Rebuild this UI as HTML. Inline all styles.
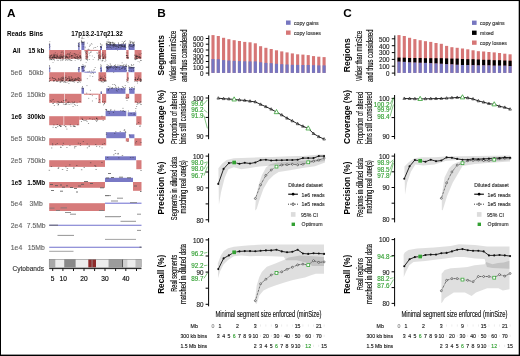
<!DOCTYPE html>
<html><head><meta charset="utf-8"><style>
html,body{margin:0;padding:0;background:#fff;}
body{width:520px;height:356px;overflow:hidden;}
svg{display:block;will-change:transform;font-family:"Liberation Sans", sans-serif;}
</style></head><body>
<svg width="520" height="356" viewBox="0 0 520 356">
<rect x="0" y="0" width="520" height="356" fill="#fff"/>
<text x="7.00" y="17.20" font-size="11.8" text-anchor="start" font-weight="bold" fill="#000" >A</text>
<text x="16.50" y="35.90" font-size="6.3" text-anchor="middle" font-weight="bold" fill="#000" >Reads</text>
<text x="36.20" y="35.90" font-size="6.3" text-anchor="middle" font-weight="bold" fill="#000" >Bins</text>
<text x="97.00" y="35.90" font-size="6.3" text-anchor="middle" font-weight="bold" fill="#000" textLength="51.4" lengthAdjust="spacingAndGlyphs" >17p13.2-17q21.32</text>
<text x="16.50" y="53.20" font-size="6.3" text-anchor="middle" font-weight="bold" fill="#000" >All</text>
<text x="36.20" y="53.20" font-size="6.3" text-anchor="middle" font-weight="bold" fill="#000" >15 kb</text>
<text x="16.50" y="75.40" font-size="6.8" text-anchor="middle" font-weight="normal" fill="#666"  stroke="#666" stroke-width="0.14">5e6</text>
<text x="36.20" y="75.40" font-size="6.8" text-anchor="middle" font-weight="normal" fill="#666"  stroke="#666" stroke-width="0.14">50kb</text>
<text x="16.50" y="97.00" font-size="6.8" text-anchor="middle" font-weight="normal" fill="#666"  stroke="#666" stroke-width="0.14">2e6</text>
<text x="36.20" y="97.00" font-size="6.8" text-anchor="middle" font-weight="normal" fill="#666"  stroke="#666" stroke-width="0.14">150kb</text>
<text x="16.50" y="119.40" font-size="6.3" text-anchor="middle" font-weight="bold" fill="#000" >1e6</text>
<text x="36.20" y="119.40" font-size="6.3" text-anchor="middle" font-weight="bold" fill="#000" >300kb</text>
<text x="16.50" y="141.40" font-size="6.8" text-anchor="middle" font-weight="normal" fill="#666"  stroke="#666" stroke-width="0.14">5e5</text>
<text x="36.20" y="141.40" font-size="6.8" text-anchor="middle" font-weight="normal" fill="#666"  stroke="#666" stroke-width="0.14">500kb</text>
<text x="16.50" y="163.40" font-size="6.8" text-anchor="middle" font-weight="normal" fill="#666"  stroke="#666" stroke-width="0.14">2e5</text>
<text x="36.20" y="163.40" font-size="6.8" text-anchor="middle" font-weight="normal" fill="#666"  stroke="#666" stroke-width="0.14">750kb</text>
<text x="16.50" y="185.20" font-size="6.3" text-anchor="middle" font-weight="bold" fill="#000" >1e5</text>
<text x="36.20" y="185.20" font-size="6.3" text-anchor="middle" font-weight="bold" fill="#000" >1.5Mb</text>
<text x="16.50" y="206.40" font-size="6.8" text-anchor="middle" font-weight="normal" fill="#666"  stroke="#666" stroke-width="0.14">5e4</text>
<text x="36.20" y="206.40" font-size="6.8" text-anchor="middle" font-weight="normal" fill="#666"  stroke="#666" stroke-width="0.14">3Mb</text>
<text x="16.50" y="228.40" font-size="6.8" text-anchor="middle" font-weight="normal" fill="#666"  stroke="#666" stroke-width="0.14">2e4</text>
<text x="36.20" y="228.40" font-size="6.8" text-anchor="middle" font-weight="normal" fill="#666"  stroke="#666" stroke-width="0.14">7.5Mb</text>
<text x="16.50" y="250.40" font-size="6.8" text-anchor="middle" font-weight="normal" fill="#666"  stroke="#666" stroke-width="0.14">1e4</text>
<text x="36.20" y="250.40" font-size="6.8" text-anchor="middle" font-weight="normal" fill="#666"  stroke="#666" stroke-width="0.14">15Mb</text>
<rect x="49.20" y="50.00" width="32.20" height="8.80" fill="#d47474" fill-opacity="0.95"/>
<rect x="49.20" y="44.00" width="1.00" height="6.00" fill="#7272c2" fill-opacity="0.95"/>
<rect x="78.20" y="43.00" width="1.40" height="7.00" fill="#7272c2" fill-opacity="0.95"/>
<rect x="81.40" y="42.00" width="3.00" height="8.00" fill="#7272c2" fill-opacity="0.95"/>
<line x1="84.40" y1="50.40" x2="98.30" y2="50.40" stroke="#d47474" stroke-width="1.0" />
<rect x="85.60" y="50.00" width="2.30" height="8.80" fill="#d47474" fill-opacity="0.95"/>
<rect x="98.30" y="50.00" width="2.70" height="8.80" fill="#d47474" fill-opacity="0.95"/>
<rect x="100.30" y="46.00" width="1.70" height="4.00" fill="#7272c2" fill-opacity="0.95"/>
<rect x="102.00" y="50.00" width="4.10" height="8.80" fill="#d47474" fill-opacity="0.95"/>
<rect x="106.10" y="44.20" width="19.90" height="5.80" fill="#7272c2" fill-opacity="0.95"/>
<rect x="126.30" y="50.00" width="2.30" height="8.80" fill="#d47474" fill-opacity="0.95"/>
<rect x="128.60" y="44.20" width="6.00" height="5.80" fill="#7272c2" fill-opacity="0.95"/>
<rect x="134.60" y="50.00" width="6.90" height="8.80" fill="#d47474" fill-opacity="0.95"/>
<rect x="59.18" y="58.51" width="0.90" height="0.6" fill="#1a1a1a" fill-opacity="0.6"/>
<rect x="51.08" y="59.14" width="0.90" height="0.6" fill="#1a1a1a" fill-opacity="0.6"/>
<rect x="66.01" y="56.46" width="0.90" height="0.6" fill="#1a1a1a" fill-opacity="0.6"/>
<rect x="65.09" y="57.39" width="0.90" height="0.6" fill="#1a1a1a" fill-opacity="0.6"/>
<rect x="49.96" y="56.24" width="0.90" height="0.6" fill="#1a1a1a" fill-opacity="0.6"/>
<rect x="51.67" y="57.19" width="0.90" height="0.6" fill="#1a1a1a" fill-opacity="0.6"/>
<rect x="62.42" y="57.35" width="0.90" height="0.6" fill="#1a1a1a" fill-opacity="0.6"/>
<rect x="55.94" y="56.03" width="0.90" height="0.6" fill="#1a1a1a" fill-opacity="0.6"/>
<rect x="68.95" y="59.26" width="0.90" height="0.6" fill="#1a1a1a" fill-opacity="0.6"/>
<rect x="61.52" y="56.10" width="0.90" height="0.6" fill="#1a1a1a" fill-opacity="0.6"/>
<rect x="80.19" y="60.50" width="0.90" height="0.6" fill="#1a1a1a" fill-opacity="0.6"/>
<rect x="58.08" y="57.98" width="0.90" height="0.6" fill="#1a1a1a" fill-opacity="0.6"/>
<rect x="53.40" y="58.11" width="0.90" height="0.6" fill="#1a1a1a" fill-opacity="0.6"/>
<rect x="75.03" y="58.00" width="0.90" height="0.6" fill="#1a1a1a" fill-opacity="0.6"/>
<rect x="54.57" y="54.54" width="0.90" height="0.6" fill="#1a1a1a" fill-opacity="0.6"/>
<rect x="60.74" y="55.57" width="0.90" height="0.6" fill="#1a1a1a" fill-opacity="0.6"/>
<rect x="66.39" y="57.51" width="0.90" height="0.6" fill="#1a1a1a" fill-opacity="0.6"/>
<rect x="55.38" y="57.16" width="0.90" height="0.6" fill="#1a1a1a" fill-opacity="0.6"/>
<rect x="70.66" y="55.42" width="0.90" height="0.6" fill="#1a1a1a" fill-opacity="0.6"/>
<rect x="67.61" y="57.63" width="0.90" height="0.6" fill="#1a1a1a" fill-opacity="0.6"/>
<rect x="63.34" y="55.86" width="0.90" height="0.6" fill="#1a1a1a" fill-opacity="0.6"/>
<rect x="71.26" y="60.12" width="0.90" height="0.6" fill="#1a1a1a" fill-opacity="0.6"/>
<rect x="56.61" y="54.83" width="0.90" height="0.6" fill="#1a1a1a" fill-opacity="0.6"/>
<rect x="76.93" y="55.85" width="0.90" height="0.6" fill="#1a1a1a" fill-opacity="0.6"/>
<rect x="72.24" y="55.64" width="0.90" height="0.6" fill="#1a1a1a" fill-opacity="0.6"/>
<rect x="52.55" y="62.07" width="0.90" height="0.6" fill="#1a1a1a" fill-opacity="0.6"/>
<rect x="62.21" y="56.95" width="0.90" height="0.6" fill="#1a1a1a" fill-opacity="0.6"/>
<rect x="64.49" y="55.81" width="0.90" height="0.6" fill="#1a1a1a" fill-opacity="0.6"/>
<rect x="50.01" y="55.31" width="0.90" height="0.6" fill="#1a1a1a" fill-opacity="0.6"/>
<rect x="67.20" y="54.09" width="0.90" height="0.6" fill="#1a1a1a" fill-opacity="0.6"/>
<rect x="76.94" y="55.76" width="0.90" height="0.6" fill="#1a1a1a" fill-opacity="0.6"/>
<rect x="67.89" y="59.60" width="0.90" height="0.6" fill="#1a1a1a" fill-opacity="0.6"/>
<rect x="67.42" y="53.40" width="0.90" height="0.6" fill="#1a1a1a" fill-opacity="0.6"/>
<rect x="79.17" y="57.89" width="0.90" height="0.6" fill="#1a1a1a" fill-opacity="0.6"/>
<rect x="64.02" y="56.55" width="0.90" height="0.6" fill="#1a1a1a" fill-opacity="0.6"/>
<rect x="71.34" y="56.32" width="0.90" height="0.6" fill="#1a1a1a" fill-opacity="0.6"/>
<rect x="69.59" y="60.43" width="0.90" height="0.6" fill="#1a1a1a" fill-opacity="0.6"/>
<rect x="57.91" y="56.75" width="0.90" height="0.6" fill="#1a1a1a" fill-opacity="0.6"/>
<rect x="61.17" y="56.70" width="0.90" height="0.6" fill="#1a1a1a" fill-opacity="0.6"/>
<rect x="63.62" y="56.55" width="0.90" height="0.6" fill="#1a1a1a" fill-opacity="0.6"/>
<rect x="54.16" y="57.39" width="0.90" height="0.6" fill="#1a1a1a" fill-opacity="0.6"/>
<rect x="73.49" y="57.34" width="0.90" height="0.6" fill="#1a1a1a" fill-opacity="0.6"/>
<rect x="52.91" y="56.93" width="0.90" height="0.6" fill="#1a1a1a" fill-opacity="0.6"/>
<rect x="76.81" y="58.79" width="0.90" height="0.6" fill="#1a1a1a" fill-opacity="0.6"/>
<rect x="51.34" y="54.62" width="0.90" height="0.6" fill="#1a1a1a" fill-opacity="0.6"/>
<rect x="77.19" y="57.65" width="0.90" height="0.6" fill="#1a1a1a" fill-opacity="0.6"/>
<rect x="75.13" y="57.91" width="0.90" height="0.6" fill="#1a1a1a" fill-opacity="0.6"/>
<rect x="62.12" y="55.74" width="0.90" height="0.6" fill="#1a1a1a" fill-opacity="0.6"/>
<rect x="60.30" y="60.47" width="0.90" height="0.6" fill="#1a1a1a" fill-opacity="0.6"/>
<rect x="53.61" y="53.72" width="0.90" height="0.6" fill="#1a1a1a" fill-opacity="0.6"/>
<rect x="54.42" y="57.06" width="0.90" height="0.6" fill="#1a1a1a" fill-opacity="0.6"/>
<rect x="64.37" y="58.28" width="0.90" height="0.6" fill="#1a1a1a" fill-opacity="0.6"/>
<rect x="67.72" y="56.89" width="0.90" height="0.6" fill="#1a1a1a" fill-opacity="0.6"/>
<rect x="62.24" y="57.07" width="0.90" height="0.6" fill="#1a1a1a" fill-opacity="0.6"/>
<rect x="60.64" y="52.60" width="0.90" height="0.6" fill="#1a1a1a" fill-opacity="0.6"/>
<rect x="70.98" y="55.00" width="0.90" height="0.6" fill="#1a1a1a" fill-opacity="0.6"/>
<rect x="65.35" y="54.79" width="0.90" height="0.6" fill="#1a1a1a" fill-opacity="0.6"/>
<rect x="50.49" y="54.98" width="0.90" height="0.6" fill="#1a1a1a" fill-opacity="0.6"/>
<rect x="77.71" y="57.62" width="0.90" height="0.6" fill="#1a1a1a" fill-opacity="0.6"/>
<rect x="74.44" y="53.10" width="0.90" height="0.6" fill="#1a1a1a" fill-opacity="0.6"/>
<rect x="61.38" y="56.18" width="0.90" height="0.6" fill="#1a1a1a" fill-opacity="0.6"/>
<rect x="69.17" y="57.43" width="0.90" height="0.6" fill="#1a1a1a" fill-opacity="0.6"/>
<rect x="50.75" y="58.09" width="0.90" height="0.6" fill="#1a1a1a" fill-opacity="0.6"/>
<rect x="53.98" y="57.43" width="0.90" height="0.6" fill="#1a1a1a" fill-opacity="0.6"/>
<rect x="59.70" y="56.94" width="0.90" height="0.6" fill="#1a1a1a" fill-opacity="0.6"/>
<rect x="53.62" y="56.91" width="0.90" height="0.6" fill="#1a1a1a" fill-opacity="0.6"/>
<rect x="52.02" y="56.62" width="0.90" height="0.6" fill="#1a1a1a" fill-opacity="0.6"/>
<rect x="76.90" y="57.23" width="0.90" height="0.6" fill="#1a1a1a" fill-opacity="0.6"/>
<rect x="68.52" y="57.76" width="0.90" height="0.6" fill="#1a1a1a" fill-opacity="0.6"/>
<rect x="59.94" y="58.06" width="0.90" height="0.6" fill="#1a1a1a" fill-opacity="0.6"/>
<rect x="60.48" y="59.55" width="0.90" height="0.6" fill="#1a1a1a" fill-opacity="0.6"/>
<rect x="80.73" y="59.48" width="0.90" height="0.6" fill="#1a1a1a" fill-opacity="0.6"/>
<rect x="63.75" y="56.10" width="0.90" height="0.6" fill="#1a1a1a" fill-opacity="0.6"/>
<rect x="52.04" y="56.98" width="0.90" height="0.6" fill="#1a1a1a" fill-opacity="0.6"/>
<rect x="59.78" y="56.57" width="0.90" height="0.6" fill="#1a1a1a" fill-opacity="0.6"/>
<rect x="53.95" y="60.45" width="0.90" height="0.6" fill="#1a1a1a" fill-opacity="0.6"/>
<rect x="49.49" y="59.12" width="0.90" height="0.6" fill="#1a1a1a" fill-opacity="0.6"/>
<rect x="53.47" y="56.19" width="0.90" height="0.6" fill="#1a1a1a" fill-opacity="0.6"/>
<rect x="66.24" y="59.20" width="0.90" height="0.6" fill="#1a1a1a" fill-opacity="0.6"/>
<rect x="80.26" y="57.29" width="0.90" height="0.6" fill="#1a1a1a" fill-opacity="0.6"/>
<rect x="76.55" y="56.41" width="0.90" height="0.6" fill="#1a1a1a" fill-opacity="0.6"/>
<rect x="60.56" y="55.51" width="0.90" height="0.6" fill="#1a1a1a" fill-opacity="0.6"/>
<rect x="54.13" y="57.22" width="0.90" height="0.6" fill="#1a1a1a" fill-opacity="0.6"/>
<rect x="73.84" y="54.58" width="0.90" height="0.6" fill="#1a1a1a" fill-opacity="0.6"/>
<rect x="59.37" y="57.49" width="0.90" height="0.6" fill="#1a1a1a" fill-opacity="0.6"/>
<rect x="80.46" y="60.32" width="0.90" height="0.6" fill="#1a1a1a" fill-opacity="0.6"/>
<rect x="76.20" y="58.11" width="0.90" height="0.6" fill="#1a1a1a" fill-opacity="0.6"/>
<rect x="72.57" y="53.61" width="0.90" height="0.6" fill="#1a1a1a" fill-opacity="0.6"/>
<rect x="56.05" y="55.13" width="0.90" height="0.6" fill="#1a1a1a" fill-opacity="0.6"/>
<rect x="49.68" y="56.70" width="0.90" height="0.6" fill="#1a1a1a" fill-opacity="0.6"/>
<rect x="49.65" y="56.63" width="0.90" height="0.6" fill="#1a1a1a" fill-opacity="0.6"/>
<rect x="71.05" y="58.35" width="0.90" height="0.6" fill="#1a1a1a" fill-opacity="0.6"/>
<rect x="79.55" y="52.68" width="0.90" height="0.6" fill="#1a1a1a" fill-opacity="0.6"/>
<rect x="80.56" y="58.35" width="0.90" height="0.6" fill="#1a1a1a" fill-opacity="0.6"/>
<rect x="79.50" y="56.02" width="0.90" height="0.6" fill="#1a1a1a" fill-opacity="0.6"/>
<rect x="56.05" y="57.91" width="0.90" height="0.6" fill="#1a1a1a" fill-opacity="0.6"/>
<rect x="55.08" y="57.65" width="0.90" height="0.6" fill="#1a1a1a" fill-opacity="0.6"/>
<rect x="77.74" y="59.45" width="0.90" height="0.6" fill="#1a1a1a" fill-opacity="0.6"/>
<rect x="75.81" y="54.16" width="0.90" height="0.6" fill="#1a1a1a" fill-opacity="0.6"/>
<rect x="74.50" y="57.26" width="0.90" height="0.6" fill="#1a1a1a" fill-opacity="0.6"/>
<rect x="51.48" y="54.68" width="0.90" height="0.6" fill="#1a1a1a" fill-opacity="0.6"/>
<rect x="73.94" y="53.37" width="0.90" height="0.6" fill="#1a1a1a" fill-opacity="0.6"/>
<rect x="72.90" y="55.72" width="0.90" height="0.6" fill="#1a1a1a" fill-opacity="0.6"/>
<rect x="74.16" y="57.06" width="0.90" height="0.6" fill="#1a1a1a" fill-opacity="0.6"/>
<rect x="59.46" y="58.49" width="0.90" height="0.6" fill="#1a1a1a" fill-opacity="0.6"/>
<rect x="61.50" y="52.08" width="0.90" height="0.6" fill="#1a1a1a" fill-opacity="0.6"/>
<rect x="61.67" y="59.78" width="0.90" height="0.6" fill="#1a1a1a" fill-opacity="0.6"/>
<rect x="54.22" y="55.90" width="0.90" height="0.6" fill="#1a1a1a" fill-opacity="0.6"/>
<rect x="52.84" y="59.30" width="0.90" height="0.6" fill="#1a1a1a" fill-opacity="0.6"/>
<rect x="74.72" y="60.25" width="0.90" height="0.6" fill="#1a1a1a" fill-opacity="0.6"/>
<rect x="53.46" y="59.36" width="0.90" height="0.6" fill="#1a1a1a" fill-opacity="0.6"/>
<rect x="69.91" y="52.18" width="0.90" height="0.6" fill="#1a1a1a" fill-opacity="0.6"/>
<rect x="60.03" y="55.94" width="0.90" height="0.6" fill="#1a1a1a" fill-opacity="0.6"/>
<rect x="49.21" y="56.60" width="0.90" height="0.6" fill="#1a1a1a" fill-opacity="0.6"/>
<rect x="80.01" y="55.53" width="0.90" height="0.6" fill="#1a1a1a" fill-opacity="0.6"/>
<rect x="78.81" y="55.02" width="0.90" height="0.6" fill="#1a1a1a" fill-opacity="0.6"/>
<rect x="62.72" y="59.36" width="0.90" height="0.6" fill="#1a1a1a" fill-opacity="0.6"/>
<rect x="55.55" y="54.34" width="0.90" height="0.6" fill="#1a1a1a" fill-opacity="0.6"/>
<rect x="56.86" y="56.52" width="0.90" height="0.6" fill="#1a1a1a" fill-opacity="0.6"/>
<rect x="67.63" y="58.26" width="0.90" height="0.6" fill="#1a1a1a" fill-opacity="0.6"/>
<rect x="57.10" y="56.02" width="0.90" height="0.6" fill="#1a1a1a" fill-opacity="0.6"/>
<rect x="78.05" y="57.39" width="0.90" height="0.6" fill="#1a1a1a" fill-opacity="0.6"/>
<rect x="60.14" y="54.47" width="0.90" height="0.6" fill="#1a1a1a" fill-opacity="0.6"/>
<rect x="77.87" y="57.55" width="0.90" height="0.6" fill="#1a1a1a" fill-opacity="0.6"/>
<rect x="62.29" y="58.85" width="0.90" height="0.6" fill="#1a1a1a" fill-opacity="0.6"/>
<rect x="65.87" y="55.79" width="0.90" height="0.6" fill="#1a1a1a" fill-opacity="0.6"/>
<rect x="65.61" y="58.93" width="0.90" height="0.6" fill="#1a1a1a" fill-opacity="0.6"/>
<rect x="54.65" y="57.14" width="0.90" height="0.6" fill="#1a1a1a" fill-opacity="0.6"/>
<rect x="48.88" y="57.26" width="0.90" height="0.6" fill="#1a1a1a" fill-opacity="0.6"/>
<rect x="64.00" y="55.79" width="0.90" height="0.6" fill="#1a1a1a" fill-opacity="0.6"/>
<rect x="72.10" y="55.32" width="0.90" height="0.6" fill="#1a1a1a" fill-opacity="0.6"/>
<rect x="65.44" y="56.31" width="0.90" height="0.6" fill="#1a1a1a" fill-opacity="0.6"/>
<rect x="66.64" y="57.09" width="0.90" height="0.6" fill="#1a1a1a" fill-opacity="0.6"/>
<rect x="66.79" y="56.02" width="0.90" height="0.6" fill="#1a1a1a" fill-opacity="0.6"/>
<rect x="56.75" y="56.35" width="0.90" height="0.6" fill="#1a1a1a" fill-opacity="0.6"/>
<rect x="65.10" y="60.12" width="0.90" height="0.6" fill="#1a1a1a" fill-opacity="0.6"/>
<rect x="66.84" y="57.16" width="0.90" height="0.6" fill="#1a1a1a" fill-opacity="0.6"/>
<rect x="63.02" y="52.71" width="0.90" height="0.6" fill="#1a1a1a" fill-opacity="0.6"/>
<rect x="68.47" y="54.62" width="0.90" height="0.6" fill="#1a1a1a" fill-opacity="0.6"/>
<rect x="71.06" y="56.82" width="0.90" height="0.6" fill="#1a1a1a" fill-opacity="0.6"/>
<rect x="63.32" y="54.78" width="0.90" height="0.6" fill="#1a1a1a" fill-opacity="0.6"/>
<rect x="79.07" y="56.45" width="0.90" height="0.6" fill="#1a1a1a" fill-opacity="0.6"/>
<rect x="71.26" y="60.14" width="0.90" height="0.6" fill="#1a1a1a" fill-opacity="0.6"/>
<rect x="57.11" y="53.72" width="0.90" height="0.6" fill="#1a1a1a" fill-opacity="0.6"/>
<rect x="66.77" y="60.31" width="0.90" height="0.6" fill="#1a1a1a" fill-opacity="0.6"/>
<rect x="53.17" y="55.63" width="0.90" height="0.6" fill="#1a1a1a" fill-opacity="0.6"/>
<rect x="52.67" y="56.21" width="0.90" height="0.6" fill="#1a1a1a" fill-opacity="0.6"/>
<rect x="56.50" y="57.16" width="0.90" height="0.6" fill="#1a1a1a" fill-opacity="0.6"/>
<rect x="51.10" y="55.29" width="0.90" height="0.6" fill="#1a1a1a" fill-opacity="0.6"/>
<rect x="77.63" y="53.99" width="0.90" height="0.6" fill="#1a1a1a" fill-opacity="0.6"/>
<rect x="53.72" y="56.31" width="0.90" height="0.6" fill="#1a1a1a" fill-opacity="0.6"/>
<rect x="53.35" y="54.17" width="0.90" height="0.6" fill="#1a1a1a" fill-opacity="0.6"/>
<rect x="77.18" y="58.21" width="0.90" height="0.6" fill="#1a1a1a" fill-opacity="0.6"/>
<rect x="79.42" y="56.63" width="0.90" height="0.6" fill="#1a1a1a" fill-opacity="0.6"/>
<rect x="61.57" y="51.16" width="0.90" height="0.6" fill="#1a1a1a" fill-opacity="0.6"/>
<rect x="75.55" y="57.36" width="0.90" height="0.6" fill="#1a1a1a" fill-opacity="0.6"/>
<rect x="53.95" y="54.82" width="0.90" height="0.6" fill="#1a1a1a" fill-opacity="0.6"/>
<rect x="59.67" y="57.85" width="0.90" height="0.6" fill="#1a1a1a" fill-opacity="0.6"/>
<rect x="55.05" y="55.63" width="0.90" height="0.6" fill="#1a1a1a" fill-opacity="0.6"/>
<rect x="49.38" y="59.66" width="0.90" height="0.6" fill="#1a1a1a" fill-opacity="0.6"/>
<rect x="66.59" y="56.56" width="0.90" height="0.6" fill="#1a1a1a" fill-opacity="0.6"/>
<rect x="59.42" y="57.03" width="0.90" height="0.6" fill="#1a1a1a" fill-opacity="0.6"/>
<rect x="68.84" y="56.21" width="0.90" height="0.6" fill="#1a1a1a" fill-opacity="0.6"/>
<rect x="80.47" y="56.85" width="0.90" height="0.6" fill="#1a1a1a" fill-opacity="0.6"/>
<rect x="74.14" y="57.78" width="0.90" height="0.6" fill="#1a1a1a" fill-opacity="0.6"/>
<rect x="57.30" y="56.74" width="0.90" height="0.6" fill="#1a1a1a" fill-opacity="0.6"/>
<rect x="50.02" y="57.17" width="0.90" height="0.6" fill="#1a1a1a" fill-opacity="0.6"/>
<rect x="52.92" y="55.42" width="0.90" height="0.6" fill="#1a1a1a" fill-opacity="0.6"/>
<rect x="62.35" y="59.88" width="0.90" height="0.6" fill="#1a1a1a" fill-opacity="0.6"/>
<rect x="57.08" y="55.04" width="0.90" height="0.6" fill="#1a1a1a" fill-opacity="0.6"/>
<rect x="53.56" y="59.06" width="0.90" height="0.6" fill="#1a1a1a" fill-opacity="0.6"/>
<rect x="71.30" y="55.70" width="0.90" height="0.6" fill="#1a1a1a" fill-opacity="0.6"/>
<rect x="51.63" y="59.61" width="0.90" height="0.6" fill="#1a1a1a" fill-opacity="0.6"/>
<rect x="62.45" y="57.93" width="0.90" height="0.6" fill="#1a1a1a" fill-opacity="0.6"/>
<rect x="51.08" y="59.40" width="0.90" height="0.6" fill="#1a1a1a" fill-opacity="0.6"/>
<rect x="74.56" y="55.88" width="0.90" height="0.6" fill="#1a1a1a" fill-opacity="0.6"/>
<rect x="51.45" y="57.34" width="0.90" height="0.6" fill="#1a1a1a" fill-opacity="0.6"/>
<rect x="76.53" y="56.35" width="0.90" height="0.6" fill="#1a1a1a" fill-opacity="0.6"/>
<rect x="63.36" y="55.62" width="0.90" height="0.6" fill="#1a1a1a" fill-opacity="0.6"/>
<rect x="78.59" y="58.94" width="0.90" height="0.6" fill="#1a1a1a" fill-opacity="0.6"/>
<rect x="57.38" y="58.50" width="0.90" height="0.6" fill="#1a1a1a" fill-opacity="0.6"/>
<rect x="56.43" y="58.59" width="0.90" height="0.6" fill="#1a1a1a" fill-opacity="0.6"/>
<rect x="52.27" y="57.22" width="0.90" height="0.6" fill="#1a1a1a" fill-opacity="0.6"/>
<rect x="55.25" y="57.42" width="0.90" height="0.6" fill="#1a1a1a" fill-opacity="0.6"/>
<rect x="58.80" y="55.81" width="0.90" height="0.6" fill="#1a1a1a" fill-opacity="0.6"/>
<rect x="58.09" y="59.92" width="0.90" height="0.6" fill="#1a1a1a" fill-opacity="0.6"/>
<rect x="64.85" y="57.67" width="0.90" height="0.6" fill="#1a1a1a" fill-opacity="0.6"/>
<rect x="49.33" y="58.48" width="0.90" height="0.6" fill="#1a1a1a" fill-opacity="0.6"/>
<rect x="56.81" y="59.97" width="0.90" height="0.6" fill="#1a1a1a" fill-opacity="0.6"/>
<rect x="66.49" y="57.20" width="0.90" height="0.6" fill="#1a1a1a" fill-opacity="0.6"/>
<rect x="54.85" y="52.52" width="0.90" height="0.6" fill="#1a1a1a" fill-opacity="0.6"/>
<rect x="52.17" y="57.60" width="0.90" height="0.6" fill="#1a1a1a" fill-opacity="0.6"/>
<rect x="75.12" y="54.88" width="0.90" height="0.6" fill="#1a1a1a" fill-opacity="0.6"/>
<rect x="75.62" y="57.82" width="0.90" height="0.6" fill="#1a1a1a" fill-opacity="0.6"/>
<rect x="61.41" y="54.00" width="0.90" height="0.6" fill="#1a1a1a" fill-opacity="0.6"/>
<rect x="80.38" y="56.78" width="0.90" height="0.6" fill="#1a1a1a" fill-opacity="0.6"/>
<rect x="59.79" y="58.37" width="0.90" height="0.6" fill="#1a1a1a" fill-opacity="0.6"/>
<rect x="69.23" y="54.31" width="0.90" height="0.6" fill="#1a1a1a" fill-opacity="0.6"/>
<rect x="61.78" y="56.53" width="0.90" height="0.6" fill="#1a1a1a" fill-opacity="0.6"/>
<rect x="52.93" y="57.42" width="0.90" height="0.6" fill="#1a1a1a" fill-opacity="0.6"/>
<rect x="51.03" y="56.82" width="0.90" height="0.6" fill="#1a1a1a" fill-opacity="0.6"/>
<rect x="54.01" y="55.44" width="0.90" height="0.6" fill="#1a1a1a" fill-opacity="0.6"/>
<rect x="51.47" y="58.98" width="0.90" height="0.6" fill="#1a1a1a" fill-opacity="0.6"/>
<rect x="70.34" y="53.67" width="0.90" height="0.6" fill="#1a1a1a" fill-opacity="0.6"/>
<rect x="57.83" y="56.98" width="0.90" height="0.6" fill="#1a1a1a" fill-opacity="0.6"/>
<rect x="63.54" y="58.48" width="0.90" height="0.6" fill="#1a1a1a" fill-opacity="0.6"/>
<rect x="53.82" y="55.50" width="0.90" height="0.6" fill="#1a1a1a" fill-opacity="0.6"/>
<rect x="79.72" y="57.40" width="0.90" height="0.6" fill="#1a1a1a" fill-opacity="0.6"/>
<rect x="80.07" y="55.54" width="0.90" height="0.6" fill="#1a1a1a" fill-opacity="0.6"/>
<rect x="79.84" y="56.49" width="0.90" height="0.6" fill="#1a1a1a" fill-opacity="0.6"/>
<rect x="58.72" y="56.85" width="0.90" height="0.6" fill="#1a1a1a" fill-opacity="0.6"/>
<rect x="61.04" y="56.97" width="0.90" height="0.6" fill="#1a1a1a" fill-opacity="0.6"/>
<rect x="64.03" y="55.63" width="0.90" height="0.6" fill="#1a1a1a" fill-opacity="0.6"/>
<rect x="65.00" y="56.88" width="0.90" height="0.6" fill="#1a1a1a" fill-opacity="0.6"/>
<rect x="48.91" y="56.83" width="0.90" height="0.6" fill="#1a1a1a" fill-opacity="0.6"/>
<rect x="61.61" y="57.72" width="0.90" height="0.6" fill="#1a1a1a" fill-opacity="0.6"/>
<rect x="50.09" y="58.50" width="0.90" height="0.6" fill="#1a1a1a" fill-opacity="0.6"/>
<rect x="56.25" y="57.13" width="0.90" height="0.6" fill="#1a1a1a" fill-opacity="0.6"/>
<rect x="67.61" y="53.79" width="0.90" height="0.6" fill="#1a1a1a" fill-opacity="0.6"/>
<rect x="69.92" y="56.32" width="0.90" height="0.6" fill="#1a1a1a" fill-opacity="0.6"/>
<rect x="71.80" y="58.27" width="0.90" height="0.6" fill="#1a1a1a" fill-opacity="0.6"/>
<rect x="59.25" y="55.60" width="0.90" height="0.6" fill="#1a1a1a" fill-opacity="0.6"/>
<rect x="80.46" y="58.70" width="0.90" height="0.6" fill="#1a1a1a" fill-opacity="0.6"/>
<rect x="69.46" y="59.36" width="0.90" height="0.6" fill="#1a1a1a" fill-opacity="0.6"/>
<rect x="50.16" y="58.95" width="0.90" height="0.6" fill="#1a1a1a" fill-opacity="0.6"/>
<rect x="68.95" y="53.45" width="0.90" height="0.6" fill="#1a1a1a" fill-opacity="0.6"/>
<rect x="72.38" y="57.30" width="0.90" height="0.6" fill="#1a1a1a" fill-opacity="0.6"/>
<rect x="65.61" y="55.94" width="0.90" height="0.6" fill="#1a1a1a" fill-opacity="0.6"/>
<rect x="64.99" y="58.65" width="0.90" height="0.6" fill="#1a1a1a" fill-opacity="0.6"/>
<rect x="75.36" y="53.94" width="0.90" height="0.6" fill="#1a1a1a" fill-opacity="0.6"/>
<rect x="67.56" y="59.15" width="0.90" height="0.6" fill="#1a1a1a" fill-opacity="0.6"/>
<rect x="71.08" y="55.10" width="0.90" height="0.6" fill="#1a1a1a" fill-opacity="0.6"/>
<rect x="56.15" y="57.90" width="0.90" height="0.6" fill="#1a1a1a" fill-opacity="0.6"/>
<rect x="60.36" y="57.10" width="0.90" height="0.6" fill="#1a1a1a" fill-opacity="0.6"/>
<rect x="52.13" y="58.15" width="0.90" height="0.6" fill="#1a1a1a" fill-opacity="0.6"/>
<rect x="68.96" y="54.82" width="0.90" height="0.6" fill="#1a1a1a" fill-opacity="0.6"/>
<rect x="68.91" y="55.97" width="0.90" height="0.6" fill="#1a1a1a" fill-opacity="0.6"/>
<rect x="48.86" y="54.90" width="0.90" height="0.6" fill="#1a1a1a" fill-opacity="0.6"/>
<rect x="74.44" y="56.88" width="0.90" height="0.6" fill="#1a1a1a" fill-opacity="0.6"/>
<rect x="65.98" y="54.65" width="0.90" height="0.6" fill="#1a1a1a" fill-opacity="0.6"/>
<rect x="69.98" y="59.74" width="0.90" height="0.6" fill="#1a1a1a" fill-opacity="0.6"/>
<rect x="49.00" y="45.43" width="0.90" height="0.6" fill="#1a1a1a" fill-opacity="0.6"/>
<rect x="48.82" y="43.88" width="0.90" height="0.6" fill="#1a1a1a" fill-opacity="0.6"/>
<rect x="48.96" y="47.24" width="0.90" height="0.6" fill="#1a1a1a" fill-opacity="0.6"/>
<rect x="49.49" y="46.37" width="0.90" height="0.6" fill="#1a1a1a" fill-opacity="0.6"/>
<rect x="49.13" y="43.84" width="0.90" height="0.6" fill="#1a1a1a" fill-opacity="0.6"/>
<rect x="49.23" y="42.87" width="0.90" height="0.6" fill="#1a1a1a" fill-opacity="0.6"/>
<rect x="49.37" y="41.21" width="0.90" height="0.6" fill="#1a1a1a" fill-opacity="0.6"/>
<rect x="78.65" y="44.13" width="0.90" height="0.6" fill="#1a1a1a" fill-opacity="0.6"/>
<rect x="78.11" y="43.68" width="0.90" height="0.6" fill="#1a1a1a" fill-opacity="0.6"/>
<rect x="78.79" y="42.35" width="0.90" height="0.6" fill="#1a1a1a" fill-opacity="0.6"/>
<rect x="77.77" y="45.50" width="0.90" height="0.6" fill="#1a1a1a" fill-opacity="0.6"/>
<rect x="77.83" y="42.85" width="0.90" height="0.6" fill="#1a1a1a" fill-opacity="0.6"/>
<rect x="78.72" y="46.00" width="0.90" height="0.6" fill="#1a1a1a" fill-opacity="0.6"/>
<rect x="78.70" y="42.60" width="0.90" height="0.6" fill="#1a1a1a" fill-opacity="0.6"/>
<rect x="78.40" y="45.40" width="0.90" height="0.6" fill="#1a1a1a" fill-opacity="0.6"/>
<rect x="78.40" y="46.14" width="0.90" height="0.6" fill="#1a1a1a" fill-opacity="0.6"/>
<rect x="78.03" y="45.91" width="0.90" height="0.6" fill="#1a1a1a" fill-opacity="0.6"/>
<rect x="83.88" y="42.51" width="0.90" height="0.6" fill="#1a1a1a" fill-opacity="0.6"/>
<rect x="82.33" y="42.04" width="0.90" height="0.6" fill="#1a1a1a" fill-opacity="0.6"/>
<rect x="83.41" y="44.21" width="0.90" height="0.6" fill="#1a1a1a" fill-opacity="0.6"/>
<rect x="81.76" y="41.77" width="0.90" height="0.6" fill="#1a1a1a" fill-opacity="0.6"/>
<rect x="81.58" y="43.41" width="0.90" height="0.6" fill="#1a1a1a" fill-opacity="0.6"/>
<rect x="82.69" y="41.74" width="0.90" height="0.6" fill="#1a1a1a" fill-opacity="0.6"/>
<rect x="81.38" y="37.54" width="0.90" height="0.6" fill="#1a1a1a" fill-opacity="0.6"/>
<rect x="81.35" y="41.47" width="0.90" height="0.6" fill="#1a1a1a" fill-opacity="0.6"/>
<rect x="83.41" y="38.22" width="0.90" height="0.6" fill="#1a1a1a" fill-opacity="0.6"/>
<rect x="83.06" y="41.96" width="0.90" height="0.6" fill="#1a1a1a" fill-opacity="0.6"/>
<rect x="81.64" y="43.94" width="0.90" height="0.6" fill="#1a1a1a" fill-opacity="0.6"/>
<rect x="81.02" y="40.87" width="0.90" height="0.6" fill="#1a1a1a" fill-opacity="0.6"/>
<rect x="80.96" y="40.10" width="0.90" height="0.6" fill="#1a1a1a" fill-opacity="0.6"/>
<rect x="81.86" y="42.29" width="0.90" height="0.6" fill="#1a1a1a" fill-opacity="0.6"/>
<rect x="81.37" y="41.26" width="0.90" height="0.6" fill="#1a1a1a" fill-opacity="0.6"/>
<rect x="83.47" y="43.56" width="0.90" height="0.6" fill="#1a1a1a" fill-opacity="0.6"/>
<rect x="80.96" y="42.20" width="0.90" height="0.6" fill="#1a1a1a" fill-opacity="0.6"/>
<rect x="81.31" y="38.55" width="0.90" height="0.6" fill="#1a1a1a" fill-opacity="0.6"/>
<rect x="83.73" y="41.24" width="0.90" height="0.6" fill="#1a1a1a" fill-opacity="0.6"/>
<rect x="81.82" y="38.20" width="0.90" height="0.6" fill="#1a1a1a" fill-opacity="0.6"/>
<rect x="82.07" y="36.73" width="0.90" height="0.6" fill="#1a1a1a" fill-opacity="0.6"/>
<rect x="82.72" y="46.52" width="0.90" height="0.6" fill="#1a1a1a" fill-opacity="0.6"/>
<rect x="88.96" y="46.27" width="0.90" height="0.6" fill="#1a1a1a" fill-opacity="0.6"/>
<rect x="84.62" y="51.36" width="0.90" height="0.6" fill="#1a1a1a" fill-opacity="0.6"/>
<rect x="85.36" y="51.68" width="0.90" height="0.6" fill="#1a1a1a" fill-opacity="0.6"/>
<rect x="96.95" y="46.34" width="0.90" height="0.6" fill="#1a1a1a" fill-opacity="0.6"/>
<rect x="87.42" y="49.14" width="0.90" height="0.6" fill="#1a1a1a" fill-opacity="0.6"/>
<rect x="86.59" y="55.35" width="0.90" height="0.6" fill="#1a1a1a" fill-opacity="0.6"/>
<rect x="89.14" y="59.19" width="0.90" height="0.6" fill="#1a1a1a" fill-opacity="0.6"/>
<rect x="95.24" y="47.02" width="0.90" height="0.6" fill="#1a1a1a" fill-opacity="0.6"/>
<rect x="92.72" y="59.36" width="0.90" height="0.6" fill="#1a1a1a" fill-opacity="0.6"/>
<rect x="91.58" y="43.86" width="0.90" height="0.6" fill="#1a1a1a" fill-opacity="0.6"/>
<rect x="93.95" y="57.04" width="0.90" height="0.6" fill="#1a1a1a" fill-opacity="0.6"/>
<rect x="90.22" y="52.06" width="0.90" height="0.6" fill="#1a1a1a" fill-opacity="0.6"/>
<rect x="94.41" y="47.30" width="0.90" height="0.6" fill="#1a1a1a" fill-opacity="0.6"/>
<rect x="84.63" y="46.63" width="0.90" height="0.6" fill="#1a1a1a" fill-opacity="0.6"/>
<rect x="96.83" y="53.44" width="0.90" height="0.6" fill="#1a1a1a" fill-opacity="0.6"/>
<rect x="88.73" y="53.55" width="0.90" height="0.6" fill="#1a1a1a" fill-opacity="0.6"/>
<rect x="88.09" y="48.81" width="0.90" height="0.6" fill="#1a1a1a" fill-opacity="0.6"/>
<rect x="87.57" y="36.74" width="0.90" height="0.6" fill="#1a1a1a" fill-opacity="0.6"/>
<rect x="93.07" y="47.80" width="0.90" height="0.6" fill="#1a1a1a" fill-opacity="0.6"/>
<rect x="89.43" y="55.46" width="0.90" height="0.6" fill="#1a1a1a" fill-opacity="0.6"/>
<rect x="86.28" y="51.41" width="0.90" height="0.6" fill="#1a1a1a" fill-opacity="0.6"/>
<rect x="96.54" y="52.46" width="0.90" height="0.6" fill="#1a1a1a" fill-opacity="0.6"/>
<rect x="90.86" y="51.64" width="0.90" height="0.6" fill="#1a1a1a" fill-opacity="0.6"/>
<rect x="97.80" y="59.85" width="0.90" height="0.6" fill="#1a1a1a" fill-opacity="0.6"/>
<rect x="90.20" y="51.69" width="0.90" height="0.6" fill="#1a1a1a" fill-opacity="0.6"/>
<rect x="85.21" y="52.09" width="0.90" height="0.6" fill="#1a1a1a" fill-opacity="0.6"/>
<rect x="88.70" y="52.65" width="0.90" height="0.6" fill="#1a1a1a" fill-opacity="0.6"/>
<rect x="87.54" y="51.60" width="0.90" height="0.6" fill="#1a1a1a" fill-opacity="0.6"/>
<rect x="91.87" y="55.70" width="0.90" height="0.6" fill="#1a1a1a" fill-opacity="0.6"/>
<rect x="89.69" y="44.56" width="0.90" height="0.6" fill="#1a1a1a" fill-opacity="0.6"/>
<rect x="89.70" y="45.13" width="0.90" height="0.6" fill="#1a1a1a" fill-opacity="0.6"/>
<rect x="88.65" y="49.00" width="0.90" height="0.6" fill="#1a1a1a" fill-opacity="0.6"/>
<rect x="84.81" y="47.56" width="0.90" height="0.6" fill="#1a1a1a" fill-opacity="0.6"/>
<rect x="85.70" y="61.96" width="0.90" height="0.6" fill="#1a1a1a" fill-opacity="0.6"/>
<rect x="90.95" y="43.20" width="0.90" height="0.6" fill="#1a1a1a" fill-opacity="0.6"/>
<rect x="86.95" y="42.81" width="0.90" height="0.6" fill="#1a1a1a" fill-opacity="0.6"/>
<rect x="85.77" y="56.92" width="0.90" height="0.6" fill="#1a1a1a" fill-opacity="0.6"/>
<rect x="86.18" y="58.82" width="0.90" height="0.6" fill="#1a1a1a" fill-opacity="0.6"/>
<rect x="87.34" y="59.14" width="0.90" height="0.6" fill="#1a1a1a" fill-opacity="0.6"/>
<rect x="85.20" y="53.76" width="0.90" height="0.6" fill="#1a1a1a" fill-opacity="0.6"/>
<rect x="85.22" y="55.88" width="0.90" height="0.6" fill="#1a1a1a" fill-opacity="0.6"/>
<rect x="86.24" y="52.99" width="0.90" height="0.6" fill="#1a1a1a" fill-opacity="0.6"/>
<rect x="86.50" y="58.79" width="0.90" height="0.6" fill="#1a1a1a" fill-opacity="0.6"/>
<rect x="87.28" y="56.90" width="0.90" height="0.6" fill="#1a1a1a" fill-opacity="0.6"/>
<rect x="87.05" y="60.03" width="0.90" height="0.6" fill="#1a1a1a" fill-opacity="0.6"/>
<rect x="85.72" y="52.89" width="0.90" height="0.6" fill="#1a1a1a" fill-opacity="0.6"/>
<rect x="85.40" y="58.21" width="0.90" height="0.6" fill="#1a1a1a" fill-opacity="0.6"/>
<rect x="86.72" y="58.81" width="0.90" height="0.6" fill="#1a1a1a" fill-opacity="0.6"/>
<rect x="87.32" y="56.42" width="0.90" height="0.6" fill="#1a1a1a" fill-opacity="0.6"/>
<rect x="86.91" y="54.20" width="0.90" height="0.6" fill="#1a1a1a" fill-opacity="0.6"/>
<rect x="86.20" y="56.39" width="0.90" height="0.6" fill="#1a1a1a" fill-opacity="0.6"/>
<rect x="86.95" y="56.73" width="0.90" height="0.6" fill="#1a1a1a" fill-opacity="0.6"/>
<rect x="85.68" y="59.30" width="0.90" height="0.6" fill="#1a1a1a" fill-opacity="0.6"/>
<rect x="98.67" y="55.58" width="0.90" height="0.6" fill="#1a1a1a" fill-opacity="0.6"/>
<rect x="98.20" y="56.87" width="0.90" height="0.6" fill="#1a1a1a" fill-opacity="0.6"/>
<rect x="99.74" y="59.60" width="0.90" height="0.6" fill="#1a1a1a" fill-opacity="0.6"/>
<rect x="98.15" y="58.99" width="0.90" height="0.6" fill="#1a1a1a" fill-opacity="0.6"/>
<rect x="99.42" y="57.89" width="0.90" height="0.6" fill="#1a1a1a" fill-opacity="0.6"/>
<rect x="98.90" y="57.33" width="0.90" height="0.6" fill="#1a1a1a" fill-opacity="0.6"/>
<rect x="97.88" y="59.44" width="0.90" height="0.6" fill="#1a1a1a" fill-opacity="0.6"/>
<rect x="98.66" y="52.24" width="0.90" height="0.6" fill="#1a1a1a" fill-opacity="0.6"/>
<rect x="99.59" y="58.07" width="0.90" height="0.6" fill="#1a1a1a" fill-opacity="0.6"/>
<rect x="100.24" y="55.53" width="0.90" height="0.6" fill="#1a1a1a" fill-opacity="0.6"/>
<rect x="98.52" y="57.11" width="0.90" height="0.6" fill="#1a1a1a" fill-opacity="0.6"/>
<rect x="100.44" y="56.44" width="0.90" height="0.6" fill="#1a1a1a" fill-opacity="0.6"/>
<rect x="97.91" y="55.34" width="0.90" height="0.6" fill="#1a1a1a" fill-opacity="0.6"/>
<rect x="99.20" y="55.99" width="0.90" height="0.6" fill="#1a1a1a" fill-opacity="0.6"/>
<rect x="98.54" y="55.14" width="0.90" height="0.6" fill="#1a1a1a" fill-opacity="0.6"/>
<rect x="99.65" y="58.11" width="0.90" height="0.6" fill="#1a1a1a" fill-opacity="0.6"/>
<rect x="97.94" y="56.28" width="0.90" height="0.6" fill="#1a1a1a" fill-opacity="0.6"/>
<rect x="98.76" y="54.37" width="0.90" height="0.6" fill="#1a1a1a" fill-opacity="0.6"/>
<rect x="98.38" y="58.28" width="0.90" height="0.6" fill="#1a1a1a" fill-opacity="0.6"/>
<rect x="100.00" y="56.75" width="0.90" height="0.6" fill="#1a1a1a" fill-opacity="0.6"/>
<rect x="100.20" y="43.93" width="0.90" height="0.6" fill="#1a1a1a" fill-opacity="0.6"/>
<rect x="101.50" y="44.85" width="0.90" height="0.6" fill="#1a1a1a" fill-opacity="0.6"/>
<rect x="100.24" y="49.44" width="0.90" height="0.6" fill="#1a1a1a" fill-opacity="0.6"/>
<rect x="100.23" y="46.28" width="0.90" height="0.6" fill="#1a1a1a" fill-opacity="0.6"/>
<rect x="101.47" y="44.60" width="0.90" height="0.6" fill="#1a1a1a" fill-opacity="0.6"/>
<rect x="100.69" y="46.70" width="0.90" height="0.6" fill="#1a1a1a" fill-opacity="0.6"/>
<rect x="100.56" y="47.43" width="0.90" height="0.6" fill="#1a1a1a" fill-opacity="0.6"/>
<rect x="100.98" y="47.19" width="0.90" height="0.6" fill="#1a1a1a" fill-opacity="0.6"/>
<rect x="100.52" y="45.84" width="0.90" height="0.6" fill="#1a1a1a" fill-opacity="0.6"/>
<rect x="100.21" y="47.22" width="0.90" height="0.6" fill="#1a1a1a" fill-opacity="0.6"/>
<rect x="99.94" y="46.01" width="0.90" height="0.6" fill="#1a1a1a" fill-opacity="0.6"/>
<rect x="99.95" y="43.00" width="0.90" height="0.6" fill="#1a1a1a" fill-opacity="0.6"/>
<rect x="105.17" y="59.42" width="0.90" height="0.6" fill="#1a1a1a" fill-opacity="0.6"/>
<rect x="104.55" y="61.30" width="0.90" height="0.6" fill="#1a1a1a" fill-opacity="0.6"/>
<rect x="102.90" y="56.83" width="0.90" height="0.6" fill="#1a1a1a" fill-opacity="0.6"/>
<rect x="102.31" y="59.79" width="0.90" height="0.6" fill="#1a1a1a" fill-opacity="0.6"/>
<rect x="101.68" y="55.67" width="0.90" height="0.6" fill="#1a1a1a" fill-opacity="0.6"/>
<rect x="104.27" y="55.57" width="0.90" height="0.6" fill="#1a1a1a" fill-opacity="0.6"/>
<rect x="102.91" y="58.17" width="0.90" height="0.6" fill="#1a1a1a" fill-opacity="0.6"/>
<rect x="102.24" y="58.44" width="0.90" height="0.6" fill="#1a1a1a" fill-opacity="0.6"/>
<rect x="102.99" y="56.93" width="0.90" height="0.6" fill="#1a1a1a" fill-opacity="0.6"/>
<rect x="105.47" y="60.40" width="0.90" height="0.6" fill="#1a1a1a" fill-opacity="0.6"/>
<rect x="102.40" y="60.34" width="0.90" height="0.6" fill="#1a1a1a" fill-opacity="0.6"/>
<rect x="103.01" y="58.43" width="0.90" height="0.6" fill="#1a1a1a" fill-opacity="0.6"/>
<rect x="103.32" y="53.72" width="0.90" height="0.6" fill="#1a1a1a" fill-opacity="0.6"/>
<rect x="101.75" y="55.09" width="0.90" height="0.6" fill="#1a1a1a" fill-opacity="0.6"/>
<rect x="105.32" y="57.20" width="0.90" height="0.6" fill="#1a1a1a" fill-opacity="0.6"/>
<rect x="102.34" y="54.24" width="0.90" height="0.6" fill="#1a1a1a" fill-opacity="0.6"/>
<rect x="101.67" y="59.95" width="0.90" height="0.6" fill="#1a1a1a" fill-opacity="0.6"/>
<rect x="103.23" y="58.13" width="0.90" height="0.6" fill="#1a1a1a" fill-opacity="0.6"/>
<rect x="101.72" y="53.90" width="0.90" height="0.6" fill="#1a1a1a" fill-opacity="0.6"/>
<rect x="101.69" y="60.85" width="0.90" height="0.6" fill="#1a1a1a" fill-opacity="0.6"/>
<rect x="102.60" y="58.54" width="0.90" height="0.6" fill="#1a1a1a" fill-opacity="0.6"/>
<rect x="104.61" y="58.29" width="0.90" height="0.6" fill="#1a1a1a" fill-opacity="0.6"/>
<rect x="102.67" y="55.87" width="0.90" height="0.6" fill="#1a1a1a" fill-opacity="0.6"/>
<rect x="105.48" y="55.80" width="0.90" height="0.6" fill="#1a1a1a" fill-opacity="0.6"/>
<rect x="104.49" y="55.91" width="0.90" height="0.6" fill="#1a1a1a" fill-opacity="0.6"/>
<rect x="102.85" y="56.87" width="0.90" height="0.6" fill="#1a1a1a" fill-opacity="0.6"/>
<rect x="104.65" y="57.06" width="0.90" height="0.6" fill="#1a1a1a" fill-opacity="0.6"/>
<rect x="105.31" y="53.87" width="0.90" height="0.6" fill="#1a1a1a" fill-opacity="0.6"/>
<rect x="101.65" y="53.51" width="0.90" height="0.6" fill="#1a1a1a" fill-opacity="0.6"/>
<rect x="102.51" y="52.20" width="0.90" height="0.6" fill="#1a1a1a" fill-opacity="0.6"/>
<rect x="124.63" y="45.12" width="0.90" height="0.6" fill="#1a1a1a" fill-opacity="0.6"/>
<rect x="113.34" y="44.37" width="0.90" height="0.6" fill="#1a1a1a" fill-opacity="0.6"/>
<rect x="115.47" y="46.39" width="0.90" height="0.6" fill="#1a1a1a" fill-opacity="0.6"/>
<rect x="124.12" y="45.78" width="0.90" height="0.6" fill="#1a1a1a" fill-opacity="0.6"/>
<rect x="120.35" y="47.50" width="0.90" height="0.6" fill="#1a1a1a" fill-opacity="0.6"/>
<rect x="122.02" y="44.75" width="0.90" height="0.6" fill="#1a1a1a" fill-opacity="0.6"/>
<rect x="112.17" y="41.81" width="0.90" height="0.6" fill="#1a1a1a" fill-opacity="0.6"/>
<rect x="112.01" y="42.24" width="0.90" height="0.6" fill="#1a1a1a" fill-opacity="0.6"/>
<rect x="107.22" y="46.91" width="0.90" height="0.6" fill="#1a1a1a" fill-opacity="0.6"/>
<rect x="109.58" y="44.41" width="0.90" height="0.6" fill="#1a1a1a" fill-opacity="0.6"/>
<rect x="106.94" y="42.95" width="0.90" height="0.6" fill="#1a1a1a" fill-opacity="0.6"/>
<rect x="106.32" y="42.78" width="0.90" height="0.6" fill="#1a1a1a" fill-opacity="0.6"/>
<rect x="125.16" y="43.83" width="0.90" height="0.6" fill="#1a1a1a" fill-opacity="0.6"/>
<rect x="123.23" y="45.87" width="0.90" height="0.6" fill="#1a1a1a" fill-opacity="0.6"/>
<rect x="107.32" y="44.27" width="0.90" height="0.6" fill="#1a1a1a" fill-opacity="0.6"/>
<rect x="107.57" y="41.39" width="0.90" height="0.6" fill="#1a1a1a" fill-opacity="0.6"/>
<rect x="114.54" y="44.41" width="0.90" height="0.6" fill="#1a1a1a" fill-opacity="0.6"/>
<rect x="110.31" y="42.09" width="0.90" height="0.6" fill="#1a1a1a" fill-opacity="0.6"/>
<rect x="119.06" y="45.70" width="0.90" height="0.6" fill="#1a1a1a" fill-opacity="0.6"/>
<rect x="120.53" y="45.99" width="0.90" height="0.6" fill="#1a1a1a" fill-opacity="0.6"/>
<rect x="108.06" y="42.08" width="0.90" height="0.6" fill="#1a1a1a" fill-opacity="0.6"/>
<rect x="122.38" y="43.71" width="0.90" height="0.6" fill="#1a1a1a" fill-opacity="0.6"/>
<rect x="113.07" y="46.75" width="0.90" height="0.6" fill="#1a1a1a" fill-opacity="0.6"/>
<rect x="120.34" y="44.83" width="0.90" height="0.6" fill="#1a1a1a" fill-opacity="0.6"/>
<rect x="110.53" y="45.74" width="0.90" height="0.6" fill="#1a1a1a" fill-opacity="0.6"/>
<rect x="108.70" y="46.24" width="0.90" height="0.6" fill="#1a1a1a" fill-opacity="0.6"/>
<rect x="112.14" y="42.72" width="0.90" height="0.6" fill="#1a1a1a" fill-opacity="0.6"/>
<rect x="113.53" y="46.64" width="0.90" height="0.6" fill="#1a1a1a" fill-opacity="0.6"/>
<rect x="110.25" y="44.27" width="0.90" height="0.6" fill="#1a1a1a" fill-opacity="0.6"/>
<rect x="121.74" y="41.05" width="0.90" height="0.6" fill="#1a1a1a" fill-opacity="0.6"/>
<rect x="107.69" y="39.59" width="0.90" height="0.6" fill="#1a1a1a" fill-opacity="0.6"/>
<rect x="115.10" y="45.91" width="0.90" height="0.6" fill="#1a1a1a" fill-opacity="0.6"/>
<rect x="123.85" y="41.08" width="0.90" height="0.6" fill="#1a1a1a" fill-opacity="0.6"/>
<rect x="106.45" y="44.12" width="0.90" height="0.6" fill="#1a1a1a" fill-opacity="0.6"/>
<rect x="109.42" y="45.30" width="0.90" height="0.6" fill="#1a1a1a" fill-opacity="0.6"/>
<rect x="125.01" y="40.58" width="0.90" height="0.6" fill="#1a1a1a" fill-opacity="0.6"/>
<rect x="113.06" y="42.19" width="0.90" height="0.6" fill="#1a1a1a" fill-opacity="0.6"/>
<rect x="122.89" y="42.98" width="0.90" height="0.6" fill="#1a1a1a" fill-opacity="0.6"/>
<rect x="121.13" y="44.84" width="0.90" height="0.6" fill="#1a1a1a" fill-opacity="0.6"/>
<rect x="124.47" y="46.39" width="0.90" height="0.6" fill="#1a1a1a" fill-opacity="0.6"/>
<rect x="117.99" y="45.96" width="0.90" height="0.6" fill="#1a1a1a" fill-opacity="0.6"/>
<rect x="109.98" y="43.67" width="0.90" height="0.6" fill="#1a1a1a" fill-opacity="0.6"/>
<rect x="109.71" y="45.15" width="0.90" height="0.6" fill="#1a1a1a" fill-opacity="0.6"/>
<rect x="110.72" y="42.14" width="0.90" height="0.6" fill="#1a1a1a" fill-opacity="0.6"/>
<rect x="109.70" y="42.77" width="0.90" height="0.6" fill="#1a1a1a" fill-opacity="0.6"/>
<rect x="105.88" y="43.04" width="0.90" height="0.6" fill="#1a1a1a" fill-opacity="0.6"/>
<rect x="109.33" y="46.91" width="0.90" height="0.6" fill="#1a1a1a" fill-opacity="0.6"/>
<rect x="111.86" y="45.36" width="0.90" height="0.6" fill="#1a1a1a" fill-opacity="0.6"/>
<rect x="116.56" y="47.62" width="0.90" height="0.6" fill="#1a1a1a" fill-opacity="0.6"/>
<rect x="106.91" y="45.91" width="0.90" height="0.6" fill="#1a1a1a" fill-opacity="0.6"/>
<rect x="116.60" y="45.51" width="0.90" height="0.6" fill="#1a1a1a" fill-opacity="0.6"/>
<rect x="118.37" y="45.33" width="0.90" height="0.6" fill="#1a1a1a" fill-opacity="0.6"/>
<rect x="119.49" y="45.00" width="0.90" height="0.6" fill="#1a1a1a" fill-opacity="0.6"/>
<rect x="113.80" y="44.04" width="0.90" height="0.6" fill="#1a1a1a" fill-opacity="0.6"/>
<rect x="124.62" y="45.97" width="0.90" height="0.6" fill="#1a1a1a" fill-opacity="0.6"/>
<rect x="111.87" y="42.75" width="0.90" height="0.6" fill="#1a1a1a" fill-opacity="0.6"/>
<rect x="113.94" y="43.65" width="0.90" height="0.6" fill="#1a1a1a" fill-opacity="0.6"/>
<rect x="122.85" y="46.19" width="0.90" height="0.6" fill="#1a1a1a" fill-opacity="0.6"/>
<rect x="109.57" y="44.34" width="0.90" height="0.6" fill="#1a1a1a" fill-opacity="0.6"/>
<rect x="120.14" y="44.44" width="0.90" height="0.6" fill="#1a1a1a" fill-opacity="0.6"/>
<rect x="123.59" y="44.58" width="0.90" height="0.6" fill="#1a1a1a" fill-opacity="0.6"/>
<rect x="114.08" y="45.21" width="0.90" height="0.6" fill="#1a1a1a" fill-opacity="0.6"/>
<rect x="123.22" y="42.63" width="0.90" height="0.6" fill="#1a1a1a" fill-opacity="0.6"/>
<rect x="114.82" y="44.55" width="0.90" height="0.6" fill="#1a1a1a" fill-opacity="0.6"/>
<rect x="116.63" y="44.66" width="0.90" height="0.6" fill="#1a1a1a" fill-opacity="0.6"/>
<rect x="118.40" y="45.07" width="0.90" height="0.6" fill="#1a1a1a" fill-opacity="0.6"/>
<rect x="118.03" y="43.94" width="0.90" height="0.6" fill="#1a1a1a" fill-opacity="0.6"/>
<rect x="113.03" y="43.31" width="0.90" height="0.6" fill="#1a1a1a" fill-opacity="0.6"/>
<rect x="111.29" y="44.35" width="0.90" height="0.6" fill="#1a1a1a" fill-opacity="0.6"/>
<rect x="116.02" y="45.19" width="0.90" height="0.6" fill="#1a1a1a" fill-opacity="0.6"/>
<rect x="115.41" y="43.97" width="0.90" height="0.6" fill="#1a1a1a" fill-opacity="0.6"/>
<rect x="121.67" y="45.61" width="0.90" height="0.6" fill="#1a1a1a" fill-opacity="0.6"/>
<rect x="108.17" y="44.12" width="0.90" height="0.6" fill="#1a1a1a" fill-opacity="0.6"/>
<rect x="124.42" y="46.54" width="0.90" height="0.6" fill="#1a1a1a" fill-opacity="0.6"/>
<rect x="106.71" y="44.05" width="0.90" height="0.6" fill="#1a1a1a" fill-opacity="0.6"/>
<rect x="124.08" y="41.24" width="0.90" height="0.6" fill="#1a1a1a" fill-opacity="0.6"/>
<rect x="117.99" y="47.04" width="0.90" height="0.6" fill="#1a1a1a" fill-opacity="0.6"/>
<rect x="122.06" y="46.16" width="0.90" height="0.6" fill="#1a1a1a" fill-opacity="0.6"/>
<rect x="110.07" y="47.20" width="0.90" height="0.6" fill="#1a1a1a" fill-opacity="0.6"/>
<rect x="113.70" y="46.41" width="0.90" height="0.6" fill="#1a1a1a" fill-opacity="0.6"/>
<rect x="109.29" y="41.44" width="0.90" height="0.6" fill="#1a1a1a" fill-opacity="0.6"/>
<rect x="109.99" y="42.53" width="0.90" height="0.6" fill="#1a1a1a" fill-opacity="0.6"/>
<rect x="113.28" y="45.73" width="0.90" height="0.6" fill="#1a1a1a" fill-opacity="0.6"/>
<rect x="108.10" y="44.44" width="0.90" height="0.6" fill="#1a1a1a" fill-opacity="0.6"/>
<rect x="123.51" y="47.43" width="0.90" height="0.6" fill="#1a1a1a" fill-opacity="0.6"/>
<rect x="106.47" y="41.42" width="0.90" height="0.6" fill="#1a1a1a" fill-opacity="0.6"/>
<rect x="106.41" y="43.16" width="0.90" height="0.6" fill="#1a1a1a" fill-opacity="0.6"/>
<rect x="122.33" y="46.28" width="0.90" height="0.6" fill="#1a1a1a" fill-opacity="0.6"/>
<rect x="116.60" y="46.11" width="0.90" height="0.6" fill="#1a1a1a" fill-opacity="0.6"/>
<rect x="118.13" y="43.69" width="0.90" height="0.6" fill="#1a1a1a" fill-opacity="0.6"/>
<rect x="117.24" y="46.24" width="0.90" height="0.6" fill="#1a1a1a" fill-opacity="0.6"/>
<rect x="114.12" y="43.26" width="0.90" height="0.6" fill="#1a1a1a" fill-opacity="0.6"/>
<rect x="114.37" y="42.64" width="0.90" height="0.6" fill="#1a1a1a" fill-opacity="0.6"/>
<rect x="106.12" y="42.76" width="0.90" height="0.6" fill="#1a1a1a" fill-opacity="0.6"/>
<rect x="110.33" y="42.88" width="0.90" height="0.6" fill="#1a1a1a" fill-opacity="0.6"/>
<rect x="120.84" y="44.77" width="0.90" height="0.6" fill="#1a1a1a" fill-opacity="0.6"/>
<rect x="109.22" y="42.31" width="0.90" height="0.6" fill="#1a1a1a" fill-opacity="0.6"/>
<rect x="115.07" y="45.16" width="0.90" height="0.6" fill="#1a1a1a" fill-opacity="0.6"/>
<rect x="114.22" y="45.00" width="0.90" height="0.6" fill="#1a1a1a" fill-opacity="0.6"/>
<rect x="107.48" y="42.26" width="0.90" height="0.6" fill="#1a1a1a" fill-opacity="0.6"/>
<rect x="106.46" y="45.19" width="0.90" height="0.6" fill="#1a1a1a" fill-opacity="0.6"/>
<rect x="118.32" y="47.07" width="0.90" height="0.6" fill="#1a1a1a" fill-opacity="0.6"/>
<rect x="121.12" y="45.91" width="0.90" height="0.6" fill="#1a1a1a" fill-opacity="0.6"/>
<rect x="115.83" y="46.50" width="0.90" height="0.6" fill="#1a1a1a" fill-opacity="0.6"/>
<rect x="113.17" y="45.13" width="0.90" height="0.6" fill="#1a1a1a" fill-opacity="0.6"/>
<rect x="124.57" y="46.84" width="0.90" height="0.6" fill="#1a1a1a" fill-opacity="0.6"/>
<rect x="125.47" y="47.21" width="0.90" height="0.6" fill="#1a1a1a" fill-opacity="0.6"/>
<rect x="120.22" y="44.88" width="0.90" height="0.6" fill="#1a1a1a" fill-opacity="0.6"/>
<rect x="125.19" y="43.24" width="0.90" height="0.6" fill="#1a1a1a" fill-opacity="0.6"/>
<rect x="115.44" y="48.45" width="0.90" height="0.6" fill="#1a1a1a" fill-opacity="0.6"/>
<rect x="108.94" y="43.24" width="0.90" height="0.6" fill="#1a1a1a" fill-opacity="0.6"/>
<rect x="121.34" y="45.01" width="0.90" height="0.6" fill="#1a1a1a" fill-opacity="0.6"/>
<rect x="112.63" y="44.08" width="0.90" height="0.6" fill="#1a1a1a" fill-opacity="0.6"/>
<rect x="120.70" y="46.57" width="0.90" height="0.6" fill="#1a1a1a" fill-opacity="0.6"/>
<rect x="111.12" y="47.78" width="0.90" height="0.6" fill="#1a1a1a" fill-opacity="0.6"/>
<rect x="121.88" y="45.77" width="0.90" height="0.6" fill="#1a1a1a" fill-opacity="0.6"/>
<rect x="123.96" y="46.14" width="0.90" height="0.6" fill="#1a1a1a" fill-opacity="0.6"/>
<rect x="109.80" y="44.20" width="0.90" height="0.6" fill="#1a1a1a" fill-opacity="0.6"/>
<rect x="112.00" y="46.63" width="0.90" height="0.6" fill="#1a1a1a" fill-opacity="0.6"/>
<rect x="106.38" y="44.85" width="0.90" height="0.6" fill="#1a1a1a" fill-opacity="0.6"/>
<rect x="124.28" y="45.41" width="0.90" height="0.6" fill="#1a1a1a" fill-opacity="0.6"/>
<rect x="119.18" y="45.29" width="0.90" height="0.6" fill="#1a1a1a" fill-opacity="0.6"/>
<rect x="121.27" y="43.67" width="0.90" height="0.6" fill="#1a1a1a" fill-opacity="0.6"/>
<rect x="107.94" y="41.73" width="0.90" height="0.6" fill="#1a1a1a" fill-opacity="0.6"/>
<rect x="112.81" y="43.86" width="0.90" height="0.6" fill="#1a1a1a" fill-opacity="0.6"/>
<rect x="123.02" y="42.03" width="0.90" height="0.6" fill="#1a1a1a" fill-opacity="0.6"/>
<rect x="123.21" y="43.53" width="0.90" height="0.6" fill="#1a1a1a" fill-opacity="0.6"/>
<rect x="107.73" y="47.06" width="0.90" height="0.6" fill="#1a1a1a" fill-opacity="0.6"/>
<rect x="113.50" y="44.26" width="0.90" height="0.6" fill="#1a1a1a" fill-opacity="0.6"/>
<rect x="121.52" y="43.84" width="0.90" height="0.6" fill="#1a1a1a" fill-opacity="0.6"/>
<rect x="117.14" y="50.15" width="0.90" height="0.6" fill="#1a1a1a" fill-opacity="0.6"/>
<rect x="112.82" y="44.57" width="0.90" height="0.6" fill="#1a1a1a" fill-opacity="0.6"/>
<rect x="109.17" y="42.34" width="0.90" height="0.6" fill="#1a1a1a" fill-opacity="0.6"/>
<rect x="120.45" y="47.74" width="0.90" height="0.6" fill="#1a1a1a" fill-opacity="0.6"/>
<rect x="110.70" y="45.43" width="0.90" height="0.6" fill="#1a1a1a" fill-opacity="0.6"/>
<rect x="118.37" y="46.89" width="0.90" height="0.6" fill="#1a1a1a" fill-opacity="0.6"/>
<rect x="118.86" y="44.13" width="0.90" height="0.6" fill="#1a1a1a" fill-opacity="0.6"/>
<rect x="111.87" y="44.88" width="0.90" height="0.6" fill="#1a1a1a" fill-opacity="0.6"/>
<rect x="108.62" y="44.39" width="0.90" height="0.6" fill="#1a1a1a" fill-opacity="0.6"/>
<rect x="117.91" y="42.31" width="0.90" height="0.6" fill="#1a1a1a" fill-opacity="0.6"/>
<rect x="123.47" y="45.32" width="0.90" height="0.6" fill="#1a1a1a" fill-opacity="0.6"/>
<rect x="108.28" y="44.77" width="0.90" height="0.6" fill="#1a1a1a" fill-opacity="0.6"/>
<rect x="106.09" y="47.12" width="0.90" height="0.6" fill="#1a1a1a" fill-opacity="0.6"/>
<rect x="105.70" y="43.83" width="0.90" height="0.6" fill="#1a1a1a" fill-opacity="0.6"/>
<rect x="112.76" y="45.09" width="0.90" height="0.6" fill="#1a1a1a" fill-opacity="0.6"/>
<rect x="110.11" y="42.19" width="0.90" height="0.6" fill="#1a1a1a" fill-opacity="0.6"/>
<rect x="109.71" y="43.11" width="0.90" height="0.6" fill="#1a1a1a" fill-opacity="0.6"/>
<rect x="118.07" y="43.37" width="0.90" height="0.6" fill="#1a1a1a" fill-opacity="0.6"/>
<rect x="124.29" y="44.54" width="0.90" height="0.6" fill="#1a1a1a" fill-opacity="0.6"/>
<rect x="126.41" y="57.40" width="0.90" height="0.6" fill="#1a1a1a" fill-opacity="0.6"/>
<rect x="127.32" y="57.59" width="0.90" height="0.6" fill="#1a1a1a" fill-opacity="0.6"/>
<rect x="127.85" y="57.29" width="0.90" height="0.6" fill="#1a1a1a" fill-opacity="0.6"/>
<rect x="126.46" y="55.01" width="0.90" height="0.6" fill="#1a1a1a" fill-opacity="0.6"/>
<rect x="125.88" y="55.40" width="0.90" height="0.6" fill="#1a1a1a" fill-opacity="0.6"/>
<rect x="126.66" y="54.97" width="0.90" height="0.6" fill="#1a1a1a" fill-opacity="0.6"/>
<rect x="127.33" y="52.71" width="0.90" height="0.6" fill="#1a1a1a" fill-opacity="0.6"/>
<rect x="127.54" y="58.45" width="0.90" height="0.6" fill="#1a1a1a" fill-opacity="0.6"/>
<rect x="126.42" y="57.37" width="0.90" height="0.6" fill="#1a1a1a" fill-opacity="0.6"/>
<rect x="127.07" y="56.58" width="0.90" height="0.6" fill="#1a1a1a" fill-opacity="0.6"/>
<rect x="126.78" y="56.95" width="0.90" height="0.6" fill="#1a1a1a" fill-opacity="0.6"/>
<rect x="127.64" y="57.56" width="0.90" height="0.6" fill="#1a1a1a" fill-opacity="0.6"/>
<rect x="125.88" y="52.61" width="0.90" height="0.6" fill="#1a1a1a" fill-opacity="0.6"/>
<rect x="126.18" y="55.48" width="0.90" height="0.6" fill="#1a1a1a" fill-opacity="0.6"/>
<rect x="126.31" y="55.14" width="0.90" height="0.6" fill="#1a1a1a" fill-opacity="0.6"/>
<rect x="127.33" y="55.48" width="0.90" height="0.6" fill="#1a1a1a" fill-opacity="0.6"/>
<rect x="127.72" y="57.65" width="0.90" height="0.6" fill="#1a1a1a" fill-opacity="0.6"/>
<rect x="129.95" y="45.83" width="0.90" height="0.6" fill="#1a1a1a" fill-opacity="0.6"/>
<rect x="128.44" y="46.93" width="0.90" height="0.6" fill="#1a1a1a" fill-opacity="0.6"/>
<rect x="132.44" y="42.25" width="0.90" height="0.6" fill="#1a1a1a" fill-opacity="0.6"/>
<rect x="128.19" y="46.14" width="0.90" height="0.6" fill="#1a1a1a" fill-opacity="0.6"/>
<rect x="130.94" y="41.78" width="0.90" height="0.6" fill="#1a1a1a" fill-opacity="0.6"/>
<rect x="132.60" y="43.08" width="0.90" height="0.6" fill="#1a1a1a" fill-opacity="0.6"/>
<rect x="128.78" y="44.78" width="0.90" height="0.6" fill="#1a1a1a" fill-opacity="0.6"/>
<rect x="129.54" y="46.05" width="0.90" height="0.6" fill="#1a1a1a" fill-opacity="0.6"/>
<rect x="132.65" y="44.79" width="0.90" height="0.6" fill="#1a1a1a" fill-opacity="0.6"/>
<rect x="132.32" y="46.07" width="0.90" height="0.6" fill="#1a1a1a" fill-opacity="0.6"/>
<rect x="129.75" y="41.91" width="0.90" height="0.6" fill="#1a1a1a" fill-opacity="0.6"/>
<rect x="131.47" y="41.30" width="0.90" height="0.6" fill="#1a1a1a" fill-opacity="0.6"/>
<rect x="131.29" y="45.69" width="0.90" height="0.6" fill="#1a1a1a" fill-opacity="0.6"/>
<rect x="129.74" y="41.29" width="0.90" height="0.6" fill="#1a1a1a" fill-opacity="0.6"/>
<rect x="129.45" y="40.55" width="0.90" height="0.6" fill="#1a1a1a" fill-opacity="0.6"/>
<rect x="133.43" y="45.85" width="0.90" height="0.6" fill="#1a1a1a" fill-opacity="0.6"/>
<rect x="129.57" y="44.52" width="0.90" height="0.6" fill="#1a1a1a" fill-opacity="0.6"/>
<rect x="132.61" y="47.34" width="0.90" height="0.6" fill="#1a1a1a" fill-opacity="0.6"/>
<rect x="130.11" y="43.31" width="0.90" height="0.6" fill="#1a1a1a" fill-opacity="0.6"/>
<rect x="133.43" y="43.71" width="0.90" height="0.6" fill="#1a1a1a" fill-opacity="0.6"/>
<rect x="133.60" y="45.62" width="0.90" height="0.6" fill="#1a1a1a" fill-opacity="0.6"/>
<rect x="131.93" y="43.39" width="0.90" height="0.6" fill="#1a1a1a" fill-opacity="0.6"/>
<rect x="134.02" y="41.75" width="0.90" height="0.6" fill="#1a1a1a" fill-opacity="0.6"/>
<rect x="130.97" y="45.95" width="0.90" height="0.6" fill="#1a1a1a" fill-opacity="0.6"/>
<rect x="133.30" y="41.90" width="0.90" height="0.6" fill="#1a1a1a" fill-opacity="0.6"/>
<rect x="130.77" y="43.99" width="0.90" height="0.6" fill="#1a1a1a" fill-opacity="0.6"/>
<rect x="130.00" y="41.94" width="0.90" height="0.6" fill="#1a1a1a" fill-opacity="0.6"/>
<rect x="129.42" y="43.83" width="0.90" height="0.6" fill="#1a1a1a" fill-opacity="0.6"/>
<rect x="133.61" y="43.85" width="0.90" height="0.6" fill="#1a1a1a" fill-opacity="0.6"/>
<rect x="129.02" y="45.27" width="0.90" height="0.6" fill="#1a1a1a" fill-opacity="0.6"/>
<rect x="133.72" y="44.53" width="0.90" height="0.6" fill="#1a1a1a" fill-opacity="0.6"/>
<rect x="130.22" y="44.67" width="0.90" height="0.6" fill="#1a1a1a" fill-opacity="0.6"/>
<rect x="128.40" y="44.74" width="0.90" height="0.6" fill="#1a1a1a" fill-opacity="0.6"/>
<rect x="132.31" y="42.42" width="0.90" height="0.6" fill="#1a1a1a" fill-opacity="0.6"/>
<rect x="132.57" y="42.19" width="0.90" height="0.6" fill="#1a1a1a" fill-opacity="0.6"/>
<rect x="128.54" y="42.86" width="0.90" height="0.6" fill="#1a1a1a" fill-opacity="0.6"/>
<rect x="133.06" y="43.41" width="0.90" height="0.6" fill="#1a1a1a" fill-opacity="0.6"/>
<rect x="133.07" y="44.92" width="0.90" height="0.6" fill="#1a1a1a" fill-opacity="0.6"/>
<rect x="133.36" y="43.94" width="0.90" height="0.6" fill="#1a1a1a" fill-opacity="0.6"/>
<rect x="133.64" y="45.23" width="0.90" height="0.6" fill="#1a1a1a" fill-opacity="0.6"/>
<rect x="129.38" y="44.07" width="0.90" height="0.6" fill="#1a1a1a" fill-opacity="0.6"/>
<rect x="128.82" y="47.98" width="0.90" height="0.6" fill="#1a1a1a" fill-opacity="0.6"/>
<rect x="133.02" y="45.17" width="0.90" height="0.6" fill="#1a1a1a" fill-opacity="0.6"/>
<rect x="131.96" y="45.60" width="0.90" height="0.6" fill="#1a1a1a" fill-opacity="0.6"/>
<rect x="129.87" y="41.99" width="0.90" height="0.6" fill="#1a1a1a" fill-opacity="0.6"/>
<rect x="134.84" y="59.51" width="0.90" height="0.6" fill="#1a1a1a" fill-opacity="0.6"/>
<rect x="135.56" y="58.74" width="0.90" height="0.6" fill="#1a1a1a" fill-opacity="0.6"/>
<rect x="136.35" y="56.55" width="0.90" height="0.6" fill="#1a1a1a" fill-opacity="0.6"/>
<rect x="135.92" y="57.08" width="0.90" height="0.6" fill="#1a1a1a" fill-opacity="0.6"/>
<rect x="136.10" y="56.51" width="0.90" height="0.6" fill="#1a1a1a" fill-opacity="0.6"/>
<rect x="136.36" y="55.12" width="0.90" height="0.6" fill="#1a1a1a" fill-opacity="0.6"/>
<rect x="140.80" y="53.19" width="0.90" height="0.6" fill="#1a1a1a" fill-opacity="0.6"/>
<rect x="138.42" y="56.81" width="0.90" height="0.6" fill="#1a1a1a" fill-opacity="0.6"/>
<rect x="134.36" y="55.16" width="0.90" height="0.6" fill="#1a1a1a" fill-opacity="0.6"/>
<rect x="139.48" y="57.96" width="0.90" height="0.6" fill="#1a1a1a" fill-opacity="0.6"/>
<rect x="136.54" y="56.24" width="0.90" height="0.6" fill="#1a1a1a" fill-opacity="0.6"/>
<rect x="135.64" y="54.63" width="0.90" height="0.6" fill="#1a1a1a" fill-opacity="0.6"/>
<rect x="140.10" y="59.86" width="0.90" height="0.6" fill="#1a1a1a" fill-opacity="0.6"/>
<rect x="135.33" y="58.80" width="0.90" height="0.6" fill="#1a1a1a" fill-opacity="0.6"/>
<rect x="134.16" y="57.86" width="0.90" height="0.6" fill="#1a1a1a" fill-opacity="0.6"/>
<rect x="140.90" y="59.98" width="0.90" height="0.6" fill="#1a1a1a" fill-opacity="0.6"/>
<rect x="134.18" y="54.69" width="0.90" height="0.6" fill="#1a1a1a" fill-opacity="0.6"/>
<rect x="139.65" y="57.03" width="0.90" height="0.6" fill="#1a1a1a" fill-opacity="0.6"/>
<rect x="135.42" y="55.15" width="0.90" height="0.6" fill="#1a1a1a" fill-opacity="0.6"/>
<rect x="139.89" y="56.96" width="0.90" height="0.6" fill="#1a1a1a" fill-opacity="0.6"/>
<rect x="135.95" y="58.36" width="0.90" height="0.6" fill="#1a1a1a" fill-opacity="0.6"/>
<rect x="135.63" y="56.36" width="0.90" height="0.6" fill="#1a1a1a" fill-opacity="0.6"/>
<rect x="138.98" y="55.98" width="0.90" height="0.6" fill="#1a1a1a" fill-opacity="0.6"/>
<rect x="138.54" y="56.91" width="0.90" height="0.6" fill="#1a1a1a" fill-opacity="0.6"/>
<rect x="134.71" y="57.59" width="0.90" height="0.6" fill="#1a1a1a" fill-opacity="0.6"/>
<rect x="139.58" y="54.05" width="0.90" height="0.6" fill="#1a1a1a" fill-opacity="0.6"/>
<rect x="138.48" y="55.71" width="0.90" height="0.6" fill="#1a1a1a" fill-opacity="0.6"/>
<rect x="136.87" y="58.42" width="0.90" height="0.6" fill="#1a1a1a" fill-opacity="0.6"/>
<rect x="140.29" y="60.31" width="0.90" height="0.6" fill="#1a1a1a" fill-opacity="0.6"/>
<rect x="134.32" y="58.95" width="0.90" height="0.6" fill="#1a1a1a" fill-opacity="0.6"/>
<rect x="135.57" y="56.56" width="0.90" height="0.6" fill="#1a1a1a" fill-opacity="0.6"/>
<rect x="137.61" y="60.97" width="0.90" height="0.6" fill="#1a1a1a" fill-opacity="0.6"/>
<rect x="136.77" y="57.93" width="0.90" height="0.6" fill="#1a1a1a" fill-opacity="0.6"/>
<rect x="137.33" y="55.98" width="0.90" height="0.6" fill="#1a1a1a" fill-opacity="0.6"/>
<rect x="137.82" y="56.99" width="0.90" height="0.6" fill="#1a1a1a" fill-opacity="0.6"/>
<rect x="138.61" y="53.72" width="0.90" height="0.6" fill="#1a1a1a" fill-opacity="0.6"/>
<rect x="136.55" y="56.39" width="0.90" height="0.6" fill="#1a1a1a" fill-opacity="0.6"/>
<rect x="139.97" y="57.88" width="0.90" height="0.6" fill="#1a1a1a" fill-opacity="0.6"/>
<rect x="138.72" y="56.84" width="0.90" height="0.6" fill="#1a1a1a" fill-opacity="0.6"/>
<rect x="137.18" y="55.74" width="0.90" height="0.6" fill="#1a1a1a" fill-opacity="0.6"/>
<rect x="139.49" y="56.03" width="0.90" height="0.6" fill="#1a1a1a" fill-opacity="0.6"/>
<rect x="137.34" y="56.43" width="0.90" height="0.6" fill="#1a1a1a" fill-opacity="0.6"/>
<rect x="140.26" y="56.99" width="0.90" height="0.6" fill="#1a1a1a" fill-opacity="0.6"/>
<rect x="136.23" y="58.14" width="0.90" height="0.6" fill="#1a1a1a" fill-opacity="0.6"/>
<rect x="139.00" y="57.51" width="0.90" height="0.6" fill="#1a1a1a" fill-opacity="0.6"/>
<rect x="135.23" y="55.98" width="0.90" height="0.6" fill="#1a1a1a" fill-opacity="0.6"/>
<rect x="135.86" y="55.83" width="0.90" height="0.6" fill="#1a1a1a" fill-opacity="0.6"/>
<rect x="135.26" y="58.95" width="0.90" height="0.6" fill="#1a1a1a" fill-opacity="0.6"/>
<rect x="136.41" y="58.82" width="0.90" height="0.6" fill="#1a1a1a" fill-opacity="0.6"/>
<rect x="139.18" y="61.69" width="0.90" height="0.6" fill="#1a1a1a" fill-opacity="0.6"/>
<rect x="134.85" y="57.76" width="0.90" height="0.6" fill="#1a1a1a" fill-opacity="0.6"/>
<line x1="64.50" y1="50.00" x2="64.50" y2="58.80" stroke="#fff" stroke-width="0.6" />
<rect x="49.20" y="72.20" width="32.30" height="9.00" fill="#d47474" fill-opacity="0.95"/>
<rect x="49.20" y="67.20" width="1.00" height="5.00" fill="#7272c2" fill-opacity="0.95"/>
<rect x="78.20" y="67.20" width="1.40" height="5.00" fill="#7272c2" fill-opacity="0.95"/>
<rect x="81.50" y="65.80" width="2.90" height="6.40" fill="#7272c2" fill-opacity="0.95"/>
<line x1="84.40" y1="72.20" x2="96.00" y2="72.20" stroke="#7272c2" stroke-width="0.9" />
<rect x="98.50" y="72.20" width="7.70" height="9.00" fill="#d47474" fill-opacity="0.95"/>
<rect x="100.30" y="67.20" width="1.70" height="5.00" fill="#7272c2" fill-opacity="0.95"/>
<rect x="106.20" y="66.20" width="20.50" height="6.00" fill="#7272c2" fill-opacity="0.95"/>
<rect x="126.70" y="72.20" width="1.80" height="9.00" fill="#d47474" fill-opacity="0.95"/>
<rect x="128.50" y="67.00" width="5.90" height="5.20" fill="#7272c2" fill-opacity="0.95"/>
<rect x="134.40" y="72.20" width="7.10" height="9.00" fill="#d47474" fill-opacity="0.95"/>
<rect x="61.11" y="79.52" width="1.00" height="0.6" fill="#1a1a1a" fill-opacity="0.65"/>
<rect x="80.48" y="80.47" width="1.00" height="0.6" fill="#1a1a1a" fill-opacity="0.65"/>
<rect x="62.75" y="77.05" width="1.00" height="0.6" fill="#1a1a1a" fill-opacity="0.65"/>
<rect x="55.04" y="79.18" width="1.00" height="0.6" fill="#1a1a1a" fill-opacity="0.65"/>
<rect x="55.37" y="79.08" width="1.00" height="0.6" fill="#1a1a1a" fill-opacity="0.65"/>
<rect x="61.24" y="81.38" width="1.00" height="0.6" fill="#1a1a1a" fill-opacity="0.65"/>
<rect x="74.25" y="80.06" width="1.00" height="0.6" fill="#1a1a1a" fill-opacity="0.65"/>
<rect x="71.10" y="77.30" width="1.00" height="0.6" fill="#1a1a1a" fill-opacity="0.65"/>
<rect x="63.66" y="79.69" width="1.00" height="0.6" fill="#1a1a1a" fill-opacity="0.65"/>
<rect x="53.28" y="78.32" width="1.00" height="0.6" fill="#1a1a1a" fill-opacity="0.65"/>
<rect x="72.63" y="78.65" width="1.00" height="0.6" fill="#1a1a1a" fill-opacity="0.65"/>
<rect x="78.03" y="77.69" width="1.00" height="0.6" fill="#1a1a1a" fill-opacity="0.65"/>
<rect x="72.90" y="80.65" width="1.00" height="0.6" fill="#1a1a1a" fill-opacity="0.65"/>
<rect x="62.30" y="80.07" width="1.00" height="0.6" fill="#1a1a1a" fill-opacity="0.65"/>
<rect x="77.13" y="82.40" width="1.00" height="0.6" fill="#1a1a1a" fill-opacity="0.65"/>
<rect x="73.70" y="78.67" width="1.00" height="0.6" fill="#1a1a1a" fill-opacity="0.65"/>
<rect x="70.65" y="76.54" width="1.00" height="0.6" fill="#1a1a1a" fill-opacity="0.65"/>
<rect x="69.42" y="78.29" width="1.00" height="0.6" fill="#1a1a1a" fill-opacity="0.65"/>
<rect x="68.99" y="80.12" width="1.00" height="0.6" fill="#1a1a1a" fill-opacity="0.65"/>
<rect x="51.86" y="77.10" width="1.00" height="0.6" fill="#1a1a1a" fill-opacity="0.65"/>
<rect x="71.73" y="81.14" width="1.00" height="0.6" fill="#1a1a1a" fill-opacity="0.65"/>
<rect x="69.04" y="79.70" width="1.00" height="0.6" fill="#1a1a1a" fill-opacity="0.65"/>
<rect x="63.40" y="81.48" width="1.00" height="0.6" fill="#1a1a1a" fill-opacity="0.65"/>
<rect x="68.78" y="77.55" width="1.00" height="0.6" fill="#1a1a1a" fill-opacity="0.65"/>
<rect x="78.75" y="81.08" width="1.00" height="0.6" fill="#1a1a1a" fill-opacity="0.65"/>
<rect x="54.61" y="78.03" width="1.00" height="0.6" fill="#1a1a1a" fill-opacity="0.65"/>
<rect x="61.26" y="77.27" width="1.00" height="0.6" fill="#1a1a1a" fill-opacity="0.65"/>
<rect x="64.52" y="80.17" width="1.00" height="0.6" fill="#1a1a1a" fill-opacity="0.65"/>
<rect x="66.25" y="79.62" width="1.00" height="0.6" fill="#1a1a1a" fill-opacity="0.65"/>
<rect x="53.90" y="80.50" width="1.00" height="0.6" fill="#1a1a1a" fill-opacity="0.65"/>
<rect x="65.47" y="75.74" width="1.00" height="0.6" fill="#1a1a1a" fill-opacity="0.65"/>
<rect x="51.97" y="77.81" width="1.00" height="0.6" fill="#1a1a1a" fill-opacity="0.65"/>
<rect x="71.87" y="78.74" width="1.00" height="0.6" fill="#1a1a1a" fill-opacity="0.65"/>
<rect x="65.24" y="77.65" width="1.00" height="0.6" fill="#1a1a1a" fill-opacity="0.65"/>
<rect x="65.55" y="77.25" width="1.00" height="0.6" fill="#1a1a1a" fill-opacity="0.65"/>
<rect x="61.95" y="80.81" width="1.00" height="0.6" fill="#1a1a1a" fill-opacity="0.65"/>
<rect x="70.80" y="79.33" width="1.00" height="0.6" fill="#1a1a1a" fill-opacity="0.65"/>
<rect x="61.38" y="79.77" width="1.00" height="0.6" fill="#1a1a1a" fill-opacity="0.65"/>
<rect x="80.50" y="78.83" width="1.00" height="0.6" fill="#1a1a1a" fill-opacity="0.65"/>
<rect x="60.18" y="80.98" width="1.00" height="0.6" fill="#1a1a1a" fill-opacity="0.65"/>
<rect x="61.61" y="80.17" width="1.00" height="0.6" fill="#1a1a1a" fill-opacity="0.65"/>
<rect x="49.13" y="78.15" width="1.00" height="0.6" fill="#1a1a1a" fill-opacity="0.65"/>
<rect x="71.25" y="80.57" width="1.00" height="0.6" fill="#1a1a1a" fill-opacity="0.65"/>
<rect x="60.07" y="79.58" width="1.00" height="0.6" fill="#1a1a1a" fill-opacity="0.65"/>
<rect x="72.65" y="80.91" width="1.00" height="0.6" fill="#1a1a1a" fill-opacity="0.65"/>
<rect x="79.06" y="78.52" width="1.00" height="0.6" fill="#1a1a1a" fill-opacity="0.65"/>
<rect x="74.59" y="79.50" width="1.00" height="0.6" fill="#1a1a1a" fill-opacity="0.65"/>
<rect x="61.36" y="79.91" width="1.00" height="0.6" fill="#1a1a1a" fill-opacity="0.65"/>
<rect x="73.78" y="80.57" width="1.00" height="0.6" fill="#1a1a1a" fill-opacity="0.65"/>
<rect x="74.85" y="78.43" width="1.00" height="0.6" fill="#1a1a1a" fill-opacity="0.65"/>
<rect x="66.85" y="78.27" width="1.00" height="0.6" fill="#1a1a1a" fill-opacity="0.65"/>
<rect x="56.00" y="81.25" width="1.00" height="0.6" fill="#1a1a1a" fill-opacity="0.65"/>
<rect x="69.33" y="79.34" width="1.00" height="0.6" fill="#1a1a1a" fill-opacity="0.65"/>
<rect x="75.15" y="80.47" width="1.00" height="0.6" fill="#1a1a1a" fill-opacity="0.65"/>
<rect x="58.21" y="77.95" width="1.00" height="0.6" fill="#1a1a1a" fill-opacity="0.65"/>
<rect x="66.41" y="81.97" width="1.00" height="0.6" fill="#1a1a1a" fill-opacity="0.65"/>
<rect x="60.16" y="81.98" width="1.00" height="0.6" fill="#1a1a1a" fill-opacity="0.65"/>
<rect x="76.18" y="79.52" width="1.00" height="0.6" fill="#1a1a1a" fill-opacity="0.65"/>
<rect x="56.89" y="81.34" width="1.00" height="0.6" fill="#1a1a1a" fill-opacity="0.65"/>
<rect x="62.46" y="79.75" width="1.00" height="0.6" fill="#1a1a1a" fill-opacity="0.65"/>
<rect x="72.01" y="79.81" width="1.00" height="0.6" fill="#1a1a1a" fill-opacity="0.65"/>
<rect x="57.78" y="79.75" width="1.00" height="0.6" fill="#1a1a1a" fill-opacity="0.65"/>
<rect x="64.19" y="81.14" width="1.00" height="0.6" fill="#1a1a1a" fill-opacity="0.65"/>
<rect x="62.54" y="78.08" width="1.00" height="0.6" fill="#1a1a1a" fill-opacity="0.65"/>
<rect x="60.41" y="77.81" width="1.00" height="0.6" fill="#1a1a1a" fill-opacity="0.65"/>
<rect x="78.70" y="80.06" width="1.00" height="0.6" fill="#1a1a1a" fill-opacity="0.65"/>
<rect x="75.44" y="79.24" width="1.00" height="0.6" fill="#1a1a1a" fill-opacity="0.65"/>
<rect x="77.96" y="79.90" width="1.00" height="0.6" fill="#1a1a1a" fill-opacity="0.65"/>
<rect x="75.55" y="78.79" width="1.00" height="0.6" fill="#1a1a1a" fill-opacity="0.65"/>
<rect x="69.15" y="79.96" width="1.00" height="0.6" fill="#1a1a1a" fill-opacity="0.65"/>
<rect x="79.44" y="79.72" width="1.00" height="0.6" fill="#1a1a1a" fill-opacity="0.65"/>
<rect x="69.89" y="79.70" width="1.00" height="0.6" fill="#1a1a1a" fill-opacity="0.65"/>
<rect x="53.31" y="80.49" width="1.00" height="0.6" fill="#1a1a1a" fill-opacity="0.65"/>
<rect x="56.25" y="79.96" width="1.00" height="0.6" fill="#1a1a1a" fill-opacity="0.65"/>
<rect x="53.63" y="78.15" width="1.00" height="0.6" fill="#1a1a1a" fill-opacity="0.65"/>
<rect x="77.90" y="79.97" width="1.00" height="0.6" fill="#1a1a1a" fill-opacity="0.65"/>
<rect x="77.48" y="78.70" width="1.00" height="0.6" fill="#1a1a1a" fill-opacity="0.65"/>
<rect x="68.35" y="80.19" width="1.00" height="0.6" fill="#1a1a1a" fill-opacity="0.65"/>
<rect x="77.57" y="77.22" width="1.00" height="0.6" fill="#1a1a1a" fill-opacity="0.65"/>
<rect x="74.15" y="80.30" width="1.00" height="0.6" fill="#1a1a1a" fill-opacity="0.65"/>
<rect x="71.08" y="78.74" width="1.00" height="0.6" fill="#1a1a1a" fill-opacity="0.65"/>
<rect x="65.84" y="79.61" width="1.00" height="0.6" fill="#1a1a1a" fill-opacity="0.65"/>
<rect x="77.21" y="77.88" width="1.00" height="0.6" fill="#1a1a1a" fill-opacity="0.65"/>
<rect x="66.63" y="79.59" width="1.00" height="0.6" fill="#1a1a1a" fill-opacity="0.65"/>
<rect x="53.20" y="80.94" width="1.00" height="0.6" fill="#1a1a1a" fill-opacity="0.65"/>
<rect x="64.63" y="81.48" width="1.00" height="0.6" fill="#1a1a1a" fill-opacity="0.65"/>
<rect x="53.36" y="80.38" width="1.00" height="0.6" fill="#1a1a1a" fill-opacity="0.65"/>
<rect x="64.57" y="77.58" width="1.00" height="0.6" fill="#1a1a1a" fill-opacity="0.65"/>
<rect x="76.57" y="79.72" width="1.00" height="0.6" fill="#1a1a1a" fill-opacity="0.65"/>
<rect x="48.91" y="80.73" width="1.00" height="0.6" fill="#1a1a1a" fill-opacity="0.65"/>
<rect x="66.87" y="78.09" width="1.00" height="0.6" fill="#1a1a1a" fill-opacity="0.65"/>
<rect x="70.19" y="80.59" width="1.00" height="0.6" fill="#1a1a1a" fill-opacity="0.65"/>
<rect x="62.23" y="78.31" width="1.00" height="0.6" fill="#1a1a1a" fill-opacity="0.65"/>
<rect x="79.73" y="81.85" width="1.00" height="0.6" fill="#1a1a1a" fill-opacity="0.65"/>
<rect x="69.25" y="80.80" width="1.00" height="0.6" fill="#1a1a1a" fill-opacity="0.65"/>
<rect x="49.62" y="77.71" width="1.00" height="0.6" fill="#1a1a1a" fill-opacity="0.65"/>
<rect x="78.79" y="78.06" width="1.00" height="0.6" fill="#1a1a1a" fill-opacity="0.65"/>
<rect x="59.37" y="81.72" width="1.00" height="0.6" fill="#1a1a1a" fill-opacity="0.65"/>
<rect x="64.36" y="79.47" width="1.00" height="0.6" fill="#1a1a1a" fill-opacity="0.65"/>
<rect x="77.69" y="82.34" width="1.00" height="0.6" fill="#1a1a1a" fill-opacity="0.65"/>
<rect x="68.90" y="80.27" width="1.00" height="0.6" fill="#1a1a1a" fill-opacity="0.65"/>
<rect x="59.64" y="80.75" width="1.00" height="0.6" fill="#1a1a1a" fill-opacity="0.65"/>
<rect x="64.03" y="78.46" width="1.00" height="0.6" fill="#1a1a1a" fill-opacity="0.65"/>
<rect x="65.67" y="79.85" width="1.00" height="0.6" fill="#1a1a1a" fill-opacity="0.65"/>
<rect x="62.76" y="78.54" width="1.00" height="0.6" fill="#1a1a1a" fill-opacity="0.65"/>
<rect x="62.34" y="76.70" width="1.00" height="0.6" fill="#1a1a1a" fill-opacity="0.65"/>
<rect x="58.16" y="78.64" width="1.00" height="0.6" fill="#1a1a1a" fill-opacity="0.65"/>
<rect x="75.44" y="78.04" width="1.00" height="0.6" fill="#1a1a1a" fill-opacity="0.65"/>
<rect x="57.48" y="80.84" width="1.00" height="0.6" fill="#1a1a1a" fill-opacity="0.65"/>
<rect x="65.06" y="82.15" width="1.00" height="0.6" fill="#1a1a1a" fill-opacity="0.65"/>
<rect x="74.28" y="79.31" width="1.00" height="0.6" fill="#1a1a1a" fill-opacity="0.65"/>
<rect x="59.39" y="79.11" width="1.00" height="0.6" fill="#1a1a1a" fill-opacity="0.65"/>
<rect x="67.64" y="81.01" width="1.00" height="0.6" fill="#1a1a1a" fill-opacity="0.65"/>
<rect x="69.20" y="79.80" width="1.00" height="0.6" fill="#1a1a1a" fill-opacity="0.65"/>
<rect x="72.04" y="79.23" width="1.00" height="0.6" fill="#1a1a1a" fill-opacity="0.65"/>
<rect x="77.30" y="79.18" width="1.00" height="0.6" fill="#1a1a1a" fill-opacity="0.65"/>
<rect x="58.40" y="79.55" width="1.00" height="0.6" fill="#1a1a1a" fill-opacity="0.65"/>
<rect x="48.90" y="81.11" width="1.00" height="0.6" fill="#1a1a1a" fill-opacity="0.65"/>
<rect x="68.36" y="83.26" width="1.00" height="0.6" fill="#1a1a1a" fill-opacity="0.65"/>
<rect x="69.95" y="80.61" width="1.00" height="0.6" fill="#1a1a1a" fill-opacity="0.65"/>
<rect x="68.46" y="76.08" width="1.00" height="0.6" fill="#1a1a1a" fill-opacity="0.65"/>
<rect x="68.62" y="77.87" width="1.00" height="0.6" fill="#1a1a1a" fill-opacity="0.65"/>
<rect x="67.96" y="77.82" width="1.00" height="0.6" fill="#1a1a1a" fill-opacity="0.65"/>
<rect x="70.70" y="80.29" width="1.00" height="0.6" fill="#1a1a1a" fill-opacity="0.65"/>
<rect x="63.49" y="82.15" width="1.00" height="0.6" fill="#1a1a1a" fill-opacity="0.65"/>
<rect x="73.33" y="80.56" width="1.00" height="0.6" fill="#1a1a1a" fill-opacity="0.65"/>
<rect x="49.89" y="80.34" width="1.00" height="0.6" fill="#1a1a1a" fill-opacity="0.65"/>
<rect x="73.72" y="81.83" width="1.00" height="0.6" fill="#1a1a1a" fill-opacity="0.65"/>
<rect x="60.61" y="78.42" width="1.00" height="0.6" fill="#1a1a1a" fill-opacity="0.65"/>
<rect x="49.52" y="67.76" width="1.00" height="0.6" fill="#1a1a1a" fill-opacity="0.65"/>
<rect x="48.96" y="65.13" width="1.00" height="0.6" fill="#1a1a1a" fill-opacity="0.65"/>
<rect x="49.00" y="65.95" width="1.00" height="0.6" fill="#1a1a1a" fill-opacity="0.65"/>
<rect x="49.13" y="67.96" width="1.00" height="0.6" fill="#1a1a1a" fill-opacity="0.65"/>
<rect x="78.60" y="67.78" width="1.00" height="0.6" fill="#1a1a1a" fill-opacity="0.65"/>
<rect x="78.49" y="67.03" width="1.00" height="0.6" fill="#1a1a1a" fill-opacity="0.65"/>
<rect x="77.76" y="69.54" width="1.00" height="0.6" fill="#1a1a1a" fill-opacity="0.65"/>
<rect x="78.51" y="69.37" width="1.00" height="0.6" fill="#1a1a1a" fill-opacity="0.65"/>
<rect x="78.99" y="66.99" width="1.00" height="0.6" fill="#1a1a1a" fill-opacity="0.65"/>
<rect x="82.12" y="65.95" width="1.00" height="0.6" fill="#1a1a1a" fill-opacity="0.65"/>
<rect x="82.72" y="70.28" width="1.00" height="0.6" fill="#1a1a1a" fill-opacity="0.65"/>
<rect x="82.38" y="64.04" width="1.00" height="0.6" fill="#1a1a1a" fill-opacity="0.65"/>
<rect x="82.20" y="67.82" width="1.00" height="0.6" fill="#1a1a1a" fill-opacity="0.65"/>
<rect x="81.62" y="67.32" width="1.00" height="0.6" fill="#1a1a1a" fill-opacity="0.65"/>
<rect x="81.44" y="66.03" width="1.00" height="0.6" fill="#1a1a1a" fill-opacity="0.65"/>
<rect x="82.98" y="65.88" width="1.00" height="0.6" fill="#1a1a1a" fill-opacity="0.65"/>
<rect x="81.35" y="66.57" width="1.00" height="0.6" fill="#1a1a1a" fill-opacity="0.65"/>
<rect x="83.52" y="65.71" width="1.00" height="0.6" fill="#1a1a1a" fill-opacity="0.65"/>
<rect x="81.37" y="68.55" width="1.00" height="0.6" fill="#1a1a1a" fill-opacity="0.65"/>
<rect x="81.70" y="66.16" width="1.00" height="0.6" fill="#1a1a1a" fill-opacity="0.65"/>
<rect x="92.41" y="72.42" width="1.00" height="0.6" fill="#1a1a1a" fill-opacity="0.65"/>
<rect x="92.88" y="73.16" width="1.00" height="0.6" fill="#1a1a1a" fill-opacity="0.65"/>
<rect x="92.18" y="76.13" width="1.00" height="0.6" fill="#1a1a1a" fill-opacity="0.65"/>
<rect x="84.88" y="66.48" width="1.00" height="0.6" fill="#1a1a1a" fill-opacity="0.65"/>
<rect x="91.19" y="70.70" width="1.00" height="0.6" fill="#1a1a1a" fill-opacity="0.65"/>
<rect x="94.72" y="67.33" width="1.00" height="0.6" fill="#1a1a1a" fill-opacity="0.65"/>
<rect x="86.85" y="78.49" width="1.00" height="0.6" fill="#1a1a1a" fill-opacity="0.65"/>
<rect x="84.03" y="70.40" width="1.00" height="0.6" fill="#1a1a1a" fill-opacity="0.65"/>
<rect x="84.07" y="67.32" width="1.00" height="0.6" fill="#1a1a1a" fill-opacity="0.65"/>
<rect x="84.82" y="65.54" width="1.00" height="0.6" fill="#1a1a1a" fill-opacity="0.65"/>
<rect x="87.51" y="71.57" width="1.00" height="0.6" fill="#1a1a1a" fill-opacity="0.65"/>
<rect x="93.89" y="69.36" width="1.00" height="0.6" fill="#1a1a1a" fill-opacity="0.65"/>
<rect x="89.54" y="75.68" width="1.00" height="0.6" fill="#1a1a1a" fill-opacity="0.65"/>
<rect x="90.57" y="73.39" width="1.00" height="0.6" fill="#1a1a1a" fill-opacity="0.65"/>
<rect x="88.99" y="70.85" width="1.00" height="0.6" fill="#1a1a1a" fill-opacity="0.65"/>
<rect x="93.15" y="69.77" width="1.00" height="0.6" fill="#1a1a1a" fill-opacity="0.65"/>
<rect x="100.80" y="78.23" width="1.00" height="0.6" fill="#1a1a1a" fill-opacity="0.65"/>
<rect x="101.22" y="77.81" width="1.00" height="0.6" fill="#1a1a1a" fill-opacity="0.65"/>
<rect x="100.97" y="80.62" width="1.00" height="0.6" fill="#1a1a1a" fill-opacity="0.65"/>
<rect x="104.04" y="75.71" width="1.00" height="0.6" fill="#1a1a1a" fill-opacity="0.65"/>
<rect x="102.36" y="79.54" width="1.00" height="0.6" fill="#1a1a1a" fill-opacity="0.65"/>
<rect x="105.50" y="80.28" width="1.00" height="0.6" fill="#1a1a1a" fill-opacity="0.65"/>
<rect x="103.42" y="80.41" width="1.00" height="0.6" fill="#1a1a1a" fill-opacity="0.65"/>
<rect x="102.66" y="78.35" width="1.00" height="0.6" fill="#1a1a1a" fill-opacity="0.65"/>
<rect x="105.53" y="80.83" width="1.00" height="0.6" fill="#1a1a1a" fill-opacity="0.65"/>
<rect x="100.38" y="77.69" width="1.00" height="0.6" fill="#1a1a1a" fill-opacity="0.65"/>
<rect x="101.30" y="80.96" width="1.00" height="0.6" fill="#1a1a1a" fill-opacity="0.65"/>
<rect x="103.27" y="78.63" width="1.00" height="0.6" fill="#1a1a1a" fill-opacity="0.65"/>
<rect x="102.63" y="82.15" width="1.00" height="0.6" fill="#1a1a1a" fill-opacity="0.65"/>
<rect x="100.18" y="77.83" width="1.00" height="0.6" fill="#1a1a1a" fill-opacity="0.65"/>
<rect x="98.01" y="79.55" width="1.00" height="0.6" fill="#1a1a1a" fill-opacity="0.65"/>
<rect x="102.52" y="81.48" width="1.00" height="0.6" fill="#1a1a1a" fill-opacity="0.65"/>
<rect x="104.28" y="80.08" width="1.00" height="0.6" fill="#1a1a1a" fill-opacity="0.65"/>
<rect x="104.42" y="79.38" width="1.00" height="0.6" fill="#1a1a1a" fill-opacity="0.65"/>
<rect x="104.25" y="81.19" width="1.00" height="0.6" fill="#1a1a1a" fill-opacity="0.65"/>
<rect x="100.11" y="78.06" width="1.00" height="0.6" fill="#1a1a1a" fill-opacity="0.65"/>
<rect x="104.55" y="80.61" width="1.00" height="0.6" fill="#1a1a1a" fill-opacity="0.65"/>
<rect x="105.04" y="77.28" width="1.00" height="0.6" fill="#1a1a1a" fill-opacity="0.65"/>
<rect x="100.67" y="81.56" width="1.00" height="0.6" fill="#1a1a1a" fill-opacity="0.65"/>
<rect x="104.14" y="80.80" width="1.00" height="0.6" fill="#1a1a1a" fill-opacity="0.65"/>
<rect x="99.54" y="79.70" width="1.00" height="0.6" fill="#1a1a1a" fill-opacity="0.65"/>
<rect x="99.80" y="75.76" width="1.00" height="0.6" fill="#1a1a1a" fill-opacity="0.65"/>
<rect x="102.67" y="78.86" width="1.00" height="0.6" fill="#1a1a1a" fill-opacity="0.65"/>
<rect x="99.59" y="77.99" width="1.00" height="0.6" fill="#1a1a1a" fill-opacity="0.65"/>
<rect x="99.96" y="79.72" width="1.00" height="0.6" fill="#1a1a1a" fill-opacity="0.65"/>
<rect x="101.54" y="76.69" width="1.00" height="0.6" fill="#1a1a1a" fill-opacity="0.65"/>
<rect x="99.95" y="68.28" width="1.00" height="0.6" fill="#1a1a1a" fill-opacity="0.65"/>
<rect x="100.20" y="64.52" width="1.00" height="0.6" fill="#1a1a1a" fill-opacity="0.65"/>
<rect x="100.79" y="70.08" width="1.00" height="0.6" fill="#1a1a1a" fill-opacity="0.65"/>
<rect x="100.69" y="65.13" width="1.00" height="0.6" fill="#1a1a1a" fill-opacity="0.65"/>
<rect x="100.61" y="66.33" width="1.00" height="0.6" fill="#1a1a1a" fill-opacity="0.65"/>
<rect x="100.13" y="66.67" width="1.00" height="0.6" fill="#1a1a1a" fill-opacity="0.65"/>
<rect x="109.40" y="65.77" width="1.00" height="0.6" fill="#1a1a1a" fill-opacity="0.65"/>
<rect x="117.27" y="64.72" width="1.00" height="0.6" fill="#1a1a1a" fill-opacity="0.65"/>
<rect x="113.95" y="65.30" width="1.00" height="0.6" fill="#1a1a1a" fill-opacity="0.65"/>
<rect x="106.61" y="66.16" width="1.00" height="0.6" fill="#1a1a1a" fill-opacity="0.65"/>
<rect x="126.14" y="65.69" width="1.00" height="0.6" fill="#1a1a1a" fill-opacity="0.65"/>
<rect x="118.67" y="66.83" width="1.00" height="0.6" fill="#1a1a1a" fill-opacity="0.65"/>
<rect x="121.84" y="67.53" width="1.00" height="0.6" fill="#1a1a1a" fill-opacity="0.65"/>
<rect x="112.77" y="68.17" width="1.00" height="0.6" fill="#1a1a1a" fill-opacity="0.65"/>
<rect x="116.35" y="66.70" width="1.00" height="0.6" fill="#1a1a1a" fill-opacity="0.65"/>
<rect x="126.00" y="66.32" width="1.00" height="0.6" fill="#1a1a1a" fill-opacity="0.65"/>
<rect x="123.45" y="64.07" width="1.00" height="0.6" fill="#1a1a1a" fill-opacity="0.65"/>
<rect x="111.06" y="66.45" width="1.00" height="0.6" fill="#1a1a1a" fill-opacity="0.65"/>
<rect x="121.67" y="62.58" width="1.00" height="0.6" fill="#1a1a1a" fill-opacity="0.65"/>
<rect x="121.43" y="68.11" width="1.00" height="0.6" fill="#1a1a1a" fill-opacity="0.65"/>
<rect x="122.49" y="67.53" width="1.00" height="0.6" fill="#1a1a1a" fill-opacity="0.65"/>
<rect x="106.48" y="65.96" width="1.00" height="0.6" fill="#1a1a1a" fill-opacity="0.65"/>
<rect x="109.82" y="66.56" width="1.00" height="0.6" fill="#1a1a1a" fill-opacity="0.65"/>
<rect x="106.75" y="66.90" width="1.00" height="0.6" fill="#1a1a1a" fill-opacity="0.65"/>
<rect x="117.13" y="67.55" width="1.00" height="0.6" fill="#1a1a1a" fill-opacity="0.65"/>
<rect x="125.12" y="64.89" width="1.00" height="0.6" fill="#1a1a1a" fill-opacity="0.65"/>
<rect x="124.35" y="68.37" width="1.00" height="0.6" fill="#1a1a1a" fill-opacity="0.65"/>
<rect x="113.85" y="67.16" width="1.00" height="0.6" fill="#1a1a1a" fill-opacity="0.65"/>
<rect x="108.16" y="67.53" width="1.00" height="0.6" fill="#1a1a1a" fill-opacity="0.65"/>
<rect x="117.27" y="65.93" width="1.00" height="0.6" fill="#1a1a1a" fill-opacity="0.65"/>
<rect x="118.83" y="68.70" width="1.00" height="0.6" fill="#1a1a1a" fill-opacity="0.65"/>
<rect x="113.76" y="65.58" width="1.00" height="0.6" fill="#1a1a1a" fill-opacity="0.65"/>
<rect x="114.89" y="68.63" width="1.00" height="0.6" fill="#1a1a1a" fill-opacity="0.65"/>
<rect x="126.03" y="69.98" width="1.00" height="0.6" fill="#1a1a1a" fill-opacity="0.65"/>
<rect x="110.25" y="67.53" width="1.00" height="0.6" fill="#1a1a1a" fill-opacity="0.65"/>
<rect x="112.92" y="66.57" width="1.00" height="0.6" fill="#1a1a1a" fill-opacity="0.65"/>
<rect x="124.21" y="68.93" width="1.00" height="0.6" fill="#1a1a1a" fill-opacity="0.65"/>
<rect x="106.66" y="64.43" width="1.00" height="0.6" fill="#1a1a1a" fill-opacity="0.65"/>
<rect x="121.82" y="65.64" width="1.00" height="0.6" fill="#1a1a1a" fill-opacity="0.65"/>
<rect x="125.90" y="63.89" width="1.00" height="0.6" fill="#1a1a1a" fill-opacity="0.65"/>
<rect x="106.84" y="68.01" width="1.00" height="0.6" fill="#1a1a1a" fill-opacity="0.65"/>
<rect x="124.96" y="68.51" width="1.00" height="0.6" fill="#1a1a1a" fill-opacity="0.65"/>
<rect x="119.58" y="65.57" width="1.00" height="0.6" fill="#1a1a1a" fill-opacity="0.65"/>
<rect x="121.24" y="68.43" width="1.00" height="0.6" fill="#1a1a1a" fill-opacity="0.65"/>
<rect x="107.86" y="65.67" width="1.00" height="0.6" fill="#1a1a1a" fill-opacity="0.65"/>
<rect x="108.24" y="67.43" width="1.00" height="0.6" fill="#1a1a1a" fill-opacity="0.65"/>
<rect x="115.57" y="66.87" width="1.00" height="0.6" fill="#1a1a1a" fill-opacity="0.65"/>
<rect x="108.63" y="67.35" width="1.00" height="0.6" fill="#1a1a1a" fill-opacity="0.65"/>
<rect x="119.59" y="68.95" width="1.00" height="0.6" fill="#1a1a1a" fill-opacity="0.65"/>
<rect x="109.70" y="66.47" width="1.00" height="0.6" fill="#1a1a1a" fill-opacity="0.65"/>
<rect x="106.44" y="67.34" width="1.00" height="0.6" fill="#1a1a1a" fill-opacity="0.65"/>
<rect x="124.85" y="65.73" width="1.00" height="0.6" fill="#1a1a1a" fill-opacity="0.65"/>
<rect x="123.47" y="66.97" width="1.00" height="0.6" fill="#1a1a1a" fill-opacity="0.65"/>
<rect x="114.87" y="65.66" width="1.00" height="0.6" fill="#1a1a1a" fill-opacity="0.65"/>
<rect x="107.69" y="69.21" width="1.00" height="0.6" fill="#1a1a1a" fill-opacity="0.65"/>
<rect x="118.58" y="64.85" width="1.00" height="0.6" fill="#1a1a1a" fill-opacity="0.65"/>
<rect x="114.97" y="64.57" width="1.00" height="0.6" fill="#1a1a1a" fill-opacity="0.65"/>
<rect x="115.49" y="68.93" width="1.00" height="0.6" fill="#1a1a1a" fill-opacity="0.65"/>
<rect x="118.58" y="67.01" width="1.00" height="0.6" fill="#1a1a1a" fill-opacity="0.65"/>
<rect x="106.86" y="67.20" width="1.00" height="0.6" fill="#1a1a1a" fill-opacity="0.65"/>
<rect x="120.33" y="65.36" width="1.00" height="0.6" fill="#1a1a1a" fill-opacity="0.65"/>
<rect x="123.55" y="65.95" width="1.00" height="0.6" fill="#1a1a1a" fill-opacity="0.65"/>
<rect x="111.16" y="65.42" width="1.00" height="0.6" fill="#1a1a1a" fill-opacity="0.65"/>
<rect x="111.26" y="66.78" width="1.00" height="0.6" fill="#1a1a1a" fill-opacity="0.65"/>
<rect x="122.91" y="65.74" width="1.00" height="0.6" fill="#1a1a1a" fill-opacity="0.65"/>
<rect x="115.77" y="67.15" width="1.00" height="0.6" fill="#1a1a1a" fill-opacity="0.65"/>
<rect x="112.22" y="66.95" width="1.00" height="0.6" fill="#1a1a1a" fill-opacity="0.65"/>
<rect x="125.76" y="65.78" width="1.00" height="0.6" fill="#1a1a1a" fill-opacity="0.65"/>
<rect x="106.87" y="68.26" width="1.00" height="0.6" fill="#1a1a1a" fill-opacity="0.65"/>
<rect x="110.03" y="64.71" width="1.00" height="0.6" fill="#1a1a1a" fill-opacity="0.65"/>
<rect x="115.49" y="65.96" width="1.00" height="0.6" fill="#1a1a1a" fill-opacity="0.65"/>
<rect x="109.83" y="67.54" width="1.00" height="0.6" fill="#1a1a1a" fill-opacity="0.65"/>
<rect x="113.17" y="72.26" width="1.00" height="0.6" fill="#1a1a1a" fill-opacity="0.65"/>
<rect x="124.66" y="65.92" width="1.00" height="0.6" fill="#1a1a1a" fill-opacity="0.65"/>
<rect x="107.70" y="65.37" width="1.00" height="0.6" fill="#1a1a1a" fill-opacity="0.65"/>
<rect x="106.88" y="69.77" width="1.00" height="0.6" fill="#1a1a1a" fill-opacity="0.65"/>
<rect x="120.59" y="64.99" width="1.00" height="0.6" fill="#1a1a1a" fill-opacity="0.65"/>
<rect x="106.03" y="70.80" width="1.00" height="0.6" fill="#1a1a1a" fill-opacity="0.65"/>
<rect x="122.24" y="65.75" width="1.00" height="0.6" fill="#1a1a1a" fill-opacity="0.65"/>
<rect x="105.74" y="67.05" width="1.00" height="0.6" fill="#1a1a1a" fill-opacity="0.65"/>
<rect x="122.76" y="65.19" width="1.00" height="0.6" fill="#1a1a1a" fill-opacity="0.65"/>
<rect x="114.62" y="66.08" width="1.00" height="0.6" fill="#1a1a1a" fill-opacity="0.65"/>
<rect x="124.40" y="66.70" width="1.00" height="0.6" fill="#1a1a1a" fill-opacity="0.65"/>
<rect x="108.53" y="68.43" width="1.00" height="0.6" fill="#1a1a1a" fill-opacity="0.65"/>
<rect x="109.39" y="66.60" width="1.00" height="0.6" fill="#1a1a1a" fill-opacity="0.65"/>
<rect x="109.73" y="63.60" width="1.00" height="0.6" fill="#1a1a1a" fill-opacity="0.65"/>
<rect x="107.32" y="68.25" width="1.00" height="0.6" fill="#1a1a1a" fill-opacity="0.65"/>
<rect x="115.86" y="67.48" width="1.00" height="0.6" fill="#1a1a1a" fill-opacity="0.65"/>
<rect x="126.69" y="80.34" width="1.00" height="0.6" fill="#1a1a1a" fill-opacity="0.65"/>
<rect x="127.47" y="81.95" width="1.00" height="0.6" fill="#1a1a1a" fill-opacity="0.65"/>
<rect x="127.66" y="78.71" width="1.00" height="0.6" fill="#1a1a1a" fill-opacity="0.65"/>
<rect x="126.32" y="79.13" width="1.00" height="0.6" fill="#1a1a1a" fill-opacity="0.65"/>
<rect x="127.52" y="77.42" width="1.00" height="0.6" fill="#1a1a1a" fill-opacity="0.65"/>
<rect x="126.30" y="81.18" width="1.00" height="0.6" fill="#1a1a1a" fill-opacity="0.65"/>
<rect x="127.66" y="78.03" width="1.00" height="0.6" fill="#1a1a1a" fill-opacity="0.65"/>
<rect x="133.10" y="69.87" width="1.00" height="0.6" fill="#1a1a1a" fill-opacity="0.65"/>
<rect x="130.91" y="70.77" width="1.00" height="0.6" fill="#1a1a1a" fill-opacity="0.65"/>
<rect x="130.81" y="67.42" width="1.00" height="0.6" fill="#1a1a1a" fill-opacity="0.65"/>
<rect x="133.14" y="66.95" width="1.00" height="0.6" fill="#1a1a1a" fill-opacity="0.65"/>
<rect x="132.91" y="68.15" width="1.00" height="0.6" fill="#1a1a1a" fill-opacity="0.65"/>
<rect x="130.17" y="67.91" width="1.00" height="0.6" fill="#1a1a1a" fill-opacity="0.65"/>
<rect x="131.51" y="68.46" width="1.00" height="0.6" fill="#1a1a1a" fill-opacity="0.65"/>
<rect x="128.03" y="65.23" width="1.00" height="0.6" fill="#1a1a1a" fill-opacity="0.65"/>
<rect x="131.04" y="66.83" width="1.00" height="0.6" fill="#1a1a1a" fill-opacity="0.65"/>
<rect x="128.71" y="66.37" width="1.00" height="0.6" fill="#1a1a1a" fill-opacity="0.65"/>
<rect x="133.11" y="64.01" width="1.00" height="0.6" fill="#1a1a1a" fill-opacity="0.65"/>
<rect x="129.89" y="66.66" width="1.00" height="0.6" fill="#1a1a1a" fill-opacity="0.65"/>
<rect x="132.43" y="65.44" width="1.00" height="0.6" fill="#1a1a1a" fill-opacity="0.65"/>
<rect x="128.36" y="70.00" width="1.00" height="0.6" fill="#1a1a1a" fill-opacity="0.65"/>
<rect x="130.92" y="64.04" width="1.00" height="0.6" fill="#1a1a1a" fill-opacity="0.65"/>
<rect x="131.03" y="64.99" width="1.00" height="0.6" fill="#1a1a1a" fill-opacity="0.65"/>
<rect x="128.12" y="66.66" width="1.00" height="0.6" fill="#1a1a1a" fill-opacity="0.65"/>
<rect x="133.71" y="67.24" width="1.00" height="0.6" fill="#1a1a1a" fill-opacity="0.65"/>
<rect x="128.61" y="68.12" width="1.00" height="0.6" fill="#1a1a1a" fill-opacity="0.65"/>
<rect x="129.48" y="67.23" width="1.00" height="0.6" fill="#1a1a1a" fill-opacity="0.65"/>
<rect x="128.57" y="66.68" width="1.00" height="0.6" fill="#1a1a1a" fill-opacity="0.65"/>
<rect x="132.12" y="67.17" width="1.00" height="0.6" fill="#1a1a1a" fill-opacity="0.65"/>
<rect x="131.54" y="67.36" width="1.00" height="0.6" fill="#1a1a1a" fill-opacity="0.65"/>
<rect x="137.99" y="77.08" width="1.00" height="0.6" fill="#1a1a1a" fill-opacity="0.65"/>
<rect x="134.63" y="79.32" width="1.00" height="0.6" fill="#1a1a1a" fill-opacity="0.65"/>
<rect x="140.07" y="79.59" width="1.00" height="0.6" fill="#1a1a1a" fill-opacity="0.65"/>
<rect x="134.77" y="79.19" width="1.00" height="0.6" fill="#1a1a1a" fill-opacity="0.65"/>
<rect x="137.40" y="78.32" width="1.00" height="0.6" fill="#1a1a1a" fill-opacity="0.65"/>
<rect x="134.77" y="79.69" width="1.00" height="0.6" fill="#1a1a1a" fill-opacity="0.65"/>
<rect x="136.78" y="81.18" width="1.00" height="0.6" fill="#1a1a1a" fill-opacity="0.65"/>
<rect x="140.01" y="81.43" width="1.00" height="0.6" fill="#1a1a1a" fill-opacity="0.65"/>
<rect x="134.95" y="77.17" width="1.00" height="0.6" fill="#1a1a1a" fill-opacity="0.65"/>
<rect x="135.07" y="78.46" width="1.00" height="0.6" fill="#1a1a1a" fill-opacity="0.65"/>
<rect x="139.76" y="81.26" width="1.00" height="0.6" fill="#1a1a1a" fill-opacity="0.65"/>
<rect x="136.89" y="79.06" width="1.00" height="0.6" fill="#1a1a1a" fill-opacity="0.65"/>
<rect x="139.86" y="78.02" width="1.00" height="0.6" fill="#1a1a1a" fill-opacity="0.65"/>
<rect x="140.58" y="79.43" width="1.00" height="0.6" fill="#1a1a1a" fill-opacity="0.65"/>
<rect x="139.42" y="79.03" width="1.00" height="0.6" fill="#1a1a1a" fill-opacity="0.65"/>
<rect x="136.28" y="80.77" width="1.00" height="0.6" fill="#1a1a1a" fill-opacity="0.65"/>
<rect x="136.99" y="82.75" width="1.00" height="0.6" fill="#1a1a1a" fill-opacity="0.65"/>
<rect x="140.38" y="79.34" width="1.00" height="0.6" fill="#1a1a1a" fill-opacity="0.65"/>
<rect x="139.69" y="80.02" width="1.00" height="0.6" fill="#1a1a1a" fill-opacity="0.65"/>
<rect x="137.57" y="79.24" width="1.00" height="0.6" fill="#1a1a1a" fill-opacity="0.65"/>
<rect x="140.70" y="80.88" width="1.00" height="0.6" fill="#1a1a1a" fill-opacity="0.65"/>
<rect x="136.90" y="79.18" width="1.00" height="0.6" fill="#1a1a1a" fill-opacity="0.65"/>
<rect x="138.39" y="78.32" width="1.00" height="0.6" fill="#1a1a1a" fill-opacity="0.65"/>
<rect x="134.39" y="81.27" width="1.00" height="0.6" fill="#1a1a1a" fill-opacity="0.65"/>
<rect x="136.97" y="79.35" width="1.00" height="0.6" fill="#1a1a1a" fill-opacity="0.65"/>
<rect x="134.89" y="79.69" width="1.00" height="0.6" fill="#1a1a1a" fill-opacity="0.65"/>
<rect x="140.78" y="80.36" width="1.00" height="0.6" fill="#1a1a1a" fill-opacity="0.65"/>
<rect x="138.40" y="75.76" width="1.00" height="0.6" fill="#1a1a1a" fill-opacity="0.65"/>
<line x1="64.50" y1="72.20" x2="64.50" y2="81.20" stroke="#fff" stroke-width="0.6" />
<rect x="49.20" y="93.80" width="32.30" height="9.00" fill="#d47474" fill-opacity="0.95"/>
<rect x="81.50" y="87.80" width="2.50" height="6.00" fill="#7272c2" fill-opacity="0.95"/>
<line x1="84.00" y1="94.20" x2="98.50" y2="94.20" stroke="#d47474" stroke-width="1.0" />
<rect x="98.50" y="93.80" width="2.00" height="9.00" fill="#d47474" fill-opacity="0.95"/>
<rect x="100.50" y="91.80" width="1.50" height="2.00" fill="#7272c2" fill-opacity="0.95"/>
<rect x="102.00" y="93.80" width="4.20" height="9.00" fill="#d47474" fill-opacity="0.95"/>
<rect x="106.20" y="88.20" width="19.20" height="5.60" fill="#7272c2" fill-opacity="0.95"/>
<rect x="125.80" y="93.80" width="3.40" height="4.60" fill="#d47474" fill-opacity="0.95"/>
<rect x="129.20" y="88.20" width="5.40" height="5.60" fill="#7272c2" fill-opacity="0.95"/>
<rect x="134.60" y="93.80" width="6.90" height="9.00" fill="#d47474" fill-opacity="0.95"/>
<rect x="74.84" y="104.83" width="1.00" height="0.6" fill="#222" fill-opacity="0.75"/>
<rect x="49.81" y="100.43" width="1.00" height="0.6" fill="#222" fill-opacity="0.75"/>
<rect x="69.42" y="102.28" width="1.00" height="0.6" fill="#222" fill-opacity="0.75"/>
<rect x="57.53" y="104.75" width="1.00" height="0.6" fill="#222" fill-opacity="0.75"/>
<rect x="66.21" y="104.36" width="1.00" height="0.6" fill="#222" fill-opacity="0.75"/>
<rect x="56.79" y="101.54" width="1.00" height="0.6" fill="#222" fill-opacity="0.75"/>
<rect x="65.51" y="99.13" width="1.00" height="0.6" fill="#222" fill-opacity="0.75"/>
<rect x="57.99" y="103.99" width="1.00" height="0.6" fill="#222" fill-opacity="0.75"/>
<rect x="58.56" y="102.04" width="1.00" height="0.6" fill="#222" fill-opacity="0.75"/>
<rect x="67.90" y="101.89" width="1.00" height="0.6" fill="#222" fill-opacity="0.75"/>
<rect x="79.58" y="101.32" width="1.00" height="0.6" fill="#222" fill-opacity="0.75"/>
<rect x="63.77" y="102.40" width="1.00" height="0.6" fill="#222" fill-opacity="0.75"/>
<rect x="65.94" y="102.96" width="1.00" height="0.6" fill="#222" fill-opacity="0.75"/>
<rect x="52.94" y="103.12" width="1.00" height="0.6" fill="#222" fill-opacity="0.75"/>
<rect x="58.18" y="101.47" width="1.00" height="0.6" fill="#222" fill-opacity="0.75"/>
<rect x="56.56" y="103.19" width="1.00" height="0.6" fill="#222" fill-opacity="0.75"/>
<rect x="51.54" y="99.75" width="1.00" height="0.6" fill="#222" fill-opacity="0.75"/>
<rect x="68.40" y="101.68" width="1.00" height="0.6" fill="#222" fill-opacity="0.75"/>
<rect x="67.12" y="101.91" width="1.00" height="0.6" fill="#222" fill-opacity="0.75"/>
<rect x="71.64" y="101.69" width="1.00" height="0.6" fill="#222" fill-opacity="0.75"/>
<rect x="63.59" y="100.53" width="1.00" height="0.6" fill="#222" fill-opacity="0.75"/>
<rect x="63.85" y="101.89" width="1.00" height="0.6" fill="#222" fill-opacity="0.75"/>
<rect x="58.73" y="102.55" width="1.00" height="0.6" fill="#222" fill-opacity="0.75"/>
<rect x="65.25" y="103.56" width="1.00" height="0.6" fill="#222" fill-opacity="0.75"/>
<rect x="61.08" y="102.30" width="1.00" height="0.6" fill="#222" fill-opacity="0.75"/>
<rect x="60.09" y="102.38" width="1.00" height="0.6" fill="#222" fill-opacity="0.75"/>
<rect x="76.54" y="102.64" width="1.00" height="0.6" fill="#222" fill-opacity="0.75"/>
<rect x="64.57" y="104.41" width="1.00" height="0.6" fill="#222" fill-opacity="0.75"/>
<rect x="57.90" y="103.75" width="1.00" height="0.6" fill="#222" fill-opacity="0.75"/>
<rect x="73.64" y="102.40" width="1.00" height="0.6" fill="#222" fill-opacity="0.75"/>
<rect x="53.82" y="105.27" width="1.00" height="0.6" fill="#222" fill-opacity="0.75"/>
<rect x="62.91" y="103.74" width="1.00" height="0.6" fill="#222" fill-opacity="0.75"/>
<rect x="50.70" y="101.27" width="1.00" height="0.6" fill="#222" fill-opacity="0.75"/>
<rect x="72.45" y="103.55" width="1.00" height="0.6" fill="#222" fill-opacity="0.75"/>
<rect x="52.23" y="103.09" width="1.00" height="0.6" fill="#222" fill-opacity="0.75"/>
<rect x="72.56" y="106.25" width="1.00" height="0.6" fill="#222" fill-opacity="0.75"/>
<rect x="53.69" y="101.77" width="1.00" height="0.6" fill="#222" fill-opacity="0.75"/>
<rect x="70.51" y="103.69" width="1.00" height="0.6" fill="#222" fill-opacity="0.75"/>
<rect x="68.61" y="104.14" width="1.00" height="0.6" fill="#222" fill-opacity="0.75"/>
<rect x="65.42" y="100.25" width="1.00" height="0.6" fill="#222" fill-opacity="0.75"/>
<rect x="72.56" y="102.39" width="1.00" height="0.6" fill="#222" fill-opacity="0.75"/>
<rect x="64.05" y="99.97" width="1.00" height="0.6" fill="#222" fill-opacity="0.75"/>
<rect x="74.05" y="101.64" width="1.00" height="0.6" fill="#222" fill-opacity="0.75"/>
<rect x="52.81" y="99.28" width="1.00" height="0.6" fill="#222" fill-opacity="0.75"/>
<rect x="76.83" y="105.05" width="1.00" height="0.6" fill="#222" fill-opacity="0.75"/>
<rect x="67.62" y="102.57" width="1.00" height="0.6" fill="#222" fill-opacity="0.75"/>
<rect x="64.78" y="104.40" width="1.00" height="0.6" fill="#222" fill-opacity="0.75"/>
<rect x="62.20" y="102.05" width="1.00" height="0.6" fill="#222" fill-opacity="0.75"/>
<rect x="74.01" y="103.93" width="1.00" height="0.6" fill="#222" fill-opacity="0.75"/>
<rect x="60.96" y="101.03" width="1.00" height="0.6" fill="#222" fill-opacity="0.75"/>
<rect x="63.31" y="100.18" width="1.00" height="0.6" fill="#222" fill-opacity="0.75"/>
<rect x="81.73" y="88.13" width="1.00" height="0.6" fill="#222" fill-opacity="0.75"/>
<rect x="81.98" y="86.11" width="1.00" height="0.6" fill="#222" fill-opacity="0.75"/>
<rect x="81.80" y="87.00" width="1.00" height="0.6" fill="#222" fill-opacity="0.75"/>
<rect x="82.97" y="88.53" width="1.00" height="0.6" fill="#222" fill-opacity="0.75"/>
<rect x="89.94" y="89.92" width="1.00" height="0.6" fill="#222" fill-opacity="0.75"/>
<rect x="86.17" y="92.80" width="1.00" height="0.6" fill="#222" fill-opacity="0.75"/>
<rect x="91.84" y="95.48" width="1.00" height="0.6" fill="#222" fill-opacity="0.75"/>
<rect x="91.93" y="100.68" width="1.00" height="0.6" fill="#222" fill-opacity="0.75"/>
<rect x="88.20" y="97.92" width="1.00" height="0.6" fill="#222" fill-opacity="0.75"/>
<rect x="95.73" y="98.48" width="1.00" height="0.6" fill="#222" fill-opacity="0.75"/>
<rect x="86.46" y="85.45" width="1.00" height="0.6" fill="#222" fill-opacity="0.75"/>
<rect x="89.68" y="93.97" width="1.00" height="0.6" fill="#222" fill-opacity="0.75"/>
<rect x="98.09" y="102.38" width="1.00" height="0.6" fill="#222" fill-opacity="0.75"/>
<rect x="99.13" y="99.13" width="1.00" height="0.6" fill="#222" fill-opacity="0.75"/>
<rect x="99.55" y="102.56" width="1.00" height="0.6" fill="#222" fill-opacity="0.75"/>
<rect x="100.81" y="93.31" width="1.00" height="0.6" fill="#222" fill-opacity="0.75"/>
<rect x="100.78" y="91.48" width="1.00" height="0.6" fill="#222" fill-opacity="0.75"/>
<rect x="104.38" y="101.42" width="1.00" height="0.6" fill="#222" fill-opacity="0.75"/>
<rect x="104.00" y="103.40" width="1.00" height="0.6" fill="#222" fill-opacity="0.75"/>
<rect x="102.97" y="104.63" width="1.00" height="0.6" fill="#222" fill-opacity="0.75"/>
<rect x="103.71" y="101.78" width="1.00" height="0.6" fill="#222" fill-opacity="0.75"/>
<rect x="101.92" y="101.43" width="1.00" height="0.6" fill="#222" fill-opacity="0.75"/>
<rect x="103.86" y="103.58" width="1.00" height="0.6" fill="#222" fill-opacity="0.75"/>
<rect x="116.72" y="90.72" width="1.00" height="0.6" fill="#222" fill-opacity="0.75"/>
<rect x="115.04" y="85.24" width="1.00" height="0.6" fill="#222" fill-opacity="0.75"/>
<rect x="114.15" y="84.36" width="1.00" height="0.6" fill="#222" fill-opacity="0.75"/>
<rect x="112.29" y="84.37" width="1.00" height="0.6" fill="#222" fill-opacity="0.75"/>
<rect x="115.88" y="88.27" width="1.00" height="0.6" fill="#222" fill-opacity="0.75"/>
<rect x="111.81" y="87.06" width="1.00" height="0.6" fill="#222" fill-opacity="0.75"/>
<rect x="124.49" y="88.73" width="1.00" height="0.6" fill="#222" fill-opacity="0.75"/>
<rect x="107.82" y="86.30" width="1.00" height="0.6" fill="#222" fill-opacity="0.75"/>
<rect x="122.87" y="86.87" width="1.00" height="0.6" fill="#222" fill-opacity="0.75"/>
<rect x="124.71" y="85.32" width="1.00" height="0.6" fill="#222" fill-opacity="0.75"/>
<rect x="122.75" y="87.13" width="1.00" height="0.6" fill="#222" fill-opacity="0.75"/>
<rect x="111.27" y="88.32" width="1.00" height="0.6" fill="#222" fill-opacity="0.75"/>
<rect x="115.52" y="86.93" width="1.00" height="0.6" fill="#222" fill-opacity="0.75"/>
<rect x="109.20" y="87.87" width="1.00" height="0.6" fill="#222" fill-opacity="0.75"/>
<rect x="117.80" y="86.78" width="1.00" height="0.6" fill="#222" fill-opacity="0.75"/>
<rect x="124.78" y="87.05" width="1.00" height="0.6" fill="#222" fill-opacity="0.75"/>
<rect x="117.92" y="89.39" width="1.00" height="0.6" fill="#222" fill-opacity="0.75"/>
<rect x="120.82" y="88.31" width="1.00" height="0.6" fill="#222" fill-opacity="0.75"/>
<rect x="111.59" y="87.85" width="1.00" height="0.6" fill="#222" fill-opacity="0.75"/>
<rect x="111.55" y="87.78" width="1.00" height="0.6" fill="#222" fill-opacity="0.75"/>
<rect x="121.87" y="85.99" width="1.00" height="0.6" fill="#222" fill-opacity="0.75"/>
<rect x="109.48" y="86.75" width="1.00" height="0.6" fill="#222" fill-opacity="0.75"/>
<rect x="115.26" y="86.79" width="1.00" height="0.6" fill="#222" fill-opacity="0.75"/>
<rect x="118.12" y="87.51" width="1.00" height="0.6" fill="#222" fill-opacity="0.75"/>
<rect x="115.90" y="89.86" width="1.00" height="0.6" fill="#222" fill-opacity="0.75"/>
<rect x="113.59" y="87.86" width="1.00" height="0.6" fill="#222" fill-opacity="0.75"/>
<rect x="108.03" y="89.30" width="1.00" height="0.6" fill="#222" fill-opacity="0.75"/>
<rect x="107.75" y="90.01" width="1.00" height="0.6" fill="#222" fill-opacity="0.75"/>
<rect x="107.62" y="88.77" width="1.00" height="0.6" fill="#222" fill-opacity="0.75"/>
<rect x="121.50" y="89.50" width="1.00" height="0.6" fill="#222" fill-opacity="0.75"/>
<rect x="127.38" y="98.29" width="1.00" height="0.6" fill="#222" fill-opacity="0.75"/>
<rect x="125.34" y="97.60" width="1.00" height="0.6" fill="#222" fill-opacity="0.75"/>
<rect x="127.92" y="97.05" width="1.00" height="0.6" fill="#222" fill-opacity="0.75"/>
<rect x="126.50" y="100.23" width="1.00" height="0.6" fill="#222" fill-opacity="0.75"/>
<rect x="125.88" y="98.03" width="1.00" height="0.6" fill="#222" fill-opacity="0.75"/>
<rect x="133.58" y="88.58" width="1.00" height="0.6" fill="#222" fill-opacity="0.75"/>
<rect x="131.84" y="86.95" width="1.00" height="0.6" fill="#222" fill-opacity="0.75"/>
<rect x="130.78" y="89.23" width="1.00" height="0.6" fill="#222" fill-opacity="0.75"/>
<rect x="129.00" y="89.43" width="1.00" height="0.6" fill="#222" fill-opacity="0.75"/>
<rect x="133.88" y="86.64" width="1.00" height="0.6" fill="#222" fill-opacity="0.75"/>
<rect x="131.07" y="87.07" width="1.00" height="0.6" fill="#222" fill-opacity="0.75"/>
<rect x="128.94" y="87.12" width="1.00" height="0.6" fill="#222" fill-opacity="0.75"/>
<rect x="133.73" y="88.70" width="1.00" height="0.6" fill="#222" fill-opacity="0.75"/>
<rect x="140.30" y="101.47" width="1.00" height="0.6" fill="#222" fill-opacity="0.75"/>
<rect x="139.73" y="101.83" width="1.00" height="0.6" fill="#222" fill-opacity="0.75"/>
<rect x="140.72" y="104.42" width="1.00" height="0.6" fill="#222" fill-opacity="0.75"/>
<rect x="137.52" y="103.56" width="1.00" height="0.6" fill="#222" fill-opacity="0.75"/>
<rect x="136.79" y="102.15" width="1.00" height="0.6" fill="#222" fill-opacity="0.75"/>
<rect x="139.06" y="102.73" width="1.00" height="0.6" fill="#222" fill-opacity="0.75"/>
<rect x="140.14" y="103.77" width="1.00" height="0.6" fill="#222" fill-opacity="0.75"/>
<rect x="137.44" y="102.80" width="1.00" height="0.6" fill="#222" fill-opacity="0.75"/>
<rect x="135.30" y="101.42" width="1.00" height="0.6" fill="#222" fill-opacity="0.75"/>
<rect x="136.57" y="104.05" width="1.00" height="0.6" fill="#222" fill-opacity="0.75"/>
<rect x="136.11" y="106.19" width="1.00" height="0.6" fill="#222" fill-opacity="0.75"/>
<line x1="64.50" y1="93.80" x2="64.50" y2="102.80" stroke="#fff" stroke-width="0.6" />
<rect x="49.20" y="116.20" width="30.00" height="9.00" fill="#d47474" fill-opacity="0.95"/>
<rect x="79.20" y="116.20" width="26.40" height="3.60" fill="#d47474" fill-opacity="0.95"/>
<rect x="105.60" y="110.80" width="20.70" height="5.40" fill="#7272c2" fill-opacity="0.95"/>
<rect x="127.70" y="112.30" width="8.60" height="3.90" fill="#7272c2" fill-opacity="0.95"/>
<rect x="136.30" y="116.20" width="5.20" height="8.50" fill="#d47474" fill-opacity="0.95"/>
<rect x="65.50" y="126.57" width="1.10" height="0.6" fill="#222" fill-opacity="0.75"/>
<rect x="60.22" y="126.37" width="1.10" height="0.6" fill="#222" fill-opacity="0.75"/>
<rect x="60.75" y="125.75" width="1.10" height="0.6" fill="#222" fill-opacity="0.75"/>
<rect x="73.42" y="125.27" width="1.10" height="0.6" fill="#222" fill-opacity="0.75"/>
<rect x="59.19" y="124.94" width="1.10" height="0.6" fill="#222" fill-opacity="0.75"/>
<rect x="57.16" y="126.07" width="1.10" height="0.6" fill="#222" fill-opacity="0.75"/>
<rect x="55.77" y="127.50" width="1.10" height="0.6" fill="#222" fill-opacity="0.75"/>
<rect x="58.89" y="125.48" width="1.10" height="0.6" fill="#222" fill-opacity="0.75"/>
<rect x="53.33" y="124.68" width="1.10" height="0.6" fill="#222" fill-opacity="0.75"/>
<rect x="56.74" y="124.14" width="1.10" height="0.6" fill="#222" fill-opacity="0.75"/>
<rect x="73.70" y="126.25" width="1.10" height="0.6" fill="#222" fill-opacity="0.75"/>
<rect x="73.74" y="126.30" width="1.10" height="0.6" fill="#222" fill-opacity="0.75"/>
<rect x="72.80" y="125.81" width="1.10" height="0.6" fill="#222" fill-opacity="0.75"/>
<rect x="70.32" y="126.31" width="1.10" height="0.6" fill="#222" fill-opacity="0.75"/>
<rect x="59.96" y="126.09" width="1.10" height="0.6" fill="#222" fill-opacity="0.75"/>
<rect x="77.18" y="124.58" width="1.10" height="0.6" fill="#222" fill-opacity="0.75"/>
<rect x="63.79" y="125.18" width="1.10" height="0.6" fill="#222" fill-opacity="0.75"/>
<rect x="52.58" y="126.86" width="1.10" height="0.6" fill="#222" fill-opacity="0.75"/>
<rect x="69.84" y="124.64" width="1.10" height="0.6" fill="#222" fill-opacity="0.75"/>
<rect x="66.28" y="128.75" width="1.10" height="0.6" fill="#222" fill-opacity="0.75"/>
<rect x="59.69" y="124.96" width="1.10" height="0.6" fill="#222" fill-opacity="0.75"/>
<rect x="55.03" y="127.36" width="1.10" height="0.6" fill="#222" fill-opacity="0.75"/>
<rect x="74.82" y="126.45" width="1.10" height="0.6" fill="#222" fill-opacity="0.75"/>
<rect x="64.93" y="126.41" width="1.10" height="0.6" fill="#222" fill-opacity="0.75"/>
<rect x="85.79" y="119.74" width="1.10" height="0.6" fill="#222" fill-opacity="0.75"/>
<rect x="96.01" y="117.74" width="1.10" height="0.6" fill="#222" fill-opacity="0.75"/>
<rect x="93.64" y="118.83" width="1.10" height="0.6" fill="#222" fill-opacity="0.75"/>
<rect x="80.92" y="121.16" width="1.10" height="0.6" fill="#222" fill-opacity="0.75"/>
<rect x="83.32" y="120.44" width="1.10" height="0.6" fill="#222" fill-opacity="0.75"/>
<rect x="96.15" y="118.22" width="1.10" height="0.6" fill="#222" fill-opacity="0.75"/>
<rect x="81.53" y="117.92" width="1.10" height="0.6" fill="#222" fill-opacity="0.75"/>
<rect x="91.86" y="118.85" width="1.10" height="0.6" fill="#222" fill-opacity="0.75"/>
<rect x="86.49" y="120.92" width="1.10" height="0.6" fill="#222" fill-opacity="0.75"/>
<rect x="84.63" y="120.13" width="1.10" height="0.6" fill="#222" fill-opacity="0.75"/>
<rect x="81.98" y="119.20" width="1.10" height="0.6" fill="#222" fill-opacity="0.75"/>
<rect x="89.30" y="118.07" width="1.10" height="0.6" fill="#222" fill-opacity="0.75"/>
<rect x="102.65" y="120.08" width="1.10" height="0.6" fill="#222" fill-opacity="0.75"/>
<rect x="101.39" y="115.82" width="1.10" height="0.6" fill="#222" fill-opacity="0.75"/>
<rect x="82.14" y="119.43" width="1.10" height="0.6" fill="#222" fill-opacity="0.75"/>
<rect x="96.59" y="119.93" width="1.10" height="0.6" fill="#222" fill-opacity="0.75"/>
<rect x="96.17" y="118.40" width="1.10" height="0.6" fill="#222" fill-opacity="0.75"/>
<rect x="96.05" y="120.99" width="1.10" height="0.6" fill="#222" fill-opacity="0.75"/>
<rect x="97.11" y="119.53" width="1.10" height="0.6" fill="#222" fill-opacity="0.75"/>
<rect x="87.95" y="122.99" width="1.10" height="0.6" fill="#222" fill-opacity="0.75"/>
<rect x="95.25" y="119.87" width="1.10" height="0.6" fill="#222" fill-opacity="0.75"/>
<rect x="123.94" y="111.31" width="1.10" height="0.6" fill="#222" fill-opacity="0.75"/>
<rect x="120.24" y="110.38" width="1.10" height="0.6" fill="#222" fill-opacity="0.75"/>
<rect x="105.88" y="110.00" width="1.10" height="0.6" fill="#222" fill-opacity="0.75"/>
<rect x="108.40" y="110.99" width="1.10" height="0.6" fill="#222" fill-opacity="0.75"/>
<rect x="112.93" y="111.95" width="1.10" height="0.6" fill="#222" fill-opacity="0.75"/>
<rect x="105.86" y="109.54" width="1.10" height="0.6" fill="#222" fill-opacity="0.75"/>
<rect x="108.77" y="112.88" width="1.10" height="0.6" fill="#222" fill-opacity="0.75"/>
<rect x="122.43" y="107.91" width="1.10" height="0.6" fill="#222" fill-opacity="0.75"/>
<rect x="110.32" y="109.28" width="1.10" height="0.6" fill="#222" fill-opacity="0.75"/>
<rect x="114.05" y="109.83" width="1.10" height="0.6" fill="#222" fill-opacity="0.75"/>
<rect x="105.07" y="108.97" width="1.10" height="0.6" fill="#222" fill-opacity="0.75"/>
<rect x="122.32" y="110.74" width="1.10" height="0.6" fill="#222" fill-opacity="0.75"/>
<rect x="105.94" y="109.04" width="1.10" height="0.6" fill="#222" fill-opacity="0.75"/>
<rect x="122.73" y="110.06" width="1.10" height="0.6" fill="#222" fill-opacity="0.75"/>
<rect x="110.11" y="110.15" width="1.10" height="0.6" fill="#222" fill-opacity="0.75"/>
<rect x="107.35" y="110.82" width="1.10" height="0.6" fill="#222" fill-opacity="0.75"/>
<rect x="135.01" y="110.81" width="1.10" height="0.6" fill="#222" fill-opacity="0.75"/>
<rect x="133.60" y="114.38" width="1.10" height="0.6" fill="#222" fill-opacity="0.75"/>
<rect x="130.54" y="113.43" width="1.10" height="0.6" fill="#222" fill-opacity="0.75"/>
<rect x="133.58" y="112.69" width="1.10" height="0.6" fill="#222" fill-opacity="0.75"/>
<rect x="127.92" y="110.71" width="1.10" height="0.6" fill="#222" fill-opacity="0.75"/>
<rect x="135.29" y="108.31" width="1.10" height="0.6" fill="#222" fill-opacity="0.75"/>
<rect x="139.35" y="126.31" width="1.10" height="0.6" fill="#222" fill-opacity="0.75"/>
<rect x="139.59" y="125.62" width="1.10" height="0.6" fill="#222" fill-opacity="0.75"/>
<rect x="138.10" y="122.18" width="1.10" height="0.6" fill="#222" fill-opacity="0.75"/>
<rect x="136.03" y="123.79" width="1.10" height="0.6" fill="#222" fill-opacity="0.75"/>
<line x1="63.80" y1="116.20" x2="63.80" y2="125.20" stroke="#fff" stroke-width="0.6" />
<rect x="49.20" y="138.20" width="57.00" height="7.10" fill="#d47474" fill-opacity="0.95"/>
<rect x="106.20" y="132.20" width="19.60" height="6.00" fill="#7272c2" fill-opacity="0.95"/>
<rect x="125.80" y="138.20" width="3.20" height="3.30" fill="#d47474" fill-opacity="0.95"/>
<rect x="129.20" y="134.30" width="5.20" height="3.90" fill="#7272c2" fill-opacity="0.95"/>
<rect x="134.40" y="138.20" width="7.10" height="7.50" fill="#d47474" fill-opacity="0.95"/>
<rect x="77.78" y="142.80" width="1.20" height="0.6" fill="#333" fill-opacity="0.8"/>
<rect x="101.50" y="147.59" width="1.20" height="0.6" fill="#333" fill-opacity="0.8"/>
<rect x="51.09" y="147.68" width="1.20" height="0.6" fill="#333" fill-opacity="0.8"/>
<rect x="88.66" y="145.59" width="1.20" height="0.6" fill="#333" fill-opacity="0.8"/>
<rect x="79.74" y="143.39" width="1.20" height="0.6" fill="#333" fill-opacity="0.8"/>
<rect x="103.86" y="143.21" width="1.20" height="0.6" fill="#333" fill-opacity="0.8"/>
<rect x="62.83" y="142.90" width="1.20" height="0.6" fill="#333" fill-opacity="0.8"/>
<rect x="51.98" y="143.58" width="1.20" height="0.6" fill="#333" fill-opacity="0.8"/>
<rect x="60.08" y="146.77" width="1.20" height="0.6" fill="#333" fill-opacity="0.8"/>
<rect x="66.30" y="147.25" width="1.20" height="0.6" fill="#333" fill-opacity="0.8"/>
<rect x="86.81" y="147.61" width="1.20" height="0.6" fill="#333" fill-opacity="0.8"/>
<rect x="62.16" y="145.14" width="1.20" height="0.6" fill="#333" fill-opacity="0.8"/>
<rect x="73.97" y="147.64" width="1.20" height="0.6" fill="#333" fill-opacity="0.8"/>
<rect x="101.94" y="143.90" width="1.20" height="0.6" fill="#333" fill-opacity="0.8"/>
<rect x="99.03" y="146.49" width="1.20" height="0.6" fill="#333" fill-opacity="0.8"/>
<rect x="56.69" y="143.17" width="1.20" height="0.6" fill="#333" fill-opacity="0.8"/>
<rect x="95.08" y="144.23" width="1.20" height="0.6" fill="#333" fill-opacity="0.8"/>
<rect x="79.85" y="145.09" width="1.20" height="0.6" fill="#333" fill-opacity="0.8"/>
<rect x="86.59" y="143.66" width="1.20" height="0.6" fill="#333" fill-opacity="0.8"/>
<rect x="82.72" y="141.36" width="1.20" height="0.6" fill="#333" fill-opacity="0.8"/>
<rect x="95.98" y="145.91" width="1.20" height="0.6" fill="#333" fill-opacity="0.8"/>
<rect x="55.13" y="144.49" width="1.20" height="0.6" fill="#333" fill-opacity="0.8"/>
<rect x="60.37" y="147.02" width="1.20" height="0.6" fill="#333" fill-opacity="0.8"/>
<rect x="52.04" y="144.72" width="1.20" height="0.6" fill="#333" fill-opacity="0.8"/>
<rect x="88.59" y="146.43" width="1.20" height="0.6" fill="#333" fill-opacity="0.8"/>
<rect x="74.14" y="146.48" width="1.20" height="0.6" fill="#333" fill-opacity="0.8"/>
<rect x="75.31" y="146.27" width="1.20" height="0.6" fill="#333" fill-opacity="0.8"/>
<rect x="69.29" y="145.42" width="1.20" height="0.6" fill="#333" fill-opacity="0.8"/>
<rect x="105.81" y="132.64" width="1.20" height="0.6" fill="#333" fill-opacity="0.8"/>
<rect x="125.05" y="131.90" width="1.20" height="0.6" fill="#333" fill-opacity="0.8"/>
<rect x="119.66" y="130.98" width="1.20" height="0.6" fill="#333" fill-opacity="0.8"/>
<rect x="124.81" y="130.93" width="1.20" height="0.6" fill="#333" fill-opacity="0.8"/>
<rect x="115.18" y="131.49" width="1.20" height="0.6" fill="#333" fill-opacity="0.8"/>
<rect x="114.11" y="132.92" width="1.20" height="0.6" fill="#333" fill-opacity="0.8"/>
<rect x="105.76" y="134.46" width="1.20" height="0.6" fill="#333" fill-opacity="0.8"/>
<rect x="123.62" y="130.00" width="1.20" height="0.6" fill="#333" fill-opacity="0.8"/>
<rect x="123.93" y="129.46" width="1.20" height="0.6" fill="#333" fill-opacity="0.8"/>
<rect x="127.29" y="141.19" width="1.20" height="0.6" fill="#333" fill-opacity="0.8"/>
<rect x="129.32" y="135.65" width="1.20" height="0.6" fill="#333" fill-opacity="0.8"/>
<rect x="128.74" y="134.64" width="1.20" height="0.6" fill="#333" fill-opacity="0.8"/>
<rect x="135.90" y="141.24" width="1.20" height="0.6" fill="#333" fill-opacity="0.8"/>
<rect x="135.12" y="142.65" width="1.20" height="0.6" fill="#333" fill-opacity="0.8"/>
<rect x="140.38" y="142.16" width="1.20" height="0.6" fill="#333" fill-opacity="0.8"/>
<rect x="49.20" y="160.20" width="55.80" height="6.70" fill="#d47474" fill-opacity="0.95"/>
<rect x="105.00" y="156.30" width="31.00" height="3.90" fill="#7272c2" fill-opacity="0.95"/>
<rect x="136.30" y="160.20" width="5.20" height="9.00" fill="#d47474" fill-opacity="0.95"/>
<rect x="57.90" y="167.49" width="1.40" height="0.6" fill="#333" fill-opacity="0.8"/>
<rect x="89.92" y="162.55" width="1.40" height="0.6" fill="#333" fill-opacity="0.8"/>
<rect x="66.73" y="168.24" width="1.40" height="0.6" fill="#333" fill-opacity="0.8"/>
<rect x="66.36" y="170.37" width="1.40" height="0.6" fill="#333" fill-opacity="0.8"/>
<rect x="69.06" y="164.60" width="1.40" height="0.6" fill="#333" fill-opacity="0.8"/>
<rect x="94.89" y="165.93" width="1.40" height="0.6" fill="#333" fill-opacity="0.8"/>
<rect x="61.86" y="169.35" width="1.40" height="0.6" fill="#333" fill-opacity="0.8"/>
<rect x="83.55" y="167.33" width="1.40" height="0.6" fill="#333" fill-opacity="0.8"/>
<rect x="94.24" y="165.28" width="1.40" height="0.6" fill="#333" fill-opacity="0.8"/>
<rect x="101.23" y="162.01" width="1.40" height="0.6" fill="#333" fill-opacity="0.8"/>
<rect x="76.09" y="165.31" width="1.40" height="0.6" fill="#333" fill-opacity="0.8"/>
<rect x="65.22" y="166.60" width="1.40" height="0.6" fill="#333" fill-opacity="0.8"/>
<rect x="80.93" y="169.54" width="1.40" height="0.6" fill="#333" fill-opacity="0.8"/>
<rect x="57.63" y="168.22" width="1.40" height="0.6" fill="#333" fill-opacity="0.8"/>
<rect x="73.23" y="167.54" width="1.40" height="0.6" fill="#333" fill-opacity="0.8"/>
<rect x="50.73" y="166.42" width="1.40" height="0.6" fill="#333" fill-opacity="0.8"/>
<rect x="73.02" y="167.88" width="1.40" height="0.6" fill="#333" fill-opacity="0.8"/>
<rect x="48.66" y="169.88" width="1.40" height="0.6" fill="#333" fill-opacity="0.8"/>
<rect x="95.42" y="168.98" width="1.40" height="0.6" fill="#333" fill-opacity="0.8"/>
<rect x="117.49" y="152.95" width="1.40" height="0.6" fill="#333" fill-opacity="0.8"/>
<rect x="113.08" y="154.61" width="1.40" height="0.6" fill="#333" fill-opacity="0.8"/>
<rect x="117.36" y="153.75" width="1.40" height="0.6" fill="#333" fill-opacity="0.8"/>
<rect x="114.80" y="152.98" width="1.40" height="0.6" fill="#333" fill-opacity="0.8"/>
<rect x="129.91" y="157.22" width="1.40" height="0.6" fill="#333" fill-opacity="0.8"/>
<rect x="132.32" y="156.94" width="1.40" height="0.6" fill="#333" fill-opacity="0.8"/>
<rect x="118.04" y="157.58" width="1.40" height="0.6" fill="#333" fill-opacity="0.8"/>
<rect x="121.76" y="155.16" width="1.40" height="0.6" fill="#333" fill-opacity="0.8"/>
<rect x="106.94" y="157.18" width="1.40" height="0.6" fill="#333" fill-opacity="0.8"/>
<rect x="114.33" y="150.32" width="1.40" height="0.6" fill="#333" fill-opacity="0.8"/>
<rect x="140.33" y="170.34" width="1.40" height="0.6" fill="#333" fill-opacity="0.8"/>
<rect x="49.20" y="182.00" width="55.80" height="5.80" fill="#d47474" fill-opacity="0.95"/>
<rect x="105.00" y="177.80" width="28.00" height="4.20" fill="#7272c2" fill-opacity="0.95"/>
<rect x="133.00" y="182.00" width="8.50" height="8.80" fill="#d47474" fill-opacity="0.95"/>
<line x1="50.00" y1="184.50" x2="53.00" y2="184.50" stroke="#555" stroke-width="0.8" />
<line x1="55.00" y1="185.60" x2="58.00" y2="185.60" stroke="#555" stroke-width="0.8" />
<line x1="60.00" y1="185.00" x2="62.00" y2="185.00" stroke="#555" stroke-width="0.8" />
<line x1="62.00" y1="187.20" x2="65.00" y2="187.20" stroke="#555" stroke-width="0.8" />
<line x1="66.00" y1="185.80" x2="68.00" y2="185.80" stroke="#555" stroke-width="0.8" />
<line x1="70.00" y1="187.50" x2="73.00" y2="187.50" stroke="#555" stroke-width="0.8" />
<line x1="74.00" y1="188.50" x2="77.00" y2="188.50" stroke="#555" stroke-width="0.8" />
<line x1="78.00" y1="186.00" x2="81.00" y2="186.00" stroke="#555" stroke-width="0.8" />
<line x1="81.00" y1="184.30" x2="84.00" y2="184.30" stroke="#555" stroke-width="0.8" />
<line x1="84.00" y1="181.50" x2="88.00" y2="181.50" stroke="#555" stroke-width="0.8" />
<line x1="90.00" y1="183.50" x2="93.00" y2="183.50" stroke="#555" stroke-width="0.8" />
<line x1="100.00" y1="187.80" x2="104.00" y2="187.80" stroke="#555" stroke-width="0.8" />
<line x1="51.00" y1="190.50" x2="54.00" y2="190.50" stroke="#555" stroke-width="0.8" />
<line x1="60.00" y1="191.20" x2="63.00" y2="191.20" stroke="#555" stroke-width="0.8" />
<line x1="76.00" y1="192.00" x2="78.00" y2="192.00" stroke="#555" stroke-width="0.8" />
<line x1="106.00" y1="178.00" x2="109.00" y2="178.00" stroke="#555" stroke-width="0.8" />
<line x1="111.00" y1="177.50" x2="114.00" y2="177.50" stroke="#555" stroke-width="0.8" />
<line x1="119.00" y1="177.20" x2="123.00" y2="177.20" stroke="#555" stroke-width="0.8" />
<line x1="127.00" y1="177.80" x2="131.00" y2="177.80" stroke="#555" stroke-width="0.8" />
<line x1="105.00" y1="195.60" x2="109.00" y2="195.60" stroke="#555" stroke-width="0.8" />
<line x1="108.00" y1="173.50" x2="111.00" y2="173.50" stroke="#555" stroke-width="0.8" />
<line x1="134.00" y1="186.00" x2="137.00" y2="186.00" stroke="#555" stroke-width="0.8" />
<line x1="140.00" y1="191.50" x2="141.50" y2="191.50" stroke="#555" stroke-width="0.8" />
<rect x="49.20" y="203.20" width="55.80" height="7.80" fill="#d47474" fill-opacity="0.95"/>
<line x1="105.00" y1="203.20" x2="141.50" y2="203.20" stroke="#6a6ad0" stroke-width="1.0" />
<line x1="49.50" y1="208.10" x2="54.50" y2="208.10" stroke="#777" stroke-width="0.8" />
<line x1="56.00" y1="210.50" x2="60.00" y2="210.50" stroke="#777" stroke-width="0.8" />
<line x1="60.50" y1="207.90" x2="67.00" y2="207.90" stroke="#777" stroke-width="0.8" />
<line x1="65.00" y1="212.50" x2="71.00" y2="212.50" stroke="#777" stroke-width="0.8" />
<line x1="70.00" y1="214.20" x2="76.00" y2="214.20" stroke="#777" stroke-width="0.8" />
<line x1="99.00" y1="210.50" x2="104.00" y2="210.50" stroke="#777" stroke-width="0.8" />
<line x1="105.00" y1="195.60" x2="111.00" y2="195.60" stroke="#777" stroke-width="0.8" />
<line x1="111.00" y1="201.00" x2="118.00" y2="201.00" stroke="#777" stroke-width="0.8" />
<line x1="117.00" y1="198.20" x2="123.00" y2="198.20" stroke="#777" stroke-width="0.8" />
<line x1="130.00" y1="202.60" x2="137.00" y2="202.60" stroke="#777" stroke-width="0.8" />
<line x1="105.00" y1="216.50" x2="121.00" y2="216.50" stroke="#777" stroke-width="0.8" />
<line x1="137.00" y1="214.20" x2="141.00" y2="214.20" stroke="#777" stroke-width="0.8" />
<line x1="49.20" y1="225.20" x2="141.50" y2="225.20" stroke="#7070cc" stroke-width="1.1" />
<line x1="49.20" y1="225.20" x2="58.00" y2="225.20" stroke="#666" stroke-width="0.9" />
<line x1="105.00" y1="216.80" x2="120.00" y2="216.80" stroke="#aaa" stroke-width="0.9" />
<line x1="120.50" y1="221.30" x2="136.00" y2="221.30" stroke="#888" stroke-width="0.9" />
<line x1="137.00" y1="230.40" x2="141.00" y2="230.40" stroke="#888" stroke-width="0.9" />
<line x1="57.50" y1="235.40" x2="74.00" y2="235.40" stroke="#888" stroke-width="0.9" />
<line x1="105.00" y1="239.40" x2="136.00" y2="239.40" stroke="#999" stroke-width="0.9" />
<line x1="49.20" y1="247.20" x2="141.50" y2="247.20" stroke="#7070cc" stroke-width="1.1" />
<line x1="139.50" y1="247.20" x2="141.50" y2="247.20" stroke="#666" stroke-width="1.1" />
<line x1="49.20" y1="251.30" x2="73.50" y2="251.30" stroke="#999" stroke-width="0.9" />
<rect x="49.20" y="259.30" width="6.40" height="8.20" fill="#a8a8a8" />
<rect x="55.60" y="259.30" width="8.60" height="8.20" fill="#ececec" />
<rect x="64.20" y="259.30" width="11.60" height="8.20" fill="#888888" />
<rect x="75.80" y="259.30" width="12.50" height="8.20" fill="#ececec" />
<rect x="88.30" y="259.30" width="3.40" height="8.20" fill="#8e2b2b" />
<rect x="91.70" y="259.30" width="0.90" height="8.20" fill="#5a2020" />
<rect x="92.60" y="259.30" width="3.40" height="8.20" fill="#8e2b2b" />
<rect x="96.00" y="259.30" width="12.50" height="8.20" fill="#ececec" />
<rect x="108.50" y="259.30" width="13.50" height="8.20" fill="#9c9c9c" />
<rect x="122.00" y="259.30" width="1.30" height="8.20" fill="#555" />
<rect x="123.30" y="259.30" width="4.40" height="8.20" fill="#cfcfcf" />
<rect x="127.70" y="259.30" width="7.70" height="8.20" fill="#ececec" />
<rect x="135.40" y="259.30" width="5.80" height="8.20" fill="#bbbbbb" />
<rect x="49.2" y="259.3" width="92" height="8.20" fill="none" stroke="#777" stroke-width="0.5"/>
<line x1="49.20" y1="268.60" x2="141.50" y2="268.60" stroke="#000" stroke-width="0.9" />
<line x1="52.70" y1="268.60" x2="52.70" y2="271.00" stroke="#000" stroke-width="0.9" />
<line x1="62.90" y1="268.60" x2="62.90" y2="271.00" stroke="#000" stroke-width="0.9" />
<line x1="73.50" y1="268.60" x2="73.50" y2="271.00" stroke="#000" stroke-width="0.9" />
<line x1="84.00" y1="268.60" x2="84.00" y2="271.00" stroke="#000" stroke-width="0.9" />
<line x1="94.60" y1="268.60" x2="94.60" y2="271.00" stroke="#000" stroke-width="0.9" />
<line x1="105.00" y1="268.60" x2="105.00" y2="271.00" stroke="#000" stroke-width="0.9" />
<line x1="115.60" y1="268.60" x2="115.60" y2="271.00" stroke="#000" stroke-width="0.9" />
<line x1="125.80" y1="268.60" x2="125.80" y2="271.00" stroke="#000" stroke-width="0.9" />
<line x1="136.50" y1="268.60" x2="136.50" y2="271.00" stroke="#000" stroke-width="0.9" />
<text x="52.70" y="280.60" font-size="6.6" text-anchor="middle" font-weight="normal" fill="#000"  stroke="#000" stroke-width="0.14">5</text>
<text x="63.20" y="280.60" font-size="6.6" text-anchor="middle" font-weight="normal" fill="#000"  stroke="#000" stroke-width="0.14">10</text>
<text x="84.00" y="280.60" font-size="6.6" text-anchor="middle" font-weight="normal" fill="#000"  stroke="#000" stroke-width="0.14">20</text>
<text x="105.00" y="280.60" font-size="6.6" text-anchor="middle" font-weight="normal" fill="#000"  stroke="#000" stroke-width="0.14">30</text>
<text x="125.80" y="280.60" font-size="6.6" text-anchor="middle" font-weight="normal" fill="#000"  stroke="#000" stroke-width="0.14">40</text>
<text x="28.20" y="270.60" font-size="6.6" text-anchor="middle" font-weight="normal" fill="#333"  stroke="#333" stroke-width="0.14">Cytobands</text>
<text x="157.30" y="17.20" font-size="11.8" text-anchor="start" font-weight="bold" fill="#000" >B</text>
<text transform="translate(163.81,55.20) rotate(-90)" x="0" y="0" font-size="8.3" text-anchor="middle" font-weight="bold" fill="#000" textLength="40.5" lengthAdjust="spacingAndGlyphs">Segments</text>
<text transform="translate(175.92,55.90) rotate(-90)" x="0" y="0" font-size="8.2" text-anchor="middle" font-weight="normal" fill="#000" textLength="50.2" lengthAdjust="spacingAndGlyphs" stroke="#000" stroke-width="0.12">Wider than minSize</text>
<text transform="translate(187.22,55.70) rotate(-90)" x="0" y="0" font-size="8.2" text-anchor="middle" font-weight="normal" fill="#000" textLength="52.6" lengthAdjust="spacingAndGlyphs" stroke="#000" stroke-width="0.12">and thus considered</text>
<line x1="208.80" y1="35.40" x2="208.80" y2="75.80" stroke="#000" stroke-width="1.0" />
<line x1="205.80" y1="38.50" x2="208.80" y2="38.50" stroke="#000" stroke-width="1.0" />
<text x="203.60" y="41.30" font-size="6.3" text-anchor="end" font-weight="normal" fill="#222"  stroke="#222" stroke-width="0.14">600</text>
<line x1="205.80" y1="44.20" x2="208.80" y2="44.20" stroke="#000" stroke-width="1.0" />
<text x="203.60" y="47.00" font-size="6.3" text-anchor="end" font-weight="normal" fill="#222"  stroke="#222" stroke-width="0.14">500</text>
<line x1="205.80" y1="50.00" x2="208.80" y2="50.00" stroke="#000" stroke-width="1.0" />
<text x="203.60" y="52.80" font-size="6.3" text-anchor="end" font-weight="normal" fill="#222"  stroke="#222" stroke-width="0.14">400</text>
<line x1="205.80" y1="55.70" x2="208.80" y2="55.70" stroke="#000" stroke-width="1.0" />
<text x="203.60" y="58.50" font-size="6.3" text-anchor="end" font-weight="normal" fill="#222"  stroke="#222" stroke-width="0.14">300</text>
<line x1="205.80" y1="61.50" x2="208.80" y2="61.50" stroke="#000" stroke-width="1.0" />
<text x="203.60" y="64.30" font-size="6.3" text-anchor="end" font-weight="normal" fill="#222"  stroke="#222" stroke-width="0.14">200</text>
<line x1="205.80" y1="67.20" x2="208.80" y2="67.20" stroke="#000" stroke-width="1.0" />
<text x="203.60" y="70.00" font-size="6.3" text-anchor="end" font-weight="normal" fill="#222"  stroke="#222" stroke-width="0.14">100</text>
<line x1="205.80" y1="73.10" x2="208.80" y2="73.10" stroke="#000" stroke-width="1.0" />
<text x="203.60" y="75.90" font-size="6.3" text-anchor="end" font-weight="normal" fill="#222"  stroke="#222" stroke-width="0.14">0</text>
<rect x="211.45" y="35.10" width="3.10" height="37.80" fill="#d67676" />
<rect x="211.45" y="59.00" width="3.10" height="13.90" fill="#7676c0" />
<rect x="216.74" y="36.00" width="3.10" height="36.90" fill="#d67676" />
<rect x="216.74" y="59.20" width="3.10" height="13.70" fill="#7676c0" />
<rect x="222.03" y="37.80" width="3.10" height="35.10" fill="#d67676" />
<rect x="222.03" y="60.10" width="3.10" height="12.80" fill="#7676c0" />
<rect x="227.32" y="39.20" width="3.10" height="33.70" fill="#d67676" />
<rect x="227.32" y="60.50" width="3.10" height="12.40" fill="#7676c0" />
<rect x="232.61" y="40.20" width="3.10" height="32.70" fill="#d67676" />
<rect x="232.61" y="60.80" width="3.10" height="12.10" fill="#7676c0" />
<rect x="237.90" y="41.00" width="3.10" height="31.90" fill="#d67676" />
<rect x="237.90" y="61.10" width="3.10" height="11.80" fill="#7676c0" />
<rect x="243.19" y="41.90" width="3.10" height="31.00" fill="#d67676" />
<rect x="243.19" y="61.30" width="3.10" height="11.60" fill="#7676c0" />
<rect x="248.48" y="42.30" width="3.10" height="30.60" fill="#d67676" />
<rect x="248.48" y="61.40" width="3.10" height="11.50" fill="#7676c0" />
<rect x="253.77" y="43.30" width="3.10" height="29.60" fill="#d67676" />
<rect x="253.77" y="61.40" width="3.10" height="11.50" fill="#7676c0" />
<rect x="259.06" y="46.20" width="3.10" height="26.70" fill="#d67676" />
<rect x="259.06" y="62.30" width="3.10" height="10.60" fill="#7676c0" />
<rect x="264.35" y="47.80" width="3.10" height="25.10" fill="#d67676" />
<rect x="264.35" y="62.90" width="3.10" height="10.00" fill="#7676c0" />
<rect x="269.64" y="49.00" width="3.10" height="23.90" fill="#d67676" />
<rect x="269.64" y="63.20" width="3.10" height="9.70" fill="#7676c0" />
<rect x="274.93" y="50.30" width="3.10" height="22.60" fill="#d67676" />
<rect x="274.93" y="63.80" width="3.10" height="9.10" fill="#7676c0" />
<rect x="280.22" y="51.40" width="3.10" height="21.50" fill="#d67676" />
<rect x="280.22" y="64.20" width="3.10" height="8.70" fill="#7676c0" />
<rect x="285.51" y="52.40" width="3.10" height="20.50" fill="#d67676" />
<rect x="285.51" y="64.50" width="3.10" height="8.40" fill="#7676c0" />
<rect x="290.80" y="53.40" width="3.10" height="19.50" fill="#d67676" />
<rect x="290.80" y="64.80" width="3.10" height="8.10" fill="#7676c0" />
<rect x="296.09" y="54.30" width="3.10" height="18.60" fill="#d67676" />
<rect x="296.09" y="64.90" width="3.10" height="8.00" fill="#7676c0" />
<rect x="301.38" y="54.60" width="3.10" height="18.30" fill="#d67676" />
<rect x="301.38" y="65.00" width="3.10" height="7.90" fill="#7676c0" />
<rect x="306.67" y="55.10" width="3.10" height="17.80" fill="#d67676" />
<rect x="306.67" y="65.00" width="3.10" height="7.90" fill="#7676c0" />
<rect x="311.96" y="56.10" width="3.10" height="16.80" fill="#d67676" />
<rect x="311.96" y="65.20" width="3.10" height="7.70" fill="#7676c0" />
<rect x="317.25" y="56.70" width="3.10" height="16.20" fill="#d67676" />
<rect x="317.25" y="65.40" width="3.10" height="7.50" fill="#7676c0" />
<rect x="322.54" y="57.10" width="3.10" height="15.80" fill="#d67676" />
<rect x="322.54" y="65.40" width="3.10" height="7.50" fill="#7676c0" />
<rect x="286.00" y="20.50" width="4.60" height="4.30" fill="#7676c0" />
<text x="294.00" y="24.90" font-size="5.15" text-anchor="start" font-weight="normal" fill="#333"  stroke="#333" stroke-width="0.14">copy gains</text>
<rect x="286.00" y="30.50" width="4.60" height="4.30" fill="#d67676" />
<text x="294.00" y="34.90" font-size="5.15" text-anchor="start" font-weight="normal" fill="#333"  stroke="#333" stroke-width="0.14">copy losses</text>
<text transform="translate(164.21,117.00) rotate(-90)" x="0" y="0" font-size="8.3" text-anchor="middle" font-weight="bold" fill="#000" textLength="54.0" lengthAdjust="spacingAndGlyphs">Coverage (%)</text>
<text transform="translate(176.92,118.00) rotate(-90)" x="0" y="0" font-size="8.2" text-anchor="middle" font-weight="normal" fill="#000" textLength="52.2" lengthAdjust="spacingAndGlyphs" stroke="#000" stroke-width="0.12">Proportion of altered</text>
<text transform="translate(185.62,118.00) rotate(-90)" x="0" y="0" font-size="8.2" text-anchor="middle" font-weight="normal" fill="#000" textLength="52.2" lengthAdjust="spacingAndGlyphs" stroke="#000" stroke-width="0.12">bins still considered</text>
<line x1="208.60" y1="95.00" x2="208.60" y2="139.20" stroke="#000" stroke-width="1.0" />
<line x1="205.60" y1="98.00" x2="208.60" y2="98.00" stroke="#000" stroke-width="1.0" />
<text x="203.40" y="100.80" font-size="6.3" text-anchor="end" font-weight="normal" fill="#222"  stroke="#222" stroke-width="0.14">100</text>
<line x1="205.60" y1="117.40" x2="208.60" y2="117.40" stroke="#000" stroke-width="1.0" />
<line x1="205.60" y1="135.90" x2="208.60" y2="135.90" stroke="#000" stroke-width="1.0" />
<text x="203.40" y="138.70" font-size="6.3" text-anchor="end" font-weight="normal" fill="#222"  stroke="#222" stroke-width="0.14">90</text>
<text x="203.40" y="106.10" font-size="6.3" text-anchor="end" font-weight="normal" fill="#33a033"  stroke="#33a033" stroke-width="0.14">99.6</text>
<polyline points="204.00,103.80 207.40,99.90" fill="none" stroke="#33a033" stroke-width="0.6"/>
<text x="203.40" y="112.10" font-size="6.3" text-anchor="end" font-weight="normal" fill="#33a033"  stroke="#33a033" stroke-width="0.14">96.2</text>
<polyline points="204.00,109.80 207.40,112.60" fill="none" stroke="#33a033" stroke-width="0.6"/>
<text x="203.40" y="118.00" font-size="6.3" text-anchor="end" font-weight="normal" fill="#33a033"  stroke="#33a033" stroke-width="0.14">91.9</text>
<polyline points="204.00,115.70 207.40,128.40" fill="none" stroke="#33a033" stroke-width="0.6"/>
<polyline points="218.29,98.20 223.58,98.70 228.87,99.00 234.16,99.40 239.45,100.00 244.74,100.40 250.03,101.20 255.32,101.90 260.61,104.40 265.90,106.70 271.19,109.20 276.48,112.10 281.77,115.00 287.06,118.20 292.35,120.90 297.64,123.80 302.93,126.30 308.22,128.40 313.51,133.60 318.80,136.70 324.09,139.10" fill="none" stroke="#111" stroke-width="0.9" />
<polygon points="216.94,99.12 219.64,99.12 218.29,96.69" fill="none" stroke="#111" stroke-width="0.6"/>
<polygon points="222.23,99.62 224.93,99.62 223.58,97.19" fill="none" stroke="#111" stroke-width="0.6"/>
<polygon points="227.52,99.92 230.22,99.92 228.87,97.48" fill="none" stroke="#111" stroke-width="0.6"/>
<polygon points="238.10,100.92 240.80,100.92 239.45,98.48" fill="none" stroke="#111" stroke-width="0.6"/>
<polygon points="243.39,101.32 246.09,101.32 244.74,98.89" fill="none" stroke="#111" stroke-width="0.6"/>
<polygon points="248.68,102.12 251.38,102.12 250.03,99.69" fill="none" stroke="#111" stroke-width="0.6"/>
<polygon points="253.97,102.82 256.67,102.82 255.32,100.39" fill="none" stroke="#111" stroke-width="0.6"/>
<polygon points="259.26,105.32 261.96,105.32 260.61,102.89" fill="none" stroke="#111" stroke-width="0.6"/>
<polygon points="264.55,107.62 267.25,107.62 265.90,105.19" fill="none" stroke="#111" stroke-width="0.6"/>
<polygon points="269.84,110.12 272.54,110.12 271.19,107.69" fill="none" stroke="#111" stroke-width="0.6"/>
<polygon points="280.42,115.92 283.12,115.92 281.77,113.48" fill="none" stroke="#111" stroke-width="0.6"/>
<polygon points="285.71,119.12 288.41,119.12 287.06,116.69" fill="none" stroke="#111" stroke-width="0.6"/>
<polygon points="291.00,121.82 293.70,121.82 292.35,119.39" fill="none" stroke="#111" stroke-width="0.6"/>
<polygon points="296.29,124.72 298.99,124.72 297.64,122.28" fill="none" stroke="#111" stroke-width="0.6"/>
<polygon points="301.58,127.22 304.28,127.22 302.93,124.78" fill="none" stroke="#111" stroke-width="0.6"/>
<polygon points="312.16,134.51 314.86,134.51 313.51,132.08" fill="none" stroke="#111" stroke-width="0.6"/>
<polygon points="317.45,137.61 320.15,137.61 318.80,135.18" fill="none" stroke="#111" stroke-width="0.6"/>
<polygon points="322.74,140.01 325.44,140.01 324.09,137.58" fill="none" stroke="#111" stroke-width="0.6"/>
<polygon points="231.86,100.97 236.46,100.97 234.16,96.83" fill="#fff" stroke="#33a033" stroke-width="0.8"/>
<polygon points="274.18,113.67 278.78,113.67 276.48,109.53" fill="#fff" stroke="#33a033" stroke-width="0.8"/>
<polygon points="305.92,129.97 310.52,129.97 308.22,125.83" fill="#fff" stroke="#33a033" stroke-width="0.8"/>
<text transform="translate(164.21,188.00) rotate(-90)" x="0" y="0" font-size="8.3" text-anchor="middle" font-weight="bold" fill="#000" textLength="53.1" lengthAdjust="spacingAndGlyphs">Precision (%)</text>
<text transform="translate(176.92,188.50) rotate(-90)" x="0" y="0" font-size="8.2" text-anchor="middle" font-weight="normal" fill="#000" textLength="63.3" lengthAdjust="spacingAndGlyphs" stroke="#000" stroke-width="0.12">Segments in diluted data</text>
<text transform="translate(185.62,186.90) rotate(-90)" x="0" y="0" font-size="8.2" text-anchor="middle" font-weight="normal" fill="#000" textLength="53.4" lengthAdjust="spacingAndGlyphs" stroke="#000" stroke-width="0.12">matching real one(s)</text>
<polygon points="218.40,168.20 222.00,163.70 226.60,160.00 233.90,158.20 248.50,157.70 259.40,157.30 272.00,157.00 296.00,156.00 302.50,156.00 315.00,155.00 319.00,154.40 325.00,154.40 325.00,161.00 310.00,163.00 290.00,164.50 272.00,165.50 259.40,166.40 248.50,168.20 241.20,169.20 233.90,167.30 228.40,169.20 224.80,177.40 221.10,192.00 218.90,204.70" fill="#000" fill-opacity="0.125"/>
<polygon points="255.10,210.60 255.90,197.20 258.40,185.40 261.80,175.20 266.00,167.60 270.20,164.30 277.00,162.60 290.00,161.70 310.00,160.00 325.00,158.40 325.00,162.50 315.00,166.30 302.50,168.10 290.00,170.20 278.70,171.90 273.60,175.20 268.50,180.30 263.50,188.70 259.30,200.50 256.70,209.00" fill="#000" fill-opacity="0.125"/>
<polyline points="255.32,198.50 260.61,184.80 265.90,175.30 271.19,170.00 276.48,166.60 281.77,165.00 287.06,164.70 292.35,164.30 297.64,164.80 302.93,164.30 308.22,162.30 313.51,161.20 318.80,160.00 324.09,158.10" fill="none" stroke="#1a1a1a" stroke-width="0.85" stroke-dasharray="0.7,0.8"/>
<circle cx="255.32" cy="198.50" r="0.95" fill="#fff" stroke="#111" stroke-width="0.5"/>
<circle cx="260.61" cy="184.80" r="0.95" fill="#fff" stroke="#111" stroke-width="0.5"/>
<circle cx="265.90" cy="175.30" r="0.95" fill="#fff" stroke="#111" stroke-width="0.5"/>
<circle cx="271.19" cy="170.00" r="0.95" fill="#fff" stroke="#111" stroke-width="0.5"/>
<circle cx="281.77" cy="165.00" r="0.95" fill="#fff" stroke="#111" stroke-width="0.5"/>
<circle cx="287.06" cy="164.70" r="0.95" fill="#fff" stroke="#111" stroke-width="0.5"/>
<circle cx="292.35" cy="164.30" r="0.95" fill="#fff" stroke="#111" stroke-width="0.5"/>
<circle cx="297.64" cy="164.80" r="0.95" fill="#fff" stroke="#111" stroke-width="0.5"/>
<circle cx="302.93" cy="164.30" r="0.95" fill="#fff" stroke="#111" stroke-width="0.5"/>
<circle cx="313.51" cy="161.20" r="0.95" fill="#fff" stroke="#111" stroke-width="0.5"/>
<circle cx="318.80" cy="160.00" r="0.95" fill="#fff" stroke="#111" stroke-width="0.5"/>
<circle cx="324.09" cy="158.10" r="0.95" fill="#fff" stroke="#111" stroke-width="0.5"/>
<polyline points="218.29,183.90 223.58,168.90 228.87,163.10 234.16,162.50 239.45,163.80 244.74,162.80 250.03,163.50 255.32,162.50 260.61,160.10 265.90,159.70 271.19,160.50 276.48,160.20 281.77,160.20 287.06,160.00 292.35,160.00 297.64,159.70 302.93,158.10 308.22,158.10 313.51,158.10 318.80,156.10 324.09,156.10" fill="none" stroke="#111" stroke-width="0.9" />
<circle cx="218.29" cy="183.90" r="1.05" fill="#111"/>
<circle cx="223.58" cy="168.90" r="1.05" fill="#111"/>
<circle cx="228.87" cy="163.10" r="1.05" fill="#111"/>
<circle cx="239.45" cy="163.80" r="1.05" fill="#111"/>
<circle cx="244.74" cy="162.80" r="1.05" fill="#111"/>
<circle cx="250.03" cy="163.50" r="1.05" fill="#111"/>
<circle cx="255.32" cy="162.50" r="1.05" fill="#111"/>
<circle cx="260.61" cy="160.10" r="1.05" fill="#111"/>
<circle cx="265.90" cy="159.70" r="1.05" fill="#111"/>
<circle cx="271.19" cy="160.50" r="1.05" fill="#111"/>
<circle cx="276.48" cy="160.20" r="1.05" fill="#111"/>
<circle cx="281.77" cy="160.20" r="1.05" fill="#111"/>
<circle cx="287.06" cy="160.00" r="1.05" fill="#111"/>
<circle cx="292.35" cy="160.00" r="1.05" fill="#111"/>
<circle cx="297.64" cy="159.70" r="1.05" fill="#111"/>
<circle cx="302.93" cy="158.10" r="1.05" fill="#111"/>
<circle cx="308.22" cy="158.10" r="1.05" fill="#111"/>
<circle cx="313.51" cy="158.10" r="1.05" fill="#111"/>
<circle cx="318.80" cy="156.10" r="1.05" fill="#111"/>
<circle cx="324.09" cy="156.10" r="1.05" fill="#111"/>
<rect x="231.86" y="160.20" width="4.60" height="4.60" fill="#fff" fill-opacity="0.7"/>
<rect x="232.26" y="160.60" width="3.80" height="3.80" fill="#33a033" />
<rect x="274.53" y="164.65" width="3.9" height="3.9" fill="#fff" fill-opacity="0.8"/>
<rect x="275.03" y="165.15" width="2.9" height="2.9" fill="#fff" stroke="#33a033" stroke-width="0.8"/>
<rect x="306.27" y="160.35" width="3.9" height="3.9" fill="#fff" fill-opacity="0.8"/>
<rect x="306.77" y="160.85" width="2.9" height="2.9" fill="#fff" stroke="#33a033" stroke-width="0.8"/>
<line x1="208.60" y1="153.50" x2="208.60" y2="222.40" stroke="#000" stroke-width="1.0" />
<line x1="205.60" y1="156.10" x2="208.60" y2="156.10" stroke="#000" stroke-width="1.0" />
<text x="203.40" y="158.90" font-size="6.3" text-anchor="end" font-weight="normal" fill="#222"  stroke="#222" stroke-width="0.14">100</text>
<line x1="205.60" y1="172.00" x2="208.60" y2="172.00" stroke="#000" stroke-width="1.0" />
<line x1="205.60" y1="187.90" x2="208.60" y2="187.90" stroke="#000" stroke-width="1.0" />
<text x="203.40" y="190.70" font-size="6.3" text-anchor="end" font-weight="normal" fill="#222"  stroke="#222" stroke-width="0.14">90</text>
<line x1="205.60" y1="203.90" x2="208.60" y2="203.90" stroke="#000" stroke-width="1.0" />
<line x1="205.60" y1="219.80" x2="208.60" y2="219.80" stroke="#000" stroke-width="1.0" />
<text x="203.40" y="222.60" font-size="6.3" text-anchor="end" font-weight="normal" fill="#222"  stroke="#222" stroke-width="0.14">80</text>
<text x="203.40" y="165.30" font-size="6.3" text-anchor="end" font-weight="normal" fill="#33a033"  stroke="#33a033" stroke-width="0.14">98.0</text>
<polyline points="204.00,163.00 207.40,161.80" fill="none" stroke="#33a033" stroke-width="0.6"/>
<text x="203.40" y="171.40" font-size="6.3" text-anchor="end" font-weight="normal" fill="#33a033"  stroke="#33a033" stroke-width="0.14">98.0</text>
<polyline points="204.00,169.10 207.40,162.40" fill="none" stroke="#33a033" stroke-width="0.6"/>
<text x="203.40" y="177.90" font-size="6.3" text-anchor="end" font-weight="normal" fill="#33a033"  stroke="#33a033" stroke-width="0.14">96.7</text>
<polyline points="204.00,175.60 207.40,166.60" fill="none" stroke="#33a033" stroke-width="0.6"/>
<text transform="translate(164.21,274.30) rotate(-90)" x="0" y="0" font-size="8.3" text-anchor="middle" font-weight="bold" fill="#000" textLength="39.0" lengthAdjust="spacingAndGlyphs">Recall (%)</text>
<text transform="translate(176.92,273.20) rotate(-90)" x="0" y="0" font-size="8.2" text-anchor="middle" font-weight="normal" fill="#000" textLength="37.0" lengthAdjust="spacingAndGlyphs" stroke="#000" stroke-width="0.12">Real segments</text>
<text transform="translate(185.62,274.00) rotate(-90)" x="0" y="0" font-size="8.2" text-anchor="middle" font-weight="normal" fill="#000" textLength="60.2" lengthAdjust="spacingAndGlyphs" stroke="#000" stroke-width="0.12">matched in diluted data</text>
<polygon points="217.80,263.50 220.80,255.50 223.70,251.10 228.10,248.20 233.90,246.80 241.20,246.00 250.00,245.30 263.10,244.60 324.00,244.60 324.00,265.90 312.40,265.90 305.70,262.50 296.80,260.30 286.00,260.30 283.70,256.70 272.00,256.20 260.20,256.00 250.00,256.20 241.20,255.50 233.90,256.20 228.10,259.90 223.70,264.30 220.00,271.60 218.10,278.10" fill="#000" fill-opacity="0.125"/>
<polygon points="255.30,303.00 255.20,298.00 256.70,285.40 259.30,277.00 261.80,271.90 266.80,266.80 275.30,263.50 283.70,260.10 288.70,257.60 300.00,255.50 310.00,256.00 324.00,257.00 324.00,273.80 315.80,273.80 310.30,275.60 305.00,277.50 300.00,278.60 292.10,280.30 283.70,282.80 275.30,285.40 268.50,287.90 263.50,290.40 259.30,295.50 256.70,303.90" fill="#000" fill-opacity="0.125"/>
<polyline points="255.32,300.70 260.61,283.80 265.90,279.20 271.19,275.00 276.48,272.90 281.77,271.80 287.06,269.30 292.35,267.20 297.64,264.90 302.93,264.10 308.22,265.10 313.51,260.70 318.80,262.40 324.09,261.90" fill="none" stroke="#1a1a1a" stroke-width="0.85" stroke-dasharray="0.7,0.8"/>
<circle cx="255.32" cy="300.70" r="0.95" fill="#fff" stroke="#111" stroke-width="0.5"/>
<circle cx="260.61" cy="283.80" r="0.95" fill="#fff" stroke="#111" stroke-width="0.5"/>
<circle cx="265.90" cy="279.20" r="0.95" fill="#fff" stroke="#111" stroke-width="0.5"/>
<circle cx="271.19" cy="275.00" r="0.95" fill="#fff" stroke="#111" stroke-width="0.5"/>
<circle cx="281.77" cy="271.80" r="0.95" fill="#fff" stroke="#111" stroke-width="0.5"/>
<circle cx="287.06" cy="269.30" r="0.95" fill="#fff" stroke="#111" stroke-width="0.5"/>
<circle cx="292.35" cy="267.20" r="0.95" fill="#fff" stroke="#111" stroke-width="0.5"/>
<circle cx="297.64" cy="264.90" r="0.95" fill="#fff" stroke="#111" stroke-width="0.5"/>
<circle cx="302.93" cy="264.10" r="0.95" fill="#fff" stroke="#111" stroke-width="0.5"/>
<circle cx="313.51" cy="260.70" r="0.95" fill="#fff" stroke="#111" stroke-width="0.5"/>
<circle cx="318.80" cy="262.40" r="0.95" fill="#fff" stroke="#111" stroke-width="0.5"/>
<circle cx="324.09" cy="261.90" r="0.95" fill="#fff" stroke="#111" stroke-width="0.5"/>
<polyline points="218.29,269.10 223.58,258.40 228.87,255.40 234.16,252.30 239.45,251.40 244.74,251.10 250.03,251.10 255.32,251.30 260.61,250.80 265.90,250.40 271.19,250.40 276.48,249.70 281.77,251.40 287.06,252.30 292.35,251.80 297.64,249.70 302.93,253.50 308.22,253.90 313.51,253.30 318.80,253.50 324.09,253.90" fill="none" stroke="#111" stroke-width="0.9" />
<circle cx="218.29" cy="269.10" r="1.05" fill="#111"/>
<circle cx="223.58" cy="258.40" r="1.05" fill="#111"/>
<circle cx="228.87" cy="255.40" r="1.05" fill="#111"/>
<circle cx="239.45" cy="251.40" r="1.05" fill="#111"/>
<circle cx="244.74" cy="251.10" r="1.05" fill="#111"/>
<circle cx="250.03" cy="251.10" r="1.05" fill="#111"/>
<circle cx="255.32" cy="251.30" r="1.05" fill="#111"/>
<circle cx="260.61" cy="250.80" r="1.05" fill="#111"/>
<circle cx="265.90" cy="250.40" r="1.05" fill="#111"/>
<circle cx="271.19" cy="250.40" r="1.05" fill="#111"/>
<circle cx="276.48" cy="249.70" r="1.05" fill="#111"/>
<circle cx="281.77" cy="251.40" r="1.05" fill="#111"/>
<circle cx="287.06" cy="252.30" r="1.05" fill="#111"/>
<circle cx="292.35" cy="251.80" r="1.05" fill="#111"/>
<circle cx="297.64" cy="249.70" r="1.05" fill="#111"/>
<circle cx="302.93" cy="253.50" r="1.05" fill="#111"/>
<circle cx="308.22" cy="253.90" r="1.05" fill="#111"/>
<circle cx="313.51" cy="253.30" r="1.05" fill="#111"/>
<circle cx="318.80" cy="253.50" r="1.05" fill="#111"/>
<circle cx="324.09" cy="253.90" r="1.05" fill="#111"/>
<rect x="231.86" y="250.00" width="4.60" height="4.60" fill="#fff" fill-opacity="0.7"/>
<rect x="232.26" y="250.40" width="3.80" height="3.80" fill="#33a033" />
<rect x="274.53" y="270.95" width="3.9" height="3.9" fill="#fff" fill-opacity="0.8"/>
<rect x="275.03" y="271.45" width="2.9" height="2.9" fill="#fff" stroke="#33a033" stroke-width="0.8"/>
<rect x="306.27" y="263.15" width="3.9" height="3.9" fill="#fff" fill-opacity="0.8"/>
<rect x="306.77" y="263.65" width="2.9" height="2.9" fill="#fff" stroke="#33a033" stroke-width="0.8"/>
<line x1="208.60" y1="238.00" x2="208.60" y2="306.30" stroke="#000" stroke-width="1.0" />
<line x1="205.60" y1="239.90" x2="208.60" y2="239.90" stroke="#000" stroke-width="1.0" />
<text x="203.40" y="242.70" font-size="6.3" text-anchor="end" font-weight="normal" fill="#222"  stroke="#222" stroke-width="0.14">100</text>
<line x1="205.60" y1="256.00" x2="208.60" y2="256.00" stroke="#000" stroke-width="1.0" />
<line x1="205.60" y1="272.10" x2="208.60" y2="272.10" stroke="#000" stroke-width="1.0" />
<text x="203.40" y="274.90" font-size="6.3" text-anchor="end" font-weight="normal" fill="#222"  stroke="#222" stroke-width="0.14">90</text>
<line x1="205.60" y1="288.20" x2="208.60" y2="288.20" stroke="#000" stroke-width="1.0" />
<line x1="205.60" y1="304.30" x2="208.60" y2="304.30" stroke="#000" stroke-width="1.0" />
<text x="203.40" y="307.10" font-size="6.3" text-anchor="end" font-weight="normal" fill="#222"  stroke="#222" stroke-width="0.14">80</text>
<text x="203.40" y="255.50" font-size="6.3" text-anchor="end" font-weight="normal" fill="#33a033"  stroke="#33a033" stroke-width="0.14">96.2</text>
<polyline points="204.00,253.20 207.40,252.30" fill="none" stroke="#33a033" stroke-width="0.6"/>
<text x="203.40" y="268.00" font-size="6.3" text-anchor="end" font-weight="normal" fill="#33a033"  stroke="#33a033" stroke-width="0.14">92.2</text>
<polyline points="204.00,265.70 207.40,265.20" fill="none" stroke="#33a033" stroke-width="0.6"/>
<text x="203.40" y="280.60" font-size="6.3" text-anchor="end" font-weight="normal" fill="#33a033"  stroke="#33a033" stroke-width="0.14">89.7</text>
<polyline points="204.00,278.30 207.40,273.00" fill="none" stroke="#33a033" stroke-width="0.6"/>
<text x="305.50" y="186.50" font-size="5.2" text-anchor="middle" font-weight="normal" fill="#333"  stroke="#333" stroke-width="0.14">Diluted dataset</text>
<line x1="288.20" y1="194.20" x2="297.90" y2="194.20" stroke="#000" stroke-width="1.1" />
<circle cx="293.10" cy="194.2" r="1.35" fill="#000"/>
<text x="301.60" y="196.50" font-size="5.2" text-anchor="start" font-weight="normal" fill="#333"  stroke="#333" stroke-width="0.14">1e6 reads</text>
<line x1="288.20" y1="204.20" x2="297.90" y2="204.20" stroke="#000" stroke-width="0.9" stroke-dasharray="0.8,1.4"/>
<circle cx="293.10" cy="204.2" r="1.2" fill="#fff" stroke="#000" stroke-width="0.65"/>
<text x="301.60" y="206.30" font-size="5.2" text-anchor="start" font-weight="normal" fill="#333"  stroke="#333" stroke-width="0.14">1e5 reads</text>
<rect x="290.90" y="212.10" width="4.60" height="4.70" fill="#dcdcdc" />
<text x="300.90" y="216.50" font-size="5.2" text-anchor="start" font-weight="normal" fill="#333"  stroke="#333" stroke-width="0.14">95% CI</text>
<rect x="291.60" y="222.60" width="3.40" height="3.40" fill="#33a033" />
<text x="301.60" y="226.40" font-size="5.2" text-anchor="start" font-weight="normal" fill="#333"  stroke="#333" stroke-width="0.14">Optimum</text>
<text x="268.40" y="317.00" font-size="8.2" text-anchor="middle" font-weight="normal" fill="#111" textLength="106.0" lengthAdjust="spacingAndGlyphs" stroke="#111" stroke-width="0.15">Minimal segment size enforced (minSize)</text>
<text x="194.20" y="327.80" font-size="5.2" text-anchor="middle" font-weight="normal" fill="#222"  stroke="#222" stroke-width="0.14">Mb</text>
<text x="193.80" y="338.00" font-size="5.2" text-anchor="middle" font-weight="normal" fill="#222" textLength="26.7" lengthAdjust="spacingAndGlyphs"  stroke="#222" stroke-width="0.14">300 kb bins</text>
<text x="193.80" y="348.00" font-size="5.2" text-anchor="middle" font-weight="normal" fill="#222" textLength="26.7" lengthAdjust="spacingAndGlyphs"  stroke="#222" stroke-width="0.14">1.5 Mb bins</text>
<text x="213.00" y="327.60" font-size="5.2" text-anchor="middle" font-weight="normal" fill="#888"  stroke="#888" stroke-width="0.14">0</text>
<text x="219.89" y="327.60" font-size="5.2" text-anchor="middle" font-weight="normal" fill="#222"  stroke="#222" stroke-width="0.14">1</text>
<text x="237.49" y="327.60" font-size="5.2" text-anchor="middle" font-weight="normal" fill="#222"  stroke="#222" stroke-width="0.14">2</text>
<text x="255.32" y="327.60" font-size="5.2" text-anchor="middle" font-weight="normal" fill="#222"  stroke="#222" stroke-width="0.14">3</text>
<text x="276.48" y="327.60" font-size="5.2" text-anchor="middle" font-weight="normal" fill="#222"  stroke="#222" stroke-width="0.14">9</text>
<text x="297.64" y="327.60" font-size="5.2" text-anchor="middle" font-weight="normal" fill="#222"  stroke="#222" stroke-width="0.14">15</text>
<text x="318.80" y="327.60" font-size="5.2" text-anchor="middle" font-weight="normal" fill="#222"  stroke="#222" stroke-width="0.14">21</text>
<rect x="260.31" y="324.40" width="0.60" height="2.20" fill="#e0e0e0" />
<rect x="265.60" y="324.40" width="0.60" height="2.20" fill="#e0e0e0" />
<rect x="270.89" y="324.40" width="0.60" height="2.20" fill="#e0e0e0" />
<rect x="281.47" y="324.40" width="0.60" height="2.20" fill="#e0e0e0" />
<rect x="286.76" y="324.40" width="0.60" height="2.20" fill="#e0e0e0" />
<rect x="292.05" y="324.40" width="0.60" height="2.20" fill="#e0e0e0" />
<rect x="302.63" y="324.40" width="0.60" height="2.20" fill="#e0e0e0" />
<rect x="307.92" y="324.40" width="0.60" height="2.20" fill="#e0e0e0" />
<rect x="313.21" y="324.40" width="0.60" height="2.20" fill="#e0e0e0" />
<rect x="323.79" y="324.40" width="0.60" height="2.20" fill="#e0e0e0" />
<text x="218.29" y="337.90" font-size="5.2" text-anchor="middle" font-weight="normal" fill="#222"  stroke="#222" stroke-width="0.14">3</text>
<text x="223.58" y="337.90" font-size="5.2" text-anchor="middle" font-weight="normal" fill="#222"  stroke="#222" stroke-width="0.14">4</text>
<text x="228.87" y="337.90" font-size="5.2" text-anchor="middle" font-weight="normal" fill="#222"  stroke="#222" stroke-width="0.14">5</text>
<text x="234.16" y="337.90" font-size="5.2" text-anchor="middle" font-weight="normal" fill="#33a033"  stroke="#33a033" stroke-width="0.14">6</text>
<text x="239.45" y="337.90" font-size="5.2" text-anchor="middle" font-weight="normal" fill="#222"  stroke="#222" stroke-width="0.14">7</text>
<text x="244.74" y="337.90" font-size="5.2" text-anchor="middle" font-weight="normal" fill="#222"  stroke="#222" stroke-width="0.14">8</text>
<text x="250.03" y="337.90" font-size="5.2" text-anchor="middle" font-weight="normal" fill="#222"  stroke="#222" stroke-width="0.14">9</text>
<text x="255.32" y="337.90" font-size="5.2" text-anchor="middle" font-weight="normal" fill="#222"  stroke="#222" stroke-width="0.14">10</text>
<text x="265.90" y="337.90" font-size="5.2" text-anchor="middle" font-weight="normal" fill="#222"  stroke="#222" stroke-width="0.14">20</text>
<text x="276.48" y="337.90" font-size="5.2" text-anchor="middle" font-weight="normal" fill="#222"  stroke="#222" stroke-width="0.14">30</text>
<text x="287.06" y="337.90" font-size="5.2" text-anchor="middle" font-weight="normal" fill="#222"  stroke="#222" stroke-width="0.14">40</text>
<text x="297.64" y="337.90" font-size="5.2" text-anchor="middle" font-weight="normal" fill="#222"  stroke="#222" stroke-width="0.14">50</text>
<text x="308.22" y="337.90" font-size="5.2" text-anchor="middle" font-weight="normal" fill="#222"  stroke="#222" stroke-width="0.14">60</text>
<text x="318.80" y="337.90" font-size="5.2" text-anchor="middle" font-weight="normal" fill="#222"  stroke="#222" stroke-width="0.14">70</text>
<rect x="260.31" y="334.70" width="0.60" height="2.20" fill="#e0e0e0" />
<rect x="270.89" y="334.70" width="0.60" height="2.20" fill="#e0e0e0" />
<rect x="281.47" y="334.70" width="0.60" height="2.20" fill="#e0e0e0" />
<rect x="292.05" y="334.70" width="0.60" height="2.20" fill="#e0e0e0" />
<rect x="302.63" y="334.70" width="0.60" height="2.20" fill="#e0e0e0" />
<rect x="313.21" y="334.70" width="0.60" height="2.20" fill="#e0e0e0" />
<rect x="323.79" y="334.70" width="0.60" height="2.20" fill="#e0e0e0" />
<text x="255.32" y="347.90" font-size="5.2" text-anchor="middle" font-weight="normal" fill="#222"  stroke="#222" stroke-width="0.14">2</text>
<text x="260.61" y="347.90" font-size="5.2" text-anchor="middle" font-weight="normal" fill="#222"  stroke="#222" stroke-width="0.14">3</text>
<text x="265.90" y="347.90" font-size="5.2" text-anchor="middle" font-weight="normal" fill="#222"  stroke="#222" stroke-width="0.14">4</text>
<text x="271.19" y="347.90" font-size="5.2" text-anchor="middle" font-weight="normal" fill="#222"  stroke="#222" stroke-width="0.14">5</text>
<text x="276.48" y="347.90" font-size="5.2" text-anchor="middle" font-weight="normal" fill="#33a033"  stroke="#33a033" stroke-width="0.14">6</text>
<text x="281.77" y="347.90" font-size="5.2" text-anchor="middle" font-weight="normal" fill="#222"  stroke="#222" stroke-width="0.14">7</text>
<text x="287.06" y="347.90" font-size="5.2" text-anchor="middle" font-weight="normal" fill="#222"  stroke="#222" stroke-width="0.14">8</text>
<text x="292.35" y="347.90" font-size="5.2" text-anchor="middle" font-weight="normal" fill="#222"  stroke="#222" stroke-width="0.14">9</text>
<text x="297.64" y="347.90" font-size="5.2" text-anchor="middle" font-weight="normal" fill="#222"  stroke="#222" stroke-width="0.14">10</text>
<text x="308.22" y="347.90" font-size="5.2" text-anchor="middle" font-weight="normal" fill="#33a033"  stroke="#33a033" stroke-width="0.14">12</text>
<text x="324.09" y="347.90" font-size="5.2" text-anchor="middle" font-weight="normal" fill="#222"  stroke="#222" stroke-width="0.14">15</text>
<rect x="302.63" y="344.70" width="0.60" height="2.20" fill="#e0e0e0" />
<rect x="313.21" y="344.70" width="0.60" height="2.20" fill="#e0e0e0" />
<rect x="318.50" y="344.70" width="0.60" height="2.20" fill="#e0e0e0" />
<text x="343.30" y="17.20" font-size="11.8" text-anchor="start" font-weight="bold" fill="#000" >C</text>
<text transform="translate(349.80,55.20) rotate(-90)" x="0" y="0" font-size="8.3" text-anchor="middle" font-weight="bold" fill="#000" textLength="34.2" lengthAdjust="spacingAndGlyphs">Regions</text>
<text transform="translate(361.92,55.90) rotate(-90)" x="0" y="0" font-size="8.2" text-anchor="middle" font-weight="normal" fill="#000" textLength="50.2" lengthAdjust="spacingAndGlyphs" stroke="#000" stroke-width="0.12">Wider than minSize</text>
<text transform="translate(373.22,55.70) rotate(-90)" x="0" y="0" font-size="8.2" text-anchor="middle" font-weight="normal" fill="#000" textLength="52.6" lengthAdjust="spacingAndGlyphs" stroke="#000" stroke-width="0.12">and thus considered</text>
<line x1="394.80" y1="35.40" x2="394.80" y2="75.80" stroke="#000" stroke-width="1.0" />
<line x1="391.80" y1="38.80" x2="394.80" y2="38.80" stroke="#000" stroke-width="1.0" />
<text x="389.60" y="41.60" font-size="6.3" text-anchor="end" font-weight="normal" fill="#222"  stroke="#222" stroke-width="0.14">500</text>
<line x1="391.80" y1="45.70" x2="394.80" y2="45.70" stroke="#000" stroke-width="1.0" />
<text x="389.60" y="48.50" font-size="6.3" text-anchor="end" font-weight="normal" fill="#222"  stroke="#222" stroke-width="0.14">400</text>
<line x1="391.80" y1="52.60" x2="394.80" y2="52.60" stroke="#000" stroke-width="1.0" />
<text x="389.60" y="55.40" font-size="6.3" text-anchor="end" font-weight="normal" fill="#222"  stroke="#222" stroke-width="0.14">300</text>
<line x1="391.80" y1="59.40" x2="394.80" y2="59.40" stroke="#000" stroke-width="1.0" />
<text x="389.60" y="62.20" font-size="6.3" text-anchor="end" font-weight="normal" fill="#222"  stroke="#222" stroke-width="0.14">200</text>
<line x1="391.80" y1="66.20" x2="394.80" y2="66.20" stroke="#000" stroke-width="1.0" />
<text x="389.60" y="69.00" font-size="6.3" text-anchor="end" font-weight="normal" fill="#222"  stroke="#222" stroke-width="0.14">100</text>
<line x1="391.80" y1="73.10" x2="394.80" y2="73.10" stroke="#000" stroke-width="1.0" />
<text x="389.60" y="75.90" font-size="6.3" text-anchor="end" font-weight="normal" fill="#222"  stroke="#222" stroke-width="0.14">0</text>
<rect x="397.45" y="35.10" width="3.10" height="37.80" fill="#d67676" />
<rect x="397.45" y="57.60" width="3.10" height="4.10" fill="#000" />
<rect x="397.45" y="61.70" width="3.10" height="11.20" fill="#7676c0" />
<rect x="402.74" y="36.00" width="3.10" height="36.90" fill="#d67676" />
<rect x="402.74" y="57.70" width="3.10" height="4.20" fill="#000" />
<rect x="402.74" y="61.90" width="3.10" height="11.00" fill="#7676c0" />
<rect x="408.03" y="37.80" width="3.10" height="35.10" fill="#d67676" />
<rect x="408.03" y="58.00" width="3.10" height="4.40" fill="#000" />
<rect x="408.03" y="62.40" width="3.10" height="10.50" fill="#7676c0" />
<rect x="413.32" y="39.10" width="3.10" height="33.80" fill="#d67676" />
<rect x="413.32" y="58.00" width="3.10" height="4.60" fill="#000" />
<rect x="413.32" y="62.60" width="3.10" height="10.30" fill="#7676c0" />
<rect x="418.61" y="40.20" width="3.10" height="32.70" fill="#d67676" />
<rect x="418.61" y="58.00" width="3.10" height="4.80" fill="#000" />
<rect x="418.61" y="62.80" width="3.10" height="10.10" fill="#7676c0" />
<rect x="423.90" y="41.20" width="3.10" height="31.70" fill="#d67676" />
<rect x="423.90" y="58.20" width="3.10" height="4.70" fill="#000" />
<rect x="423.90" y="62.90" width="3.10" height="10.00" fill="#7676c0" />
<rect x="429.19" y="41.90" width="3.10" height="31.00" fill="#d67676" />
<rect x="429.19" y="58.20" width="3.10" height="5.00" fill="#000" />
<rect x="429.19" y="63.20" width="3.10" height="9.70" fill="#7676c0" />
<rect x="434.48" y="43.00" width="3.10" height="29.90" fill="#d67676" />
<rect x="434.48" y="58.20" width="3.10" height="5.30" fill="#000" />
<rect x="434.48" y="63.50" width="3.10" height="9.40" fill="#7676c0" />
<rect x="439.77" y="43.80" width="3.10" height="29.10" fill="#d67676" />
<rect x="439.77" y="58.20" width="3.10" height="5.60" fill="#000" />
<rect x="439.77" y="63.80" width="3.10" height="9.10" fill="#7676c0" />
<rect x="445.06" y="45.90" width="3.10" height="27.00" fill="#d67676" />
<rect x="445.06" y="58.40" width="3.10" height="5.80" fill="#000" />
<rect x="445.06" y="64.20" width="3.10" height="8.70" fill="#7676c0" />
<rect x="450.35" y="47.20" width="3.10" height="25.70" fill="#d67676" />
<rect x="450.35" y="58.60" width="3.10" height="5.80" fill="#000" />
<rect x="450.35" y="64.40" width="3.10" height="8.50" fill="#7676c0" />
<rect x="455.64" y="47.80" width="3.10" height="25.10" fill="#d67676" />
<rect x="455.64" y="58.60" width="3.10" height="6.20" fill="#000" />
<rect x="455.64" y="64.80" width="3.10" height="8.10" fill="#7676c0" />
<rect x="460.93" y="48.50" width="3.10" height="24.40" fill="#d67676" />
<rect x="460.93" y="59.00" width="3.10" height="6.00" fill="#000" />
<rect x="460.93" y="65.00" width="3.10" height="7.90" fill="#7676c0" />
<rect x="466.22" y="49.30" width="3.10" height="23.60" fill="#d67676" />
<rect x="466.22" y="59.20" width="3.10" height="5.80" fill="#000" />
<rect x="466.22" y="65.00" width="3.10" height="7.90" fill="#7676c0" />
<rect x="471.51" y="50.30" width="3.10" height="22.60" fill="#d67676" />
<rect x="471.51" y="59.20" width="3.10" height="6.00" fill="#000" />
<rect x="471.51" y="65.20" width="3.10" height="7.70" fill="#7676c0" />
<rect x="476.80" y="51.20" width="3.10" height="21.70" fill="#d67676" />
<rect x="476.80" y="59.50" width="3.10" height="5.90" fill="#000" />
<rect x="476.80" y="65.40" width="3.10" height="7.50" fill="#7676c0" />
<rect x="482.09" y="51.50" width="3.10" height="21.40" fill="#d67676" />
<rect x="482.09" y="59.80" width="3.10" height="5.60" fill="#000" />
<rect x="482.09" y="65.40" width="3.10" height="7.50" fill="#7676c0" />
<rect x="487.38" y="52.00" width="3.10" height="20.90" fill="#d67676" />
<rect x="487.38" y="59.80" width="3.10" height="5.60" fill="#000" />
<rect x="487.38" y="65.40" width="3.10" height="7.50" fill="#7676c0" />
<rect x="492.67" y="52.40" width="3.10" height="20.50" fill="#d67676" />
<rect x="492.67" y="60.20" width="3.10" height="5.50" fill="#000" />
<rect x="492.67" y="65.70" width="3.10" height="7.20" fill="#7676c0" />
<rect x="497.96" y="53.00" width="3.10" height="19.90" fill="#d67676" />
<rect x="497.96" y="60.20" width="3.10" height="5.50" fill="#000" />
<rect x="497.96" y="65.70" width="3.10" height="7.20" fill="#7676c0" />
<rect x="503.25" y="53.70" width="3.10" height="19.20" fill="#d67676" />
<rect x="503.25" y="60.50" width="3.10" height="5.20" fill="#000" />
<rect x="503.25" y="65.70" width="3.10" height="7.20" fill="#7676c0" />
<rect x="508.54" y="54.30" width="3.10" height="18.60" fill="#d67676" />
<rect x="508.54" y="60.70" width="3.10" height="5.30" fill="#000" />
<rect x="508.54" y="66.00" width="3.10" height="6.90" fill="#7676c0" />
<rect x="472.00" y="20.60" width="4.60" height="4.30" fill="#7676c0" />
<text x="480.00" y="25.00" font-size="5.15" text-anchor="start" font-weight="normal" fill="#333"  stroke="#333" stroke-width="0.14">copy gains</text>
<rect x="472.00" y="30.60" width="4.60" height="4.30" fill="#000" />
<text x="480.00" y="35.00" font-size="5.15" text-anchor="start" font-weight="normal" fill="#333"  stroke="#333" stroke-width="0.14">mixed</text>
<rect x="472.00" y="40.50" width="4.60" height="4.30" fill="#d67676" />
<text x="480.00" y="44.90" font-size="5.15" text-anchor="start" font-weight="normal" fill="#333"  stroke="#333" stroke-width="0.14">copy losses</text>
<text transform="translate(350.20,117.00) rotate(-90)" x="0" y="0" font-size="8.3" text-anchor="middle" font-weight="bold" fill="#000" textLength="54.0" lengthAdjust="spacingAndGlyphs">Coverage (%)</text>
<text transform="translate(362.92,118.00) rotate(-90)" x="0" y="0" font-size="8.2" text-anchor="middle" font-weight="normal" fill="#000" textLength="52.2" lengthAdjust="spacingAndGlyphs" stroke="#000" stroke-width="0.12">Proportion of altered</text>
<text transform="translate(371.62,118.00) rotate(-90)" x="0" y="0" font-size="8.2" text-anchor="middle" font-weight="normal" fill="#000" textLength="52.2" lengthAdjust="spacingAndGlyphs" stroke="#000" stroke-width="0.12">bins still considered</text>
<line x1="394.60" y1="95.00" x2="394.60" y2="139.20" stroke="#000" stroke-width="1.0" />
<line x1="391.60" y1="98.40" x2="394.60" y2="98.40" stroke="#000" stroke-width="1.0" />
<text x="389.40" y="101.20" font-size="6.3" text-anchor="end" font-weight="normal" fill="#222"  stroke="#222" stroke-width="0.14">100</text>
<line x1="391.60" y1="117.60" x2="394.60" y2="117.60" stroke="#000" stroke-width="1.0" />
<line x1="391.60" y1="136.50" x2="394.60" y2="136.50" stroke="#000" stroke-width="1.0" />
<text x="389.40" y="139.30" font-size="6.3" text-anchor="end" font-weight="normal" fill="#222"  stroke="#222" stroke-width="0.14">90</text>
<text x="389.40" y="106.50" font-size="6.3" text-anchor="end" font-weight="normal" fill="#33a033"  stroke="#33a033" stroke-width="0.14">100.2</text>
<polyline points="390.00,104.20 393.40,97.60" fill="none" stroke="#33a033" stroke-width="0.6"/>
<text x="389.40" y="112.30" font-size="6.3" text-anchor="end" font-weight="normal" fill="#33a033"  stroke="#33a033" stroke-width="0.14">99.9</text>
<polyline points="390.00,110.00 393.40,98.80" fill="none" stroke="#33a033" stroke-width="0.6"/>
<text x="389.40" y="118.80" font-size="6.3" text-anchor="end" font-weight="normal" fill="#33a033"  stroke="#33a033" stroke-width="0.14">98.4</text>
<polyline points="390.00,116.50 393.40,104.60" fill="none" stroke="#33a033" stroke-width="0.6"/>
<polyline points="404.29,98.50 409.58,98.60 414.87,98.80 420.16,98.90 425.45,98.80 430.74,98.70 436.03,98.60 441.32,98.50 446.61,98.20 451.90,97.80 457.19,97.50 462.48,97.30 467.77,97.90 473.06,99.00 478.35,100.90 483.64,102.20 488.93,103.60 494.22,104.30 499.51,106.30 504.80,107.40 510.09,109.20" fill="none" stroke="#111" stroke-width="0.9" />
<polygon points="402.94,99.42 405.64,99.42 404.29,96.98" fill="none" stroke="#111" stroke-width="0.6"/>
<polygon points="408.23,99.52 410.93,99.52 409.58,97.08" fill="none" stroke="#111" stroke-width="0.6"/>
<polygon points="413.52,99.72 416.22,99.72 414.87,97.28" fill="none" stroke="#111" stroke-width="0.6"/>
<polygon points="424.10,99.72 426.80,99.72 425.45,97.28" fill="none" stroke="#111" stroke-width="0.6"/>
<polygon points="429.39,99.62 432.09,99.62 430.74,97.19" fill="none" stroke="#111" stroke-width="0.6"/>
<polygon points="434.68,99.52 437.38,99.52 436.03,97.08" fill="none" stroke="#111" stroke-width="0.6"/>
<polygon points="439.97,99.42 442.67,99.42 441.32,96.98" fill="none" stroke="#111" stroke-width="0.6"/>
<polygon points="445.26,99.12 447.96,99.12 446.61,96.69" fill="none" stroke="#111" stroke-width="0.6"/>
<polygon points="450.55,98.72 453.25,98.72 451.90,96.28" fill="none" stroke="#111" stroke-width="0.6"/>
<polygon points="455.84,98.42 458.54,98.42 457.19,95.98" fill="none" stroke="#111" stroke-width="0.6"/>
<polygon points="466.42,98.82 469.12,98.82 467.77,96.39" fill="none" stroke="#111" stroke-width="0.6"/>
<polygon points="471.71,99.92 474.41,99.92 473.06,97.48" fill="none" stroke="#111" stroke-width="0.6"/>
<polygon points="477.00,101.82 479.70,101.82 478.35,99.39" fill="none" stroke="#111" stroke-width="0.6"/>
<polygon points="482.29,103.12 484.99,103.12 483.64,100.69" fill="none" stroke="#111" stroke-width="0.6"/>
<polygon points="487.58,104.52 490.28,104.52 488.93,102.08" fill="none" stroke="#111" stroke-width="0.6"/>
<polygon points="498.16,107.22 500.86,107.22 499.51,104.78" fill="none" stroke="#111" stroke-width="0.6"/>
<polygon points="503.45,108.32 506.15,108.32 504.80,105.89" fill="none" stroke="#111" stroke-width="0.6"/>
<polygon points="508.74,110.12 511.44,110.12 510.09,107.69" fill="none" stroke="#111" stroke-width="0.6"/>
<polygon points="417.86,100.47 422.46,100.47 420.16,96.33" fill="#fff" stroke="#33a033" stroke-width="0.8"/>
<polygon points="460.18,98.87 464.78,98.87 462.48,94.73" fill="#fff" stroke="#33a033" stroke-width="0.8"/>
<polygon points="491.92,105.87 496.52,105.87 494.22,101.73" fill="#fff" stroke="#33a033" stroke-width="0.8"/>
<text transform="translate(350.20,188.00) rotate(-90)" x="0" y="0" font-size="8.3" text-anchor="middle" font-weight="bold" fill="#000" textLength="53.1" lengthAdjust="spacingAndGlyphs">Precision (%)</text>
<text transform="translate(362.92,187.40) rotate(-90)" x="0" y="0" font-size="8.2" text-anchor="middle" font-weight="normal" fill="#000" textLength="59.0" lengthAdjust="spacingAndGlyphs" stroke="#000" stroke-width="0.12">Regions in diluted data</text>
<text transform="translate(371.62,186.90) rotate(-90)" x="0" y="0" font-size="8.2" text-anchor="middle" font-weight="normal" fill="#000" textLength="53.4" lengthAdjust="spacingAndGlyphs" stroke="#000" stroke-width="0.12">matching real one(s)</text>
<polygon points="404.40,166.40 409.00,161.90 414.40,158.20 421.70,157.30 434.50,157.30 445.40,156.40 458.00,156.20 475.00,156.10 510.00,155.50 510.00,159.90 487.50,161.80 475.00,161.50 458.00,160.00 445.40,161.00 434.50,164.60 423.50,165.50 415.30,164.60 410.80,171.90 407.10,182.80 405.00,194.70" fill="#000" fill-opacity="0.125"/>
<polygon points="441.80,210.00 441.80,195.60 444.50,177.40 449.10,168.20 452.70,164.60 458.00,161.90 475.00,158.50 510.00,157.00 510.00,161.50 487.50,163.00 475.00,164.00 462.50,166.00 458.00,173.70 452.70,182.80 447.30,195.60 442.70,210.20" fill="#000" fill-opacity="0.125"/>
<polyline points="441.32,198.30 446.61,182.90 451.90,172.00 457.19,165.10 462.48,163.20 467.77,160.80 473.06,160.50 478.35,160.00 483.64,160.50 488.93,160.50 494.22,159.70 499.51,158.60 504.80,158.30 510.09,158.10" fill="none" stroke="#1a1a1a" stroke-width="0.85" stroke-dasharray="0.7,0.8"/>
<circle cx="441.32" cy="198.30" r="0.95" fill="#fff" stroke="#111" stroke-width="0.5"/>
<circle cx="446.61" cy="182.90" r="0.95" fill="#fff" stroke="#111" stroke-width="0.5"/>
<circle cx="451.90" cy="172.00" r="0.95" fill="#fff" stroke="#111" stroke-width="0.5"/>
<circle cx="457.19" cy="165.10" r="0.95" fill="#fff" stroke="#111" stroke-width="0.5"/>
<circle cx="467.77" cy="160.80" r="0.95" fill="#fff" stroke="#111" stroke-width="0.5"/>
<circle cx="473.06" cy="160.50" r="0.95" fill="#fff" stroke="#111" stroke-width="0.5"/>
<circle cx="478.35" cy="160.00" r="0.95" fill="#fff" stroke="#111" stroke-width="0.5"/>
<circle cx="483.64" cy="160.50" r="0.95" fill="#fff" stroke="#111" stroke-width="0.5"/>
<circle cx="488.93" cy="160.50" r="0.95" fill="#fff" stroke="#111" stroke-width="0.5"/>
<circle cx="499.51" cy="158.60" r="0.95" fill="#fff" stroke="#111" stroke-width="0.5"/>
<circle cx="504.80" cy="158.30" r="0.95" fill="#fff" stroke="#111" stroke-width="0.5"/>
<circle cx="510.09" cy="158.10" r="0.95" fill="#fff" stroke="#111" stroke-width="0.5"/>
<polyline points="404.29,178.70 409.58,166.30 414.87,160.00 420.16,160.80 425.45,161.70 430.74,159.70 436.03,161.20 441.32,160.50 446.61,157.40 451.90,157.70 457.19,158.90 462.48,159.70 467.77,159.70 473.06,158.90 478.35,159.20 483.64,158.90 488.93,158.60 494.22,158.10 499.51,158.10 504.80,157.40 510.09,157.70" fill="none" stroke="#111" stroke-width="0.9" />
<circle cx="404.29" cy="178.70" r="1.05" fill="#111"/>
<circle cx="409.58" cy="166.30" r="1.05" fill="#111"/>
<circle cx="414.87" cy="160.00" r="1.05" fill="#111"/>
<circle cx="425.45" cy="161.70" r="1.05" fill="#111"/>
<circle cx="430.74" cy="159.70" r="1.05" fill="#111"/>
<circle cx="436.03" cy="161.20" r="1.05" fill="#111"/>
<circle cx="441.32" cy="160.50" r="1.05" fill="#111"/>
<circle cx="446.61" cy="157.40" r="1.05" fill="#111"/>
<circle cx="451.90" cy="157.70" r="1.05" fill="#111"/>
<circle cx="457.19" cy="158.90" r="1.05" fill="#111"/>
<circle cx="462.48" cy="159.70" r="1.05" fill="#111"/>
<circle cx="467.77" cy="159.70" r="1.05" fill="#111"/>
<circle cx="473.06" cy="158.90" r="1.05" fill="#111"/>
<circle cx="478.35" cy="159.20" r="1.05" fill="#111"/>
<circle cx="483.64" cy="158.90" r="1.05" fill="#111"/>
<circle cx="488.93" cy="158.60" r="1.05" fill="#111"/>
<circle cx="494.22" cy="158.10" r="1.05" fill="#111"/>
<circle cx="499.51" cy="158.10" r="1.05" fill="#111"/>
<circle cx="504.80" cy="157.40" r="1.05" fill="#111"/>
<circle cx="510.09" cy="157.70" r="1.05" fill="#111"/>
<rect x="417.86" y="158.50" width="4.60" height="4.60" fill="#fff" fill-opacity="0.7"/>
<rect x="418.26" y="158.90" width="3.80" height="3.80" fill="#33a033" />
<rect x="460.53" y="161.25" width="3.9" height="3.9" fill="#fff" fill-opacity="0.8"/>
<rect x="461.03" y="161.75" width="2.9" height="2.9" fill="#fff" stroke="#33a033" stroke-width="0.8"/>
<rect x="492.27" y="157.75" width="3.9" height="3.9" fill="#fff" fill-opacity="0.8"/>
<rect x="492.77" y="158.25" width="2.9" height="2.9" fill="#fff" stroke="#33a033" stroke-width="0.8"/>
<line x1="394.60" y1="153.50" x2="394.60" y2="222.40" stroke="#000" stroke-width="1.0" />
<line x1="391.60" y1="156.10" x2="394.60" y2="156.10" stroke="#000" stroke-width="1.0" />
<text x="389.40" y="158.90" font-size="6.3" text-anchor="end" font-weight="normal" fill="#222"  stroke="#222" stroke-width="0.14">100</text>
<line x1="391.60" y1="171.80" x2="394.60" y2="171.80" stroke="#000" stroke-width="1.0" />
<line x1="391.60" y1="187.50" x2="394.60" y2="187.50" stroke="#000" stroke-width="1.0" />
<text x="389.40" y="190.30" font-size="6.3" text-anchor="end" font-weight="normal" fill="#222"  stroke="#222" stroke-width="0.14">90</text>
<line x1="391.60" y1="203.20" x2="394.60" y2="203.20" stroke="#000" stroke-width="1.0" />
<line x1="391.60" y1="218.90" x2="394.60" y2="218.90" stroke="#000" stroke-width="1.0" />
<text x="389.40" y="221.70" font-size="6.3" text-anchor="end" font-weight="normal" fill="#222"  stroke="#222" stroke-width="0.14">80</text>
<text x="389.40" y="165.10" font-size="6.3" text-anchor="end" font-weight="normal" fill="#33a033"  stroke="#33a033" stroke-width="0.14">98.9</text>
<polyline points="390.00,162.80 393.40,159.60" fill="none" stroke="#33a033" stroke-width="0.6"/>
<text x="389.40" y="171.80" font-size="6.3" text-anchor="end" font-weight="normal" fill="#33a033"  stroke="#33a033" stroke-width="0.14">98.5</text>
<polyline points="390.00,169.50 393.40,160.80" fill="none" stroke="#33a033" stroke-width="0.6"/>
<text x="389.40" y="178.00" font-size="6.3" text-anchor="end" font-weight="normal" fill="#33a033"  stroke="#33a033" stroke-width="0.14">97.8</text>
<polyline points="390.00,175.70 393.40,163.00" fill="none" stroke="#33a033" stroke-width="0.6"/>
<text transform="translate(350.20,274.30) rotate(-90)" x="0" y="0" font-size="8.3" text-anchor="middle" font-weight="bold" fill="#000" textLength="39.0" lengthAdjust="spacingAndGlyphs">Recall (%)</text>
<text transform="translate(362.92,274.20) rotate(-90)" x="0" y="0" font-size="8.2" text-anchor="middle" font-weight="normal" fill="#000" textLength="32.0" lengthAdjust="spacingAndGlyphs" stroke="#000" stroke-width="0.12">Real regions</text>
<text transform="translate(371.62,274.00) rotate(-90)" x="0" y="0" font-size="8.2" text-anchor="middle" font-weight="normal" fill="#000" textLength="60.2" lengthAdjust="spacingAndGlyphs" stroke="#000" stroke-width="0.12">matched in diluted data</text>
<polygon points="403.60,254.70 404.70,252.50 408.40,250.10 416.90,248.40 433.70,247.60 450.60,245.90 459.00,244.20 475.00,245.10 487.20,246.50 509.50,246.50 509.50,268.70 492.50,268.10 486.90,267.00 484.60,259.10 475.00,258.50 464.10,256.90 455.60,256.90 445.50,258.50 437.10,259.40 425.30,261.10 413.50,261.90 409.30,265.30 405.90,272.00 403.80,277.00" fill="#000" fill-opacity="0.125"/>
<polygon points="441.30,302.70 441.60,273.70 444.70,270.00 450.60,268.30 459.00,267.80 467.50,267.00 474.50,265.30 484.60,264.20 486.00,262.00 492.50,264.20 498.00,263.00 503.70,262.50 509.50,260.80 509.50,289.30 502.80,290.40 498.40,288.20 487.20,288.20 476.00,292.60 471.60,296.00 464.90,292.60 453.80,292.60 444.80,298.20 441.80,303.00" fill="#000" fill-opacity="0.125"/>
<polyline points="441.32,290.80 446.61,280.30 451.90,278.60 457.19,278.60 462.48,279.60 467.77,280.30 473.06,281.70 478.35,276.50 483.64,276.50 488.93,276.50 494.22,277.70 499.51,274.60 504.80,276.10 510.09,273.50" fill="none" stroke="#1a1a1a" stroke-width="0.85" stroke-dasharray="0.7,0.8"/>
<circle cx="441.32" cy="290.80" r="0.95" fill="#fff" stroke="#111" stroke-width="0.5"/>
<circle cx="446.61" cy="280.30" r="0.95" fill="#fff" stroke="#111" stroke-width="0.5"/>
<circle cx="451.90" cy="278.60" r="0.95" fill="#fff" stroke="#111" stroke-width="0.5"/>
<circle cx="457.19" cy="278.60" r="0.95" fill="#fff" stroke="#111" stroke-width="0.5"/>
<circle cx="467.77" cy="280.30" r="0.95" fill="#fff" stroke="#111" stroke-width="0.5"/>
<circle cx="473.06" cy="281.70" r="0.95" fill="#fff" stroke="#111" stroke-width="0.5"/>
<circle cx="478.35" cy="276.50" r="0.95" fill="#fff" stroke="#111" stroke-width="0.5"/>
<circle cx="483.64" cy="276.50" r="0.95" fill="#fff" stroke="#111" stroke-width="0.5"/>
<circle cx="488.93" cy="276.50" r="0.95" fill="#fff" stroke="#111" stroke-width="0.5"/>
<circle cx="499.51" cy="274.60" r="0.95" fill="#fff" stroke="#111" stroke-width="0.5"/>
<circle cx="504.80" cy="276.10" r="0.95" fill="#fff" stroke="#111" stroke-width="0.5"/>
<circle cx="510.09" cy="273.50" r="0.95" fill="#fff" stroke="#111" stroke-width="0.5"/>
<polyline points="404.29,266.20 409.58,259.20 414.87,257.10 420.16,256.50 425.45,255.00 430.74,254.60 436.03,254.60 441.32,253.20 446.61,252.90 451.90,251.40 457.19,249.70 462.48,249.10 467.77,250.20 473.06,250.80 478.35,250.80 483.64,251.40 488.93,255.40 494.22,255.40 499.51,255.00 504.80,255.40 510.09,256.10" fill="none" stroke="#111" stroke-width="0.9" />
<circle cx="404.29" cy="266.20" r="1.05" fill="#111"/>
<circle cx="409.58" cy="259.20" r="1.05" fill="#111"/>
<circle cx="414.87" cy="257.10" r="1.05" fill="#111"/>
<circle cx="425.45" cy="255.00" r="1.05" fill="#111"/>
<circle cx="430.74" cy="254.60" r="1.05" fill="#111"/>
<circle cx="436.03" cy="254.60" r="1.05" fill="#111"/>
<circle cx="441.32" cy="253.20" r="1.05" fill="#111"/>
<circle cx="446.61" cy="252.90" r="1.05" fill="#111"/>
<circle cx="451.90" cy="251.40" r="1.05" fill="#111"/>
<circle cx="457.19" cy="249.70" r="1.05" fill="#111"/>
<circle cx="462.48" cy="249.10" r="1.05" fill="#111"/>
<circle cx="467.77" cy="250.20" r="1.05" fill="#111"/>
<circle cx="473.06" cy="250.80" r="1.05" fill="#111"/>
<circle cx="478.35" cy="250.80" r="1.05" fill="#111"/>
<circle cx="483.64" cy="251.40" r="1.05" fill="#111"/>
<circle cx="488.93" cy="255.40" r="1.05" fill="#111"/>
<circle cx="494.22" cy="255.40" r="1.05" fill="#111"/>
<circle cx="499.51" cy="255.00" r="1.05" fill="#111"/>
<circle cx="504.80" cy="255.40" r="1.05" fill="#111"/>
<circle cx="510.09" cy="256.10" r="1.05" fill="#111"/>
<rect x="417.86" y="254.20" width="4.60" height="4.60" fill="#fff" fill-opacity="0.7"/>
<rect x="418.26" y="254.60" width="3.80" height="3.80" fill="#33a033" />
<rect x="460.53" y="277.65" width="3.9" height="3.9" fill="#fff" fill-opacity="0.8"/>
<rect x="461.03" y="278.15" width="2.9" height="2.9" fill="#fff" stroke="#33a033" stroke-width="0.8"/>
<rect x="492.27" y="275.75" width="3.9" height="3.9" fill="#fff" fill-opacity="0.8"/>
<rect x="492.77" y="276.25" width="2.9" height="2.9" fill="#fff" stroke="#33a033" stroke-width="0.8"/>
<line x1="394.60" y1="238.00" x2="394.60" y2="306.30" stroke="#000" stroke-width="1.0" />
<line x1="391.60" y1="239.60" x2="394.60" y2="239.60" stroke="#000" stroke-width="1.0" />
<text x="389.40" y="242.40" font-size="6.3" text-anchor="end" font-weight="normal" fill="#222"  stroke="#222" stroke-width="0.14">100</text>
<line x1="391.60" y1="255.70" x2="394.60" y2="255.70" stroke="#000" stroke-width="1.0" />
<line x1="391.60" y1="271.80" x2="394.60" y2="271.80" stroke="#000" stroke-width="1.0" />
<text x="389.40" y="274.60" font-size="6.3" text-anchor="end" font-weight="normal" fill="#222"  stroke="#222" stroke-width="0.14">90</text>
<line x1="391.60" y1="287.60" x2="394.60" y2="287.60" stroke="#000" stroke-width="1.0" />
<line x1="391.60" y1="303.40" x2="394.60" y2="303.40" stroke="#000" stroke-width="1.0" />
<text x="389.40" y="306.20" font-size="6.3" text-anchor="end" font-weight="normal" fill="#222"  stroke="#222" stroke-width="0.14">80</text>
<text x="389.40" y="258.90" font-size="6.3" text-anchor="end" font-weight="normal" fill="#33a033"  stroke="#33a033" stroke-width="0.14">94.8</text>
<polyline points="390.00,256.60 393.40,256.30" fill="none" stroke="#33a033" stroke-width="0.6"/>
<text x="389.40" y="281.00" font-size="6.3" text-anchor="end" font-weight="normal" fill="#33a033"  stroke="#33a033" stroke-width="0.14">88.2</text>
<polyline points="390.00,278.70 393.40,277.60" fill="none" stroke="#33a033" stroke-width="0.6"/>
<text x="389.40" y="287.70" font-size="6.3" text-anchor="end" font-weight="normal" fill="#33a033"  stroke="#33a033" stroke-width="0.14">87.6</text>
<polyline points="390.00,285.40 393.40,279.60" fill="none" stroke="#33a033" stroke-width="0.6"/>
<text x="491.50" y="186.50" font-size="5.2" text-anchor="middle" font-weight="normal" fill="#333"  stroke="#333" stroke-width="0.14">Diluted dataset</text>
<line x1="474.20" y1="194.20" x2="483.90" y2="194.20" stroke="#000" stroke-width="1.1" />
<circle cx="479.10" cy="194.2" r="1.35" fill="#000"/>
<text x="487.60" y="196.50" font-size="5.2" text-anchor="start" font-weight="normal" fill="#333"  stroke="#333" stroke-width="0.14">1e6 reads</text>
<line x1="474.20" y1="204.20" x2="483.90" y2="204.20" stroke="#000" stroke-width="0.9" stroke-dasharray="0.8,1.4"/>
<circle cx="479.10" cy="204.2" r="1.2" fill="#fff" stroke="#000" stroke-width="0.65"/>
<text x="487.60" y="206.30" font-size="5.2" text-anchor="start" font-weight="normal" fill="#333"  stroke="#333" stroke-width="0.14">1e5 reads</text>
<rect x="476.90" y="212.10" width="4.60" height="4.70" fill="#dcdcdc" />
<text x="486.90" y="216.50" font-size="5.2" text-anchor="start" font-weight="normal" fill="#333"  stroke="#333" stroke-width="0.14">95% CI</text>
<rect x="477.60" y="222.60" width="3.40" height="3.40" fill="#33a033" />
<text x="487.60" y="226.40" font-size="5.2" text-anchor="start" font-weight="normal" fill="#333"  stroke="#333" stroke-width="0.14">Optimum</text>
<text x="454.40" y="317.00" font-size="8.2" text-anchor="middle" font-weight="normal" fill="#111" textLength="106.0" lengthAdjust="spacingAndGlyphs" stroke="#111" stroke-width="0.15">Minimal segment size enforced (minSize)</text>
<text x="380.20" y="327.80" font-size="5.2" text-anchor="middle" font-weight="normal" fill="#222"  stroke="#222" stroke-width="0.14">Mb</text>
<text x="379.80" y="338.00" font-size="5.2" text-anchor="middle" font-weight="normal" fill="#222" textLength="26.7" lengthAdjust="spacingAndGlyphs"  stroke="#222" stroke-width="0.14">300 kb bins</text>
<text x="379.80" y="348.00" font-size="5.2" text-anchor="middle" font-weight="normal" fill="#222" textLength="26.7" lengthAdjust="spacingAndGlyphs"  stroke="#222" stroke-width="0.14">1.5 Mb bins</text>
<text x="399.00" y="327.60" font-size="5.2" text-anchor="middle" font-weight="normal" fill="#888"  stroke="#888" stroke-width="0.14">0</text>
<text x="405.89" y="327.60" font-size="5.2" text-anchor="middle" font-weight="normal" fill="#222"  stroke="#222" stroke-width="0.14">1</text>
<text x="423.49" y="327.60" font-size="5.2" text-anchor="middle" font-weight="normal" fill="#222"  stroke="#222" stroke-width="0.14">2</text>
<text x="441.32" y="327.60" font-size="5.2" text-anchor="middle" font-weight="normal" fill="#222"  stroke="#222" stroke-width="0.14">3</text>
<text x="462.48" y="327.60" font-size="5.2" text-anchor="middle" font-weight="normal" fill="#222"  stroke="#222" stroke-width="0.14">9</text>
<text x="483.64" y="327.60" font-size="5.2" text-anchor="middle" font-weight="normal" fill="#222"  stroke="#222" stroke-width="0.14">15</text>
<text x="504.80" y="327.60" font-size="5.2" text-anchor="middle" font-weight="normal" fill="#222"  stroke="#222" stroke-width="0.14">21</text>
<rect x="446.31" y="324.40" width="0.60" height="2.20" fill="#e0e0e0" />
<rect x="451.60" y="324.40" width="0.60" height="2.20" fill="#e0e0e0" />
<rect x="456.89" y="324.40" width="0.60" height="2.20" fill="#e0e0e0" />
<rect x="467.47" y="324.40" width="0.60" height="2.20" fill="#e0e0e0" />
<rect x="472.76" y="324.40" width="0.60" height="2.20" fill="#e0e0e0" />
<rect x="478.05" y="324.40" width="0.60" height="2.20" fill="#e0e0e0" />
<rect x="488.63" y="324.40" width="0.60" height="2.20" fill="#e0e0e0" />
<rect x="493.92" y="324.40" width="0.60" height="2.20" fill="#e0e0e0" />
<rect x="499.21" y="324.40" width="0.60" height="2.20" fill="#e0e0e0" />
<rect x="509.79" y="324.40" width="0.60" height="2.20" fill="#e0e0e0" />
<text x="404.29" y="337.90" font-size="5.2" text-anchor="middle" font-weight="normal" fill="#222"  stroke="#222" stroke-width="0.14">3</text>
<text x="409.58" y="337.90" font-size="5.2" text-anchor="middle" font-weight="normal" fill="#222"  stroke="#222" stroke-width="0.14">4</text>
<text x="414.87" y="337.90" font-size="5.2" text-anchor="middle" font-weight="normal" fill="#222"  stroke="#222" stroke-width="0.14">5</text>
<text x="420.16" y="337.90" font-size="5.2" text-anchor="middle" font-weight="normal" fill="#33a033"  stroke="#33a033" stroke-width="0.14">6</text>
<text x="425.45" y="337.90" font-size="5.2" text-anchor="middle" font-weight="normal" fill="#222"  stroke="#222" stroke-width="0.14">7</text>
<text x="430.74" y="337.90" font-size="5.2" text-anchor="middle" font-weight="normal" fill="#222"  stroke="#222" stroke-width="0.14">8</text>
<text x="436.03" y="337.90" font-size="5.2" text-anchor="middle" font-weight="normal" fill="#222"  stroke="#222" stroke-width="0.14">9</text>
<text x="441.32" y="337.90" font-size="5.2" text-anchor="middle" font-weight="normal" fill="#222"  stroke="#222" stroke-width="0.14">10</text>
<text x="451.90" y="337.90" font-size="5.2" text-anchor="middle" font-weight="normal" fill="#222"  stroke="#222" stroke-width="0.14">20</text>
<text x="462.48" y="337.90" font-size="5.2" text-anchor="middle" font-weight="normal" fill="#222"  stroke="#222" stroke-width="0.14">30</text>
<text x="473.06" y="337.90" font-size="5.2" text-anchor="middle" font-weight="normal" fill="#222"  stroke="#222" stroke-width="0.14">40</text>
<text x="483.64" y="337.90" font-size="5.2" text-anchor="middle" font-weight="normal" fill="#222"  stroke="#222" stroke-width="0.14">50</text>
<text x="494.22" y="337.90" font-size="5.2" text-anchor="middle" font-weight="normal" fill="#222"  stroke="#222" stroke-width="0.14">60</text>
<text x="504.80" y="337.90" font-size="5.2" text-anchor="middle" font-weight="normal" fill="#222"  stroke="#222" stroke-width="0.14">70</text>
<rect x="446.31" y="334.70" width="0.60" height="2.20" fill="#e0e0e0" />
<rect x="456.89" y="334.70" width="0.60" height="2.20" fill="#e0e0e0" />
<rect x="467.47" y="334.70" width="0.60" height="2.20" fill="#e0e0e0" />
<rect x="478.05" y="334.70" width="0.60" height="2.20" fill="#e0e0e0" />
<rect x="488.63" y="334.70" width="0.60" height="2.20" fill="#e0e0e0" />
<rect x="499.21" y="334.70" width="0.60" height="2.20" fill="#e0e0e0" />
<rect x="509.79" y="334.70" width="0.60" height="2.20" fill="#e0e0e0" />
<text x="441.32" y="347.90" font-size="5.2" text-anchor="middle" font-weight="normal" fill="#222"  stroke="#222" stroke-width="0.14">2</text>
<text x="446.61" y="347.90" font-size="5.2" text-anchor="middle" font-weight="normal" fill="#222"  stroke="#222" stroke-width="0.14">3</text>
<text x="451.90" y="347.90" font-size="5.2" text-anchor="middle" font-weight="normal" fill="#222"  stroke="#222" stroke-width="0.14">4</text>
<text x="457.19" y="347.90" font-size="5.2" text-anchor="middle" font-weight="normal" fill="#222"  stroke="#222" stroke-width="0.14">5</text>
<text x="462.48" y="347.90" font-size="5.2" text-anchor="middle" font-weight="normal" fill="#33a033"  stroke="#33a033" stroke-width="0.14">6</text>
<text x="467.77" y="347.90" font-size="5.2" text-anchor="middle" font-weight="normal" fill="#222"  stroke="#222" stroke-width="0.14">7</text>
<text x="473.06" y="347.90" font-size="5.2" text-anchor="middle" font-weight="normal" fill="#222"  stroke="#222" stroke-width="0.14">8</text>
<text x="478.35" y="347.90" font-size="5.2" text-anchor="middle" font-weight="normal" fill="#222"  stroke="#222" stroke-width="0.14">9</text>
<text x="483.64" y="347.90" font-size="5.2" text-anchor="middle" font-weight="normal" fill="#222"  stroke="#222" stroke-width="0.14">10</text>
<text x="494.22" y="347.90" font-size="5.2" text-anchor="middle" font-weight="normal" fill="#33a033"  stroke="#33a033" stroke-width="0.14">12</text>
<text x="510.09" y="347.90" font-size="5.2" text-anchor="middle" font-weight="normal" fill="#222"  stroke="#222" stroke-width="0.14">15</text>
<rect x="488.63" y="344.70" width="0.60" height="2.20" fill="#e0e0e0" />
<rect x="499.21" y="344.70" width="0.60" height="2.20" fill="#e0e0e0" />
<rect x="504.50" y="344.70" width="0.60" height="2.20" fill="#e0e0e0" />
<rect x="0" y="0" width="520" height="1.05" fill="#000"/><rect x="0" y="0" width="1.0" height="356" fill="#000"/><rect x="518.7" y="0" width="1.3" height="356" fill="#000"/><rect x="0" y="354.6" width="520" height="1.4" fill="#000"/>
</svg>
</body></html>
